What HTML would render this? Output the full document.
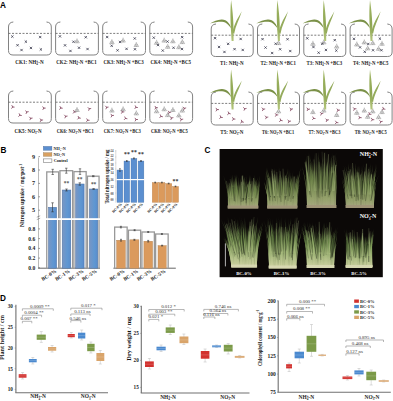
<!DOCTYPE html>
<html><head><meta charset="utf-8"><style>
html,body{margin:0;padding:0;background:#fff;width:393px;height:401px;overflow:hidden;}
svg{display:block;}
</style></head><body>
<svg width="393" height="401" viewBox="0 0 393 401">
<defs>
<linearGradient id="gb" x1="0" x2="1" y1="0" y2="0"><stop offset="0" stop-color="#7896c4"/><stop offset="0.6" stop-color="#5f97d2"/><stop offset="1" stop-color="#5a8ccb"/></linearGradient>
<linearGradient id="gc1" x1="0" x2="0" y1="0" y2="1"><stop offset="0" stop-color="#1c2416" stop-opacity="0.4"/><stop offset="0.35" stop-color="#4c6236" stop-opacity="0.85"/><stop offset="0.72" stop-color="#72864c"/><stop offset="1" stop-color="#a0a678"/></linearGradient>
<linearGradient id="gc2" x1="0" x2="0" y1="0" y2="1"><stop offset="0" stop-color="#1c2416" stop-opacity="0.5"/><stop offset="0.3" stop-color="#3e562e" stop-opacity="0.85"/><stop offset="0.6" stop-color="#5a7840"/><stop offset="0.76" stop-color="#8aa062"/><stop offset="1" stop-color="#b0b888"/></linearGradient>
<linearGradient id="gdark" x1="0" x2="0" y1="0" y2="1"><stop offset="0" stop-color="#0b0807" stop-opacity="0.45"/><stop offset="1" stop-color="#0b0807" stop-opacity="0"/></linearGradient>
<linearGradient id="gl" x1="0" x2="0" y1="0" y2="1"><stop offset="0" stop-color="#a3b868"/><stop offset="0.6" stop-color="#8ea652"/><stop offset="1" stop-color="#b4c67c"/></linearGradient>
<linearGradient id="cg1" gradientUnits="userSpaceOnUse" x1="0" y1="174.0" x2="0" y2="208.5"><stop offset="0" stop-color="#6a8248"/><stop offset="0.5" stop-color="#72894c"/><stop offset="0.85" stop-color="#98a46e"/><stop offset="1" stop-color="#aaa884"/></linearGradient>
<linearGradient id="cb1" gradientUnits="userSpaceOnUse" x1="0" y1="180.9" x2="0" y2="208.5"><stop offset="0" stop-color="#72894c" stop-opacity="0"/><stop offset="0.45" stop-color="#72894c" stop-opacity="0.6"/><stop offset="0.8" stop-color="#98a46e" stop-opacity="0.8"/><stop offset="1" stop-color="#aaa884" stop-opacity="0.9"/></linearGradient>
<linearGradient id="cg2" gradientUnits="userSpaceOnUse" x1="0" y1="166.8" x2="0" y2="208.5"><stop offset="0" stop-color="#6a8248"/><stop offset="0.5" stop-color="#72894c"/><stop offset="0.85" stop-color="#98a46e"/><stop offset="1" stop-color="#aaa884"/></linearGradient>
<linearGradient id="cb2" gradientUnits="userSpaceOnUse" x1="0" y1="175.1" x2="0" y2="208.5"><stop offset="0" stop-color="#72894c" stop-opacity="0"/><stop offset="0.45" stop-color="#72894c" stop-opacity="0.6"/><stop offset="0.8" stop-color="#98a46e" stop-opacity="0.8"/><stop offset="1" stop-color="#aaa884" stop-opacity="0.9"/></linearGradient>
<linearGradient id="cg3" gradientUnits="userSpaceOnUse" x1="0" y1="151.2" x2="0" y2="208.0"><stop offset="0" stop-color="#6a8248"/><stop offset="0.5" stop-color="#72894c"/><stop offset="0.85" stop-color="#98a46e"/><stop offset="1" stop-color="#aaa884"/></linearGradient>
<linearGradient id="cb3" gradientUnits="userSpaceOnUse" x1="0" y1="162.6" x2="0" y2="208.0"><stop offset="0" stop-color="#72894c" stop-opacity="0"/><stop offset="0.45" stop-color="#72894c" stop-opacity="0.6"/><stop offset="0.8" stop-color="#98a46e" stop-opacity="0.8"/><stop offset="1" stop-color="#aaa884" stop-opacity="0.9"/></linearGradient>
<linearGradient id="cg4" gradientUnits="userSpaceOnUse" x1="0" y1="163.0" x2="0" y2="208.0"><stop offset="0" stop-color="#6a8248"/><stop offset="0.5" stop-color="#72894c"/><stop offset="0.85" stop-color="#98a46e"/><stop offset="1" stop-color="#aaa884"/></linearGradient>
<linearGradient id="cb4" gradientUnits="userSpaceOnUse" x1="0" y1="172.0" x2="0" y2="208.0"><stop offset="0" stop-color="#72894c" stop-opacity="0"/><stop offset="0.45" stop-color="#72894c" stop-opacity="0.6"/><stop offset="0.8" stop-color="#98a46e" stop-opacity="0.8"/><stop offset="1" stop-color="#aaa884" stop-opacity="0.9"/></linearGradient>
<linearGradient id="cg5" gradientUnits="userSpaceOnUse" x1="0" y1="216.3" x2="0" y2="267.6"><stop offset="0" stop-color="#6a8a4c"/><stop offset="0.45" stop-color="#74924f"/><stop offset="0.7" stop-color="#a4b87a"/><stop offset="1" stop-color="#d0d4a4"/></linearGradient>
<linearGradient id="cb5" gradientUnits="userSpaceOnUse" x1="0" y1="226.6" x2="0" y2="267.6"><stop offset="0" stop-color="#74924f" stop-opacity="0"/><stop offset="0.45" stop-color="#74924f" stop-opacity="0.6"/><stop offset="0.8" stop-color="#a4b87a" stop-opacity="0.8"/><stop offset="1" stop-color="#d0d4a4" stop-opacity="0.9"/></linearGradient>
<linearGradient id="cg6" gradientUnits="userSpaceOnUse" x1="0" y1="216.5" x2="0" y2="268.5"><stop offset="0" stop-color="#6a8a4c"/><stop offset="0.45" stop-color="#74924f"/><stop offset="0.7" stop-color="#a4b87a"/><stop offset="1" stop-color="#d0d4a4"/></linearGradient>
<linearGradient id="cb6" gradientUnits="userSpaceOnUse" x1="0" y1="226.9" x2="0" y2="268.5"><stop offset="0" stop-color="#74924f" stop-opacity="0"/><stop offset="0.45" stop-color="#74924f" stop-opacity="0.6"/><stop offset="0.8" stop-color="#a4b87a" stop-opacity="0.8"/><stop offset="1" stop-color="#d0d4a4" stop-opacity="0.9"/></linearGradient>
<linearGradient id="cg7" gradientUnits="userSpaceOnUse" x1="0" y1="221.8" x2="0" y2="268.0"><stop offset="0" stop-color="#6a8a4c"/><stop offset="0.45" stop-color="#74924f"/><stop offset="0.7" stop-color="#a4b87a"/><stop offset="1" stop-color="#d0d4a4"/></linearGradient>
<linearGradient id="cb7" gradientUnits="userSpaceOnUse" x1="0" y1="231.0" x2="0" y2="268.0"><stop offset="0" stop-color="#74924f" stop-opacity="0"/><stop offset="0.45" stop-color="#74924f" stop-opacity="0.6"/><stop offset="0.8" stop-color="#a4b87a" stop-opacity="0.8"/><stop offset="1" stop-color="#d0d4a4" stop-opacity="0.9"/></linearGradient>
<linearGradient id="cg8" gradientUnits="userSpaceOnUse" x1="0" y1="228.0" x2="0" y2="268.0"><stop offset="0" stop-color="#6a8a4c"/><stop offset="0.45" stop-color="#74924f"/><stop offset="0.7" stop-color="#a4b87a"/><stop offset="1" stop-color="#d0d4a4"/></linearGradient>
<linearGradient id="cb8" gradientUnits="userSpaceOnUse" x1="0" y1="236.0" x2="0" y2="268.0"><stop offset="0" stop-color="#74924f" stop-opacity="0"/><stop offset="0.45" stop-color="#74924f" stop-opacity="0.6"/><stop offset="0.8" stop-color="#a4b87a" stop-opacity="0.8"/><stop offset="1" stop-color="#d0d4a4" stop-opacity="0.9"/></linearGradient></defs>
<rect width="393" height="401" fill="#fff"/>
<text x="0" y="7.6" font-family="Liberation Sans" font-weight="bold" font-size="8.2">A</text>
<path d="M13.3,22.0 Q8.5,22.4 8.5,27.0 L8.5,50.5 Q8.5,55.0 13.0,55.0 L46.8,55.0 Q51.3,55.0 51.3,50.5 L51.3,27.0 Q51.3,22.4 46.5,22.0" fill="none" stroke="#828282" stroke-width="1"/>
<line x1="8.5" y1="33.4" x2="51.3" y2="33.4" stroke="#666" stroke-width="0.85" stroke-dasharray="2,1.5"/>
<path d="M11.2,35.4L13.5,37.7M13.5,35.4L11.2,37.7" stroke="#3a3a4c" stroke-width="0.8"/>
<path d="M39.0,35.9L41.3,38.2M41.3,35.9L39.0,38.2" stroke="#3a3a4c" stroke-width="0.8"/>
<path d="M16.4,44.1L18.7,46.4M18.7,44.1L16.4,46.4" stroke="#3a3a4c" stroke-width="0.8"/>
<path d="M24.7,40.5L27.0,42.8M27.0,40.5L24.7,42.8" stroke="#3a3a4c" stroke-width="0.8"/>
<path d="M29.8,46.8L32.1,49.1M32.1,46.8L29.8,49.1" stroke="#3a3a4c" stroke-width="0.8"/>
<path d="M20.4,48.9L22.7,51.2M22.7,48.9L20.4,51.2" stroke="#3a3a4c" stroke-width="0.8"/>
<path d="M39.7,48.3L42.0,50.6M42.0,48.3L39.7,50.6" stroke="#3a3a4c" stroke-width="0.8"/>
<text x="15.2" y="63.6" font-family="Liberation Serif" font-weight="bold" font-size="5.8" textLength="28.4" lengthAdjust="spacingAndGlyphs" fill="#222"><tspan font-size="5.80" dy="0.00">CK1: NH</tspan><tspan font-size="3.60" dy="1.30">4</tspan><tspan font-size="3.60" dy="-3.20" dx="-1.6">+</tspan><tspan font-size="5.80" dy="1.90">-N</tspan></text>
<path d="M13.3,91.0 Q8.5,91.4 8.5,96.0 L8.5,118.5 Q8.5,123.0 13.0,123.0 L46.8,123.0 Q51.3,123.0 51.3,118.5 L51.3,96.0 Q51.3,91.4 46.5,91.0" fill="none" stroke="#828282" stroke-width="1"/>
<line x1="8.5" y1="102.2" x2="51.3" y2="102.2" stroke="#666" stroke-width="0.85" stroke-dasharray="2,1.5"/>
<path d="M12.7,107.0L14.2,107.1M12.7,107.0L11.7,108.3M12.7,107.0L11.9,105.5" stroke="#8a5068" stroke-width="0.85" stroke-linecap="round"/>
<path d="M43.8,108.1L45.3,108.1M43.8,108.1L42.9,109.6M43.8,108.1L42.8,106.8" stroke="#8a5068" stroke-width="0.85" stroke-linecap="round"/>
<path d="M19.9,115.2L21.4,115.5M19.9,115.2L18.7,116.4M19.9,115.2L19.2,113.7" stroke="#8a5068" stroke-width="0.85" stroke-linecap="round"/>
<path d="M26.8,112.0L28.3,111.7M26.8,112.0L26.1,113.6M26.8,112.0L25.6,110.9" stroke="#8a5068" stroke-width="0.85" stroke-linecap="round"/>
<path d="M30.7,118.3L32.2,118.1M30.7,118.3L30.0,119.8M30.7,118.3L29.5,117.1" stroke="#8a5068" stroke-width="0.85" stroke-linecap="round"/>
<path d="M41.2,120.1L42.7,120.0M41.2,120.1L40.3,121.6M41.2,120.1L40.2,118.8" stroke="#8a5068" stroke-width="0.85" stroke-linecap="round"/>
<text x="14.6" y="133.0" font-family="Liberation Serif" font-weight="bold" font-size="5.8" textLength="27.0" lengthAdjust="spacingAndGlyphs" fill="#222"><tspan font-size="5.80" dy="0.00">CK5: NO</tspan><tspan font-size="3.60" dy="1.30">3</tspan><tspan font-size="3.60" dy="-3.20" dx="-1.6">-</tspan><tspan font-size="5.80" dy="1.90">-N</tspan></text>
<path d="M60.4,22.0 Q55.6,22.4 55.6,27.0 L55.6,50.5 Q55.6,55.0 60.1,55.0 L93.9,55.0 Q98.4,55.0 98.4,50.5 L98.4,27.0 Q98.4,22.4 93.6,22.0" fill="none" stroke="#828282" stroke-width="1"/>
<line x1="55.6" y1="33.4" x2="98.4" y2="33.4" stroke="#666" stroke-width="0.85" stroke-dasharray="2,1.5"/>
<path d="M58.8,35.2L61.1,37.5M61.1,35.2L58.8,37.5" stroke="#3a3a4c" stroke-width="0.8"/>
<path d="M84.6,36.1L86.9,38.4M86.9,36.1L84.6,38.4" stroke="#3a3a4c" stroke-width="0.8"/>
<path d="M63.9,44.2L66.2,46.5M66.2,44.2L63.9,46.5" stroke="#3a3a4c" stroke-width="0.8"/>
<path d="M72.4,40.6L74.7,42.9M74.7,40.6L72.4,42.9" stroke="#3a3a4c" stroke-width="0.8"/>
<path d="M77.9,46.6L80.2,48.9M80.2,46.6L77.9,48.9" stroke="#3a3a4c" stroke-width="0.8"/>
<path d="M69.3,49.8L71.6,52.1M71.6,49.8L69.3,52.1" stroke="#3a3a4c" stroke-width="0.8"/>
<path d="M86.4,47.9L88.7,50.2M88.7,47.9L86.4,50.2" stroke="#3a3a4c" stroke-width="0.8"/>
<path d="M77.0,38.4L77.0,39.2M77.0,39.2L74.7,42.8L79.3,42.8ZM75.8,41.0L78.2,41.0L77.0,42.8Z" fill="none" stroke="#727272" stroke-width="0.42"/>
<text x="56.3" y="63.6" font-family="Liberation Serif" font-weight="bold" font-size="5.8" textLength="40.4" lengthAdjust="spacingAndGlyphs" fill="#222"><tspan font-size="5.80" dy="0.00">CK2: NH</tspan><tspan font-size="3.60" dy="1.30">4</tspan><tspan font-size="3.60" dy="-3.20" dx="-1.6">+</tspan><tspan font-size="5.80" dy="1.90">-N +BC1</tspan></text>
<path d="M60.4,91.0 Q55.6,91.4 55.6,96.0 L55.6,118.5 Q55.6,123.0 60.1,123.0 L93.9,123.0 Q98.4,123.0 98.4,118.5 L98.4,96.0 Q98.4,91.4 93.6,91.0" fill="none" stroke="#828282" stroke-width="1"/>
<line x1="55.6" y1="102.2" x2="98.4" y2="102.2" stroke="#666" stroke-width="0.85" stroke-dasharray="2,1.5"/>
<path d="M60.8,108.0L62.3,108.2M60.8,108.0L59.7,109.3M60.8,108.0L60.0,106.5" stroke="#8a5068" stroke-width="0.85" stroke-linecap="round"/>
<path d="M89.3,108.8L90.8,108.5M89.3,108.8L88.7,110.4M89.3,108.8L88.1,107.6" stroke="#8a5068" stroke-width="0.85" stroke-linecap="round"/>
<path d="M65.7,116.3L67.2,116.1M65.7,116.3L65.0,117.9M65.7,116.3L64.5,115.1" stroke="#8a5068" stroke-width="0.85" stroke-linecap="round"/>
<path d="M74.4,111.9L75.9,112.0M74.4,111.9L73.3,113.2M74.4,111.9L73.6,110.4" stroke="#8a5068" stroke-width="0.85" stroke-linecap="round"/>
<path d="M78.9,117.9L80.4,118.2M78.9,117.9L77.7,119.1M78.9,117.9L78.2,116.4" stroke="#8a5068" stroke-width="0.85" stroke-linecap="round"/>
<path d="M87.7,120.2L89.2,120.3M87.7,120.2L86.6,121.5M87.7,120.2L86.8,118.8" stroke="#8a5068" stroke-width="0.85" stroke-linecap="round"/>
<path d="M77.0,107.0L77.0,107.9M77.0,107.9L74.7,111.5L79.3,111.5ZM75.8,109.7L78.2,109.7L77.0,111.5Z" fill="none" stroke="#727272" stroke-width="0.42"/>
<text x="56.7" y="133.0" font-family="Liberation Serif" font-weight="bold" font-size="5.8" textLength="37.0" lengthAdjust="spacingAndGlyphs" fill="#222"><tspan font-size="5.80" dy="0.00">CK6: NO</tspan><tspan font-size="3.60" dy="1.30">3</tspan><tspan font-size="3.60" dy="-3.20" dx="-1.6">-</tspan><tspan font-size="5.80" dy="1.90">-N +BC1</tspan></text>
<path d="M107.5,22.0 Q102.7,22.4 102.7,27.0 L102.7,50.5 Q102.7,55.0 107.2,55.0 L141.0,55.0 Q145.5,55.0 145.5,50.5 L145.5,27.0 Q145.5,22.4 140.7,22.0" fill="none" stroke="#828282" stroke-width="1"/>
<line x1="102.7" y1="33.4" x2="145.5" y2="33.4" stroke="#666" stroke-width="0.85" stroke-dasharray="2,1.5"/>
<path d="M106.0,35.9L108.3,38.2M108.3,35.9L106.0,38.2" stroke="#3a3a4c" stroke-width="0.8"/>
<path d="M133.6,37.3L135.9,39.6M135.9,37.3L133.6,39.6" stroke="#3a3a4c" stroke-width="0.8"/>
<path d="M110.5,44.6L112.8,46.9M112.8,44.6L110.5,46.9" stroke="#3a3a4c" stroke-width="0.8"/>
<path d="M118.9,40.8L121.2,43.1M121.2,40.8L118.9,43.1" stroke="#3a3a4c" stroke-width="0.8"/>
<path d="M125.4,47.7L127.7,50.0M127.7,47.7L125.4,50.0" stroke="#3a3a4c" stroke-width="0.8"/>
<path d="M116.4,49.2L118.7,51.5M118.7,49.2L116.4,51.5" stroke="#3a3a4c" stroke-width="0.8"/>
<path d="M133.8,48.1L136.1,50.4M136.1,48.1L133.8,50.4" stroke="#3a3a4c" stroke-width="0.8"/>
<path d="M111.9,39.1L111.9,40.0M111.9,40.0L109.6,43.6L114.2,43.6ZM110.8,41.8L113.1,41.8L111.9,43.6Z" fill="none" stroke="#727272" stroke-width="0.42"/>
<path d="M123.1,37.6L123.1,38.5M123.1,38.5L120.8,42.1L125.4,42.1ZM121.9,40.3L124.2,40.3L123.1,42.1Z" fill="none" stroke="#727272" stroke-width="0.42"/>
<path d="M136.3,42.0L136.3,42.9M136.3,42.9L134.0,46.5L138.6,46.5ZM135.1,44.7L137.4,44.7L136.3,46.5Z" fill="none" stroke="#727272" stroke-width="0.42"/>
<text x="103.4" y="63.6" font-family="Liberation Serif" font-weight="bold" font-size="5.8" textLength="40.4" lengthAdjust="spacingAndGlyphs" fill="#222"><tspan font-size="5.80" dy="0.00">CK3: NH</tspan><tspan font-size="3.60" dy="1.30">4</tspan><tspan font-size="3.60" dy="-3.20" dx="-1.6">+</tspan><tspan font-size="5.80" dy="1.90">-N +BC3</tspan></text>
<path d="M107.5,91.0 Q102.7,91.4 102.7,96.0 L102.7,118.5 Q102.7,123.0 107.2,123.0 L141.0,123.0 Q145.5,123.0 145.5,118.5 L145.5,96.0 Q145.5,91.4 140.7,91.0" fill="none" stroke="#828282" stroke-width="1"/>
<line x1="102.7" y1="102.2" x2="145.5" y2="102.2" stroke="#666" stroke-width="0.85" stroke-dasharray="2,1.5"/>
<path d="M106.7,107.3L108.2,107.1M106.7,107.3L106.0,108.9M106.7,107.3L105.5,106.1" stroke="#8a5068" stroke-width="0.85" stroke-linecap="round"/>
<path d="M136.0,107.3L137.5,107.5M136.0,107.3L134.9,108.6M136.0,107.3L135.3,105.8" stroke="#8a5068" stroke-width="0.85" stroke-linecap="round"/>
<path d="M112.1,115.5L113.6,115.4M112.1,115.5L111.2,117.0M112.1,115.5L111.0,114.2" stroke="#8a5068" stroke-width="0.85" stroke-linecap="round"/>
<path d="M122.4,111.9L123.9,111.9M122.4,111.9L121.5,113.3M122.4,111.9L121.4,110.6" stroke="#8a5068" stroke-width="0.85" stroke-linecap="round"/>
<path d="M125.5,118.4L127.0,118.7M125.5,118.4L124.3,119.6M125.5,118.4L124.8,116.9" stroke="#8a5068" stroke-width="0.85" stroke-linecap="round"/>
<path d="M136.1,119.5L137.6,119.5M136.1,119.5L135.2,121.0M136.1,119.5L135.1,118.2" stroke="#8a5068" stroke-width="0.85" stroke-linecap="round"/>
<path d="M111.9,107.6L111.9,108.5M111.9,108.5L109.6,112.1L114.2,112.1ZM110.8,110.3L113.1,110.3L111.9,112.1Z" fill="none" stroke="#727272" stroke-width="0.42"/>
<path d="M123.1,106.3L123.1,107.2M123.1,107.2L120.8,110.8L125.4,110.8ZM121.9,109.0L124.2,109.0L123.1,110.8Z" fill="none" stroke="#727272" stroke-width="0.42"/>
<path d="M136.3,110.4L136.3,111.3M136.3,111.3L134.0,114.9L138.6,114.9ZM135.1,113.1L137.4,113.1L136.3,114.9Z" fill="none" stroke="#727272" stroke-width="0.42"/>
<text x="103.8" y="133.0" font-family="Liberation Serif" font-weight="bold" font-size="5.8" textLength="37.0" lengthAdjust="spacingAndGlyphs" fill="#222"><tspan font-size="5.80" dy="0.00">CK7: NO</tspan><tspan font-size="3.60" dy="1.30">3</tspan><tspan font-size="3.60" dy="-3.20" dx="-1.6">-</tspan><tspan font-size="5.80" dy="1.90">-N +BC3</tspan></text>
<path d="M154.6,22.0 Q149.8,22.4 149.8,27.0 L149.8,50.5 Q149.8,55.0 154.3,55.0 L188.1,55.0 Q192.6,55.0 192.6,50.5 L192.6,27.0 Q192.6,22.4 187.8,22.0" fill="none" stroke="#828282" stroke-width="1"/>
<line x1="149.8" y1="33.4" x2="192.6" y2="33.4" stroke="#666" stroke-width="0.85" stroke-dasharray="2,1.5"/>
<path d="M152.6,36.5L154.9,38.8M154.9,36.5L152.6,38.8" stroke="#3a3a4c" stroke-width="0.8"/>
<path d="M181.0,36.0L183.3,38.3M183.3,36.0L181.0,38.3" stroke="#3a3a4c" stroke-width="0.8"/>
<path d="M156.9,43.9L159.2,46.2M159.2,43.9L156.9,46.2" stroke="#3a3a4c" stroke-width="0.8"/>
<path d="M166.4,40.4L168.7,42.7M168.7,40.4L166.4,42.7" stroke="#3a3a4c" stroke-width="0.8"/>
<path d="M172.4,46.6L174.7,48.9M174.7,46.6L172.4,48.9" stroke="#3a3a4c" stroke-width="0.8"/>
<path d="M161.6,49.4L163.9,51.7M163.9,49.4L161.6,51.7" stroke="#3a3a4c" stroke-width="0.8"/>
<path d="M180.9,47.9L183.2,50.2M183.2,47.9L180.9,50.2" stroke="#3a3a4c" stroke-width="0.8"/>
<path d="M156.6,39.8L156.6,40.7M156.6,40.7L154.3,44.3L158.9,44.3ZM155.4,42.5L157.7,42.5L156.6,44.3Z" fill="none" stroke="#727272" stroke-width="0.42"/>
<path d="M164.2,37.6L164.2,38.5M164.2,38.5L161.9,42.1L166.5,42.1ZM163.1,40.3L165.4,40.3L164.2,42.1Z" fill="none" stroke="#727272" stroke-width="0.42"/>
<path d="M172.9,38.4L172.9,39.2M172.9,39.2L170.6,42.8L175.2,42.8ZM171.8,41.0L174.1,41.0L172.9,42.8Z" fill="none" stroke="#727272" stroke-width="0.42"/>
<path d="M182.3,39.1L182.3,40.0M182.3,40.0L180.0,43.6L184.6,43.6ZM181.2,41.8L183.5,41.8L182.3,43.6Z" fill="none" stroke="#727272" stroke-width="0.42"/>
<path d="M167.7,43.8L167.7,44.7M167.7,44.7L165.4,48.3L170.0,48.3ZM166.6,46.5L168.9,46.5L167.7,48.3Z" fill="none" stroke="#727272" stroke-width="0.42"/>
<path d="M178.9,44.2L178.9,45.1M178.9,45.1L176.6,48.7L181.2,48.7ZM177.7,46.9L180.0,46.9L178.9,48.7Z" fill="none" stroke="#727272" stroke-width="0.42"/>
<text x="150.5" y="63.6" font-family="Liberation Serif" font-weight="bold" font-size="5.8" textLength="40.4" lengthAdjust="spacingAndGlyphs" fill="#222"><tspan font-size="5.80" dy="0.00">CK4: NH</tspan><tspan font-size="3.60" dy="1.30">4</tspan><tspan font-size="3.60" dy="-3.20" dx="-1.6">+</tspan><tspan font-size="5.80" dy="1.90">-N +BC5</tspan></text>
<path d="M154.6,91.0 Q149.8,91.4 149.8,96.0 L149.8,118.5 Q149.8,123.0 154.3,123.0 L188.1,123.0 Q192.6,123.0 192.6,118.5 L192.6,96.0 Q192.6,91.4 187.8,91.0" fill="none" stroke="#828282" stroke-width="1"/>
<line x1="149.8" y1="102.2" x2="192.6" y2="102.2" stroke="#666" stroke-width="0.85" stroke-dasharray="2,1.5"/>
<path d="M156.0,107.7L157.5,107.7M156.0,107.7L155.0,109.1M156.0,107.7L155.1,106.3" stroke="#8a5068" stroke-width="0.85" stroke-linecap="round"/>
<path d="M184.3,108.3L185.8,108.0M184.3,108.3L183.7,109.9M184.3,108.3L183.1,107.2" stroke="#8a5068" stroke-width="0.85" stroke-linecap="round"/>
<path d="M161.0,116.4L162.5,116.7M161.0,116.4L159.8,117.6M161.0,116.4L160.3,114.8" stroke="#8a5068" stroke-width="0.85" stroke-linecap="round"/>
<path d="M169.3,112.4L170.8,112.3M169.3,112.4L168.4,113.9M169.3,112.4L168.3,111.1" stroke="#8a5068" stroke-width="0.85" stroke-linecap="round"/>
<path d="M171.5,118.0L173.0,117.7M171.5,118.0L170.9,119.6M171.5,118.0L170.3,116.9" stroke="#8a5068" stroke-width="0.85" stroke-linecap="round"/>
<path d="M181.3,119.4L182.8,119.2M181.3,119.4L180.6,121.0M181.3,119.4L180.1,118.2" stroke="#8a5068" stroke-width="0.85" stroke-linecap="round"/>
<path d="M156.6,108.3L156.6,109.2M156.6,109.2L154.3,112.8L158.9,112.8ZM155.4,111.0L157.7,111.0L156.6,112.8Z" fill="none" stroke="#727272" stroke-width="0.42"/>
<path d="M164.2,106.3L164.2,107.2M164.2,107.2L161.9,110.8L166.5,110.8ZM163.1,109.0L165.4,109.0L164.2,110.8Z" fill="none" stroke="#727272" stroke-width="0.42"/>
<path d="M172.9,107.0L172.9,107.9M172.9,107.9L170.6,111.5L175.2,111.5ZM171.8,109.7L174.1,109.7L172.9,111.5Z" fill="none" stroke="#727272" stroke-width="0.42"/>
<path d="M182.3,107.6L182.3,108.5M182.3,108.5L180.0,112.1L184.6,112.1ZM181.2,110.3L183.5,110.3L182.3,112.1Z" fill="none" stroke="#727272" stroke-width="0.42"/>
<path d="M167.7,112.1L167.7,113.0M167.7,113.0L165.4,116.6L170.0,116.6ZM166.6,114.8L168.9,114.8L167.7,116.6Z" fill="none" stroke="#727272" stroke-width="0.42"/>
<path d="M178.9,112.5L178.9,113.4M178.9,113.4L176.6,117.0L181.2,117.0ZM177.7,115.2L180.0,115.2L178.9,117.0Z" fill="none" stroke="#727272" stroke-width="0.42"/>
<text x="150.9" y="133.0" font-family="Liberation Serif" font-weight="bold" font-size="5.8" textLength="37.0" lengthAdjust="spacingAndGlyphs" fill="#222"><tspan font-size="5.80" dy="0.00">CK8: NO</tspan><tspan font-size="3.60" dy="1.30">3</tspan><tspan font-size="3.60" dy="-3.20" dx="-1.6">-</tspan><tspan font-size="5.80" dy="1.90">-N +BC5</tspan></text>
<path d="M216.0,24.0 Q211.2,24.4 211.2,29.0 L211.2,52.0 Q211.2,56.5 215.7,56.5 L248.7,56.5 Q253.2,56.5 253.2,52.0 L253.2,29.0 Q253.2,24.4 248.4,24.0" fill="none" stroke="#828282" stroke-width="1"/>
<line x1="211.2" y1="35.2" x2="253.2" y2="35.2" stroke="#666" stroke-width="0.85" stroke-dasharray="2,1.5"/>
<path d="M213.9,37.0L216.2,39.3M216.2,37.0L213.9,39.3" stroke="#3a3a4c" stroke-width="0.8"/>
<path d="M239.5,37.8L241.8,40.1M241.8,37.8L239.5,40.1" stroke="#3a3a4c" stroke-width="0.8"/>
<path d="M217.9,45.8L220.2,48.1M220.2,45.8L217.9,48.1" stroke="#3a3a4c" stroke-width="0.8"/>
<path d="M227.0,42.7L229.3,45.0M229.3,42.7L227.0,45.0" stroke="#3a3a4c" stroke-width="0.8"/>
<path d="M233.4,48.0L235.7,50.3M235.7,48.0L233.4,50.3" stroke="#3a3a4c" stroke-width="0.8"/>
<path d="M223.3,50.8L225.6,53.1M225.6,50.8L223.3,53.1" stroke="#3a3a4c" stroke-width="0.8"/>
<path d="M241.6,48.8L243.9,51.1M243.9,48.8L241.6,51.1" stroke="#3a3a4c" stroke-width="0.8"/>
<text x="220.0" y="65.0" font-family="Liberation Serif" font-weight="bold" font-size="5.8" textLength="23.6" lengthAdjust="spacingAndGlyphs" fill="#222"><tspan font-size="5.80" dy="0.00">T1: NH</tspan><tspan font-size="3.60" dy="1.30">4</tspan><tspan font-size="3.60" dy="-3.20" dx="-1.6">+</tspan><tspan font-size="5.80" dy="1.90">-N</tspan></text>
<path d="M231.7,31.0 C231.0,24.0 226.5,19.3 221.5,19.6 C217.5,19.8 213.5,21.3 210.0,23.6 C214.5,22.2 218.5,21.7 222.0,21.8 C226.5,22.0 230.0,26.0 233.3,32.0Z" fill="#7b9148"/>
<path d="M231.6,41.0 C230.9,26.0 229.7,15.0 231.1,0.0 C232.9,12.0 233.8,23.0 233.6,41.0Z" fill="url(#gl)"/>
<path d="M232.5,32.0 C234.5,23.0 238.5,17.0 241.8,11.3 C239.5,19.0 235.5,26.0 234.1,34.0Z" fill="#94ab5c"/>
<path d="M216.0,92.0 Q211.2,92.4 211.2,97.0 L211.2,120.5 Q211.2,125.0 215.7,125.0 L248.7,125.0 Q253.2,125.0 253.2,120.5 L253.2,97.0 Q253.2,92.4 248.4,92.0" fill="none" stroke="#828282" stroke-width="1"/>
<line x1="211.2" y1="103.4" x2="253.2" y2="103.4" stroke="#666" stroke-width="0.85" stroke-dasharray="2,1.5"/>
<path d="M217.1,109.6L218.6,109.6M217.1,109.6L216.1,111.0M217.1,109.6L216.1,108.2" stroke="#8a5068" stroke-width="0.85" stroke-linecap="round"/>
<path d="M244.8,108.8L246.2,108.5M244.8,108.8L244.1,110.3M244.8,108.8L243.5,107.6" stroke="#8a5068" stroke-width="0.85" stroke-linecap="round"/>
<path d="M220.9,117.3L222.4,117.5M220.9,117.3L219.7,118.5M220.9,117.3L220.2,115.7" stroke="#8a5068" stroke-width="0.85" stroke-linecap="round"/>
<path d="M228.9,113.4L230.3,113.8M228.9,113.4L227.6,114.6M228.9,113.4L228.2,111.9" stroke="#8a5068" stroke-width="0.85" stroke-linecap="round"/>
<path d="M233.5,119.0L235.0,119.1M233.5,119.0L232.5,120.4M233.5,119.0L232.6,117.6" stroke="#8a5068" stroke-width="0.85" stroke-linecap="round"/>
<path d="M242.0,121.8L243.4,122.2M242.0,121.8L240.7,122.9M242.0,121.8L241.4,120.2" stroke="#8a5068" stroke-width="0.85" stroke-linecap="round"/>
<text x="220.3" y="133.5" font-family="Liberation Serif" font-weight="bold" font-size="5.8" textLength="23.0" lengthAdjust="spacingAndGlyphs" fill="#222"><tspan font-size="5.80" dy="0.00">T5: NO</tspan><tspan font-size="3.60" dy="1.30">3</tspan><tspan font-size="3.60" dy="-3.20" dx="-1.6">-</tspan><tspan font-size="5.80" dy="1.90">-N</tspan></text>
<path d="M231.7,99.5 C231.0,92.5 226.5,88.8 221.5,89.1 C217.5,89.3 213.5,90.8 210.0,93.1 C214.5,91.7 218.5,91.2 222.0,91.3 C226.5,91.5 230.0,94.5 233.3,100.5Z" fill="#7b9148"/>
<path d="M231.6,109.5 C230.9,94.5 229.7,84.5 231.1,69.5 C232.9,81.5 233.8,91.5 233.6,109.5Z" fill="url(#gl)"/>
<path d="M232.5,100.5 C234.5,91.5 238.5,86.5 241.8,80.8 C239.5,88.5 235.5,94.5 234.1,102.5Z" fill="#94ab5c"/>
<path d="M262.3,24.0 Q257.5,24.4 257.5,29.0 L257.5,52.0 Q257.5,56.5 262.0,56.5 L295.0,56.5 Q299.5,56.5 299.5,52.0 L299.5,29.0 Q299.5,24.4 294.7,24.0" fill="none" stroke="#828282" stroke-width="1"/>
<line x1="257.5" y1="35.2" x2="299.5" y2="35.2" stroke="#666" stroke-width="0.85" stroke-dasharray="2,1.5"/>
<path d="M261.4,38.0L263.7,40.3M263.7,38.0L261.4,40.3" stroke="#3a3a4c" stroke-width="0.8"/>
<path d="M286.4,38.1L288.7,40.4M288.7,38.1L286.4,40.4" stroke="#3a3a4c" stroke-width="0.8"/>
<path d="M264.4,46.4L266.7,48.7M266.7,46.4L264.4,48.7" stroke="#3a3a4c" stroke-width="0.8"/>
<path d="M274.5,42.6L276.8,44.9M276.8,42.6L274.5,44.9" stroke="#3a3a4c" stroke-width="0.8"/>
<path d="M279.0,48.1L281.3,50.4M281.3,48.1L279.0,50.4" stroke="#3a3a4c" stroke-width="0.8"/>
<path d="M271.0,51.9L273.3,54.2M273.3,51.9L271.0,54.2" stroke="#3a3a4c" stroke-width="0.8"/>
<path d="M289.1,49.9L291.4,52.2M291.4,49.9L289.1,52.2" stroke="#3a3a4c" stroke-width="0.8"/>
<path d="M278.5,40.1L278.5,41.0M278.5,41.0L276.2,44.6L280.8,44.6ZM277.4,42.8L279.6,42.8L278.5,44.6Z" fill="none" stroke="#727272" stroke-width="0.42"/>
<text x="260.4" y="65.0" font-family="Liberation Serif" font-weight="bold" font-size="5.8" textLength="35.5" lengthAdjust="spacingAndGlyphs" fill="#222"><tspan font-size="5.80" dy="0.00">T2: NH</tspan><tspan font-size="3.60" dy="1.30">4</tspan><tspan font-size="3.60" dy="-3.20" dx="-1.6">+</tspan><tspan font-size="5.80" dy="1.90">-N +BC1</tspan></text>
<path d="M278.0,31.0 C277.3,24.0 272.8,19.3 267.8,19.6 C263.8,19.8 259.8,21.3 256.3,23.6 C260.8,22.2 264.8,21.7 268.3,21.8 C272.8,22.0 276.3,26.0 279.6,32.0Z" fill="#7b9148"/>
<path d="M277.9,41.0 C277.2,26.0 276.0,15.0 277.4,0.0 C279.2,12.0 280.1,23.0 279.9,41.0Z" fill="url(#gl)"/>
<path d="M278.8,32.0 C280.8,23.0 284.8,17.0 288.1,11.3 C285.8,19.0 281.8,26.0 280.4,34.0Z" fill="#94ab5c"/>
<path d="M262.3,92.0 Q257.5,92.4 257.5,97.0 L257.5,120.5 Q257.5,125.0 262.0,125.0 L295.0,125.0 Q299.5,125.0 299.5,120.5 L299.5,97.0 Q299.5,92.4 294.7,92.0" fill="none" stroke="#828282" stroke-width="1"/>
<line x1="257.5" y1="103.4" x2="299.5" y2="103.4" stroke="#666" stroke-width="0.85" stroke-dasharray="2,1.5"/>
<path d="M263.3,109.2L264.8,109.0M263.3,109.2L262.5,110.7M263.3,109.2L262.1,107.9" stroke="#8a5068" stroke-width="0.85" stroke-linecap="round"/>
<path d="M291.1,109.2L292.6,108.9M291.1,109.2L290.5,110.8M291.1,109.2L289.9,108.1" stroke="#8a5068" stroke-width="0.85" stroke-linecap="round"/>
<path d="M266.4,117.3L267.9,117.1M266.4,117.3L265.7,118.8M266.4,117.3L265.3,116.0" stroke="#8a5068" stroke-width="0.85" stroke-linecap="round"/>
<path d="M276.4,114.9L277.9,114.9M276.4,114.9L275.5,116.3M276.4,114.9L275.4,113.6" stroke="#8a5068" stroke-width="0.85" stroke-linecap="round"/>
<path d="M280.8,120.4L282.3,120.7M280.8,120.4L279.5,121.5M280.8,120.4L280.2,118.8" stroke="#8a5068" stroke-width="0.85" stroke-linecap="round"/>
<path d="M289.1,121.3L290.6,121.1M289.1,121.3L288.3,122.8M289.1,121.3L287.9,120.1" stroke="#8a5068" stroke-width="0.85" stroke-linecap="round"/>
<path d="M278.5,108.4L278.5,109.3M278.5,109.3L276.2,112.9L280.8,112.9ZM277.4,111.1L279.6,111.1L278.5,112.9Z" fill="none" stroke="#727272" stroke-width="0.42"/>
<text x="262.1" y="133.5" font-family="Liberation Serif" font-weight="bold" font-size="5.8" textLength="32.0" lengthAdjust="spacingAndGlyphs" fill="#222"><tspan font-size="5.80" dy="0.00">T6: NO</tspan><tspan font-size="3.60" dy="1.30">3</tspan><tspan font-size="3.60" dy="-3.20" dx="-1.6">-</tspan><tspan font-size="5.80" dy="1.90">-N +BC1</tspan></text>
<path d="M278.0,99.5 C277.3,92.5 272.8,88.8 267.8,89.1 C263.8,89.3 259.8,90.8 256.3,93.1 C260.8,91.7 264.8,91.2 268.3,91.3 C272.8,91.5 276.3,94.5 279.6,100.5Z" fill="#7b9148"/>
<path d="M277.9,109.5 C277.2,94.5 276.0,84.5 277.4,69.5 C279.2,81.5 280.1,91.5 279.9,109.5Z" fill="url(#gl)"/>
<path d="M278.8,100.5 C280.8,91.5 284.8,86.5 288.1,80.8 C285.8,88.5 281.8,94.5 280.4,102.5Z" fill="#94ab5c"/>
<path d="M308.6,24.0 Q303.8,24.4 303.8,29.0 L303.8,52.0 Q303.8,56.5 308.3,56.5 L341.3,56.5 Q345.8,56.5 345.8,52.0 L345.8,29.0 Q345.8,24.4 341.0,24.0" fill="none" stroke="#828282" stroke-width="1"/>
<line x1="303.8" y1="35.2" x2="345.8" y2="35.2" stroke="#666" stroke-width="0.85" stroke-dasharray="2,1.5"/>
<path d="M306.1,37.2L308.4,39.5M308.4,37.2L306.1,39.5" stroke="#3a3a4c" stroke-width="0.8"/>
<path d="M333.6,39.0L335.9,41.3M335.9,39.0L333.6,41.3" stroke="#3a3a4c" stroke-width="0.8"/>
<path d="M312.3,45.9L314.6,48.2M314.6,45.9L312.3,48.2" stroke="#3a3a4c" stroke-width="0.8"/>
<path d="M321.1,42.6L323.4,44.9M323.4,42.6L321.1,44.9" stroke="#3a3a4c" stroke-width="0.8"/>
<path d="M324.8,48.8L327.1,51.1M327.1,48.8L324.8,51.1" stroke="#3a3a4c" stroke-width="0.8"/>
<path d="M317.5,51.5L319.8,53.8M319.8,51.5L317.5,53.8" stroke="#3a3a4c" stroke-width="0.8"/>
<path d="M335.2,49.4L337.5,51.7M337.5,49.4L335.2,51.7" stroke="#3a3a4c" stroke-width="0.8"/>
<path d="M312.9,40.8L312.9,41.7M312.9,41.7L310.6,45.3L315.2,45.3ZM311.8,43.5L314.0,43.5L312.9,45.3Z" fill="none" stroke="#727272" stroke-width="0.42"/>
<path d="M323.8,39.4L323.8,40.3M323.8,40.3L321.5,43.9L326.1,43.9ZM322.6,42.1L324.9,42.1L323.8,43.9Z" fill="none" stroke="#727272" stroke-width="0.42"/>
<path d="M336.7,43.7L336.7,44.6M336.7,44.6L334.4,48.1L339.0,48.1ZM335.5,46.4L337.8,46.4L336.7,48.1Z" fill="none" stroke="#727272" stroke-width="0.42"/>
<text x="306.6" y="65.0" font-family="Liberation Serif" font-weight="bold" font-size="5.8" textLength="35.5" lengthAdjust="spacingAndGlyphs" fill="#222"><tspan font-size="5.80" dy="0.00">T3: NH</tspan><tspan font-size="3.60" dy="1.30">4</tspan><tspan font-size="3.60" dy="-3.20" dx="-1.6">+</tspan><tspan font-size="5.80" dy="1.90">-N +BC3</tspan></text>
<path d="M324.3,31.0 C323.6,24.0 319.1,19.3 314.1,19.6 C310.1,19.8 306.1,21.3 302.6,23.6 C307.1,22.2 311.1,21.7 314.6,21.8 C319.1,22.0 322.6,26.0 325.9,32.0Z" fill="#7b9148"/>
<path d="M324.2,41.0 C323.5,26.0 322.3,15.0 323.7,0.0 C325.5,12.0 326.4,23.0 326.2,41.0Z" fill="url(#gl)"/>
<path d="M325.1,32.0 C327.1,23.0 331.1,17.0 334.4,11.3 C332.1,19.0 328.1,26.0 326.7,34.0Z" fill="#94ab5c"/>
<path d="M308.6,92.0 Q303.8,92.4 303.8,97.0 L303.8,120.5 Q303.8,125.0 308.3,125.0 L341.3,125.0 Q345.8,125.0 345.8,120.5 L345.8,97.0 Q345.8,92.4 341.0,92.0" fill="none" stroke="#828282" stroke-width="1"/>
<line x1="303.8" y1="103.4" x2="345.8" y2="103.4" stroke="#666" stroke-width="0.85" stroke-dasharray="2,1.5"/>
<path d="M308.1,109.3L309.6,109.1M308.1,109.3L307.2,110.7M308.1,109.3L307.0,108.0" stroke="#8a5068" stroke-width="0.85" stroke-linecap="round"/>
<path d="M338.1,110.2L339.6,110.1M338.1,110.2L337.2,111.6M338.1,110.2L337.1,108.9" stroke="#8a5068" stroke-width="0.85" stroke-linecap="round"/>
<path d="M313.6,118.4L315.1,118.5M313.6,118.4L312.5,119.6M313.6,118.4L312.8,116.9" stroke="#8a5068" stroke-width="0.85" stroke-linecap="round"/>
<path d="M321.5,113.6L323.0,113.3M321.5,113.6L320.8,115.1M321.5,113.6L320.3,112.4" stroke="#8a5068" stroke-width="0.85" stroke-linecap="round"/>
<path d="M327.0,120.1L328.5,119.8M327.0,120.1L326.3,121.6M327.0,120.1L325.8,118.9" stroke="#8a5068" stroke-width="0.85" stroke-linecap="round"/>
<path d="M336.5,122.5L338.0,122.7M336.5,122.5L335.4,123.8M336.5,122.5L335.6,121.1" stroke="#8a5068" stroke-width="0.85" stroke-linecap="round"/>
<path d="M312.9,109.1L312.9,110.0M312.9,110.0L310.6,113.6L315.2,113.6ZM311.8,111.8L314.0,111.8L312.9,113.6Z" fill="none" stroke="#727272" stroke-width="0.42"/>
<path d="M323.8,107.6L323.8,108.5M323.8,108.5L321.5,112.1L326.1,112.1ZM322.6,110.3L324.9,110.3L323.8,112.1Z" fill="none" stroke="#727272" stroke-width="0.42"/>
<path d="M336.7,112.0L336.7,112.9M336.7,112.9L334.4,116.5L339.0,116.5ZM335.5,114.7L337.8,114.7L336.7,116.5Z" fill="none" stroke="#727272" stroke-width="0.42"/>
<text x="308.4" y="133.5" font-family="Liberation Serif" font-weight="bold" font-size="5.8" textLength="32.0" lengthAdjust="spacingAndGlyphs" fill="#222"><tspan font-size="5.80" dy="0.00">T7: NO</tspan><tspan font-size="3.60" dy="1.30">3</tspan><tspan font-size="3.60" dy="-3.20" dx="-1.6">-</tspan><tspan font-size="5.80" dy="1.90">-N +BC3</tspan></text>
<path d="M324.3,99.5 C323.6,92.5 319.1,88.8 314.1,89.1 C310.1,89.3 306.1,90.8 302.6,93.1 C307.1,91.7 311.1,91.2 314.6,91.3 C319.1,91.5 322.6,94.5 325.9,100.5Z" fill="#7b9148"/>
<path d="M324.2,109.5 C323.5,94.5 322.3,84.5 323.7,69.5 C325.5,81.5 326.4,91.5 326.2,109.5Z" fill="url(#gl)"/>
<path d="M325.1,100.5 C327.1,91.5 331.1,86.5 334.4,80.8 C332.1,88.5 328.1,94.5 326.7,102.5Z" fill="#94ab5c"/>
<path d="M354.9,24.0 Q350.1,24.4 350.1,29.0 L350.1,52.0 Q350.1,56.5 354.6,56.5 L387.6,56.5 Q392.1,56.5 392.1,52.0 L392.1,29.0 Q392.1,24.4 387.3,24.0" fill="none" stroke="#828282" stroke-width="1"/>
<line x1="350.1" y1="35.2" x2="392.1" y2="35.2" stroke="#666" stroke-width="0.85" stroke-dasharray="2,1.5"/>
<path d="M352.8,37.7L355.1,40.0M355.1,37.7L352.8,40.0" stroke="#3a3a4c" stroke-width="0.8"/>
<path d="M378.7,37.5L381.0,39.8M381.0,37.5L378.7,39.8" stroke="#3a3a4c" stroke-width="0.8"/>
<path d="M358.9,46.2L361.2,48.5M361.2,46.2L358.9,48.5" stroke="#3a3a4c" stroke-width="0.8"/>
<path d="M367.1,42.8L369.4,45.1M369.4,42.8L367.1,45.1" stroke="#3a3a4c" stroke-width="0.8"/>
<path d="M371.9,49.1L374.2,51.4M374.2,49.1L371.9,51.4" stroke="#3a3a4c" stroke-width="0.8"/>
<path d="M363.6,50.6L365.9,52.9M365.9,50.6L363.6,52.9" stroke="#3a3a4c" stroke-width="0.8"/>
<path d="M380.3,49.1L382.6,51.4M382.6,49.1L380.3,51.4" stroke="#3a3a4c" stroke-width="0.8"/>
<path d="M356.8,41.5L356.8,42.4M356.8,42.4L354.5,46.0L359.1,46.0ZM355.7,44.2L358.0,44.2L356.8,46.0Z" fill="none" stroke="#727272" stroke-width="0.42"/>
<path d="M364.3,39.4L364.3,40.3M364.3,40.3L362.0,43.9L366.6,43.9ZM363.1,42.1L365.4,42.1L364.3,43.9Z" fill="none" stroke="#727272" stroke-width="0.42"/>
<path d="M372.8,40.1L372.8,41.0M372.8,41.0L370.5,44.6L375.1,44.6ZM371.6,42.8L373.9,42.8L372.8,44.6Z" fill="none" stroke="#727272" stroke-width="0.42"/>
<path d="M382.0,40.8L382.0,41.7M382.0,41.7L379.7,45.3L384.3,45.3ZM380.8,43.5L383.1,43.5L382.0,45.3Z" fill="none" stroke="#727272" stroke-width="0.42"/>
<path d="M367.7,45.4L367.7,46.3M367.7,46.3L365.4,49.9L370.0,49.9ZM366.6,48.1L368.8,48.1L367.7,49.9Z" fill="none" stroke="#727272" stroke-width="0.42"/>
<path d="M378.6,45.8L378.6,46.7M378.6,46.7L376.3,50.3L380.9,50.3ZM377.4,48.5L379.7,48.5L378.6,50.3Z" fill="none" stroke="#727272" stroke-width="0.42"/>
<text x="352.9" y="65.0" font-family="Liberation Serif" font-weight="bold" font-size="5.8" textLength="35.5" lengthAdjust="spacingAndGlyphs" fill="#222"><tspan font-size="5.80" dy="0.00">T4: NH</tspan><tspan font-size="3.60" dy="1.30">4</tspan><tspan font-size="3.60" dy="-3.20" dx="-1.6">+</tspan><tspan font-size="5.80" dy="1.90">-N +BC5</tspan></text>
<path d="M370.6,31.0 C369.9,24.0 365.4,19.3 360.4,19.6 C356.4,19.8 352.4,21.3 348.9,23.6 C353.4,22.2 357.4,21.7 360.9,21.8 C365.4,22.0 368.9,26.0 372.2,32.0Z" fill="#7b9148"/>
<path d="M370.5,41.0 C369.8,26.0 368.6,15.0 370.0,0.0 C371.8,12.0 372.7,23.0 372.5,41.0Z" fill="url(#gl)"/>
<path d="M371.4,32.0 C373.4,23.0 377.4,17.0 380.7,11.3 C378.4,19.0 374.4,26.0 373.0,34.0Z" fill="#94ab5c"/>
<path d="M354.9,92.0 Q350.1,92.4 350.1,97.0 L350.1,120.5 Q350.1,125.0 354.6,125.0 L387.6,125.0 Q392.1,125.0 392.1,120.5 L392.1,97.0 Q392.1,92.4 387.3,92.0" fill="none" stroke="#828282" stroke-width="1"/>
<line x1="350.1" y1="103.4" x2="392.1" y2="103.4" stroke="#666" stroke-width="0.85" stroke-dasharray="2,1.5"/>
<path d="M354.5,108.9L356.0,108.7M354.5,108.9L353.7,110.4M354.5,108.9L353.4,107.7" stroke="#8a5068" stroke-width="0.85" stroke-linecap="round"/>
<path d="M383.5,108.9L385.0,109.2M383.5,108.9L382.3,110.0M383.5,108.9L382.8,107.3" stroke="#8a5068" stroke-width="0.85" stroke-linecap="round"/>
<path d="M359.8,117.6L361.3,117.7M359.8,117.6L358.8,118.9M359.8,117.6L358.9,116.2" stroke="#8a5068" stroke-width="0.85" stroke-linecap="round"/>
<path d="M369.6,114.1L371.0,114.4M369.6,114.1L368.3,115.2M369.6,114.1L368.9,112.5" stroke="#8a5068" stroke-width="0.85" stroke-linecap="round"/>
<path d="M372.4,119.7L373.9,119.7M372.4,119.7L371.4,121.0M372.4,119.7L371.4,118.2" stroke="#8a5068" stroke-width="0.85" stroke-linecap="round"/>
<path d="M380.9,121.7L382.3,121.4M380.9,121.7L380.1,123.2M380.9,121.7L379.7,120.5" stroke="#8a5068" stroke-width="0.85" stroke-linecap="round"/>
<path d="M356.8,109.8L356.8,110.7M356.8,110.7L354.5,114.3L359.1,114.3ZM355.7,112.5L358.0,112.5L356.8,114.3Z" fill="none" stroke="#727272" stroke-width="0.42"/>
<path d="M364.3,107.6L364.3,108.5M364.3,108.5L362.0,112.1L366.6,112.1ZM363.1,110.3L365.4,110.3L364.3,112.1Z" fill="none" stroke="#727272" stroke-width="0.42"/>
<path d="M372.8,108.4L372.8,109.3M372.8,109.3L370.5,112.9L375.1,112.9ZM371.6,111.1L373.9,111.1L372.8,112.9Z" fill="none" stroke="#727272" stroke-width="0.42"/>
<path d="M382.0,109.1L382.0,110.0M382.0,110.0L379.7,113.6L384.3,113.6ZM380.8,111.8L383.1,111.8L382.0,113.6Z" fill="none" stroke="#727272" stroke-width="0.42"/>
<path d="M367.7,113.8L367.7,114.7M367.7,114.7L365.4,118.3L370.0,118.3ZM366.6,116.5L368.8,116.5L367.7,118.3Z" fill="none" stroke="#727272" stroke-width="0.42"/>
<path d="M378.6,114.2L378.6,115.1M378.6,115.1L376.3,118.7L380.9,118.7ZM377.4,116.9L379.7,116.9L378.6,118.7Z" fill="none" stroke="#727272" stroke-width="0.42"/>
<text x="354.7" y="133.5" font-family="Liberation Serif" font-weight="bold" font-size="5.8" textLength="32.0" lengthAdjust="spacingAndGlyphs" fill="#222"><tspan font-size="5.80" dy="0.00">T8: NO</tspan><tspan font-size="3.60" dy="1.30">3</tspan><tspan font-size="3.60" dy="-3.20" dx="-1.6">-</tspan><tspan font-size="5.80" dy="1.90">-N +BC5</tspan></text>
<path d="M370.6,99.5 C369.9,92.5 365.4,88.8 360.4,89.1 C356.4,89.3 352.4,90.8 348.9,93.1 C353.4,91.7 357.4,91.2 360.9,91.3 C365.4,91.5 368.9,94.5 372.2,100.5Z" fill="#7b9148"/>
<path d="M370.5,109.5 C369.8,94.5 368.6,84.5 370.0,69.5 C371.8,81.5 372.7,91.5 372.5,109.5Z" fill="url(#gl)"/>
<path d="M371.4,100.5 C373.4,91.5 377.4,86.5 380.7,80.8 C378.4,88.5 374.4,94.5 373.0,102.5Z" fill="#94ab5c"/>
<text x="0.6" y="152.8" font-family="Liberation Sans" font-weight="bold" font-size="8.2">B</text>
<text transform="translate(24.4,195.5) rotate(-90)" font-family="Liberation Serif" font-weight="bold" font-size="6.2" text-anchor="middle" textLength="63" lengthAdjust="spacingAndGlyphs" fill="#111">Nitrogen uptake / mg·pot<tspan font-size="4" dy="-2.4">-1</tspan></text>
<line x1="38.5" y1="157.5" x2="38.5" y2="268.2" stroke="#a8a8a8" stroke-width="0.8"/>
<line x1="38.1" y1="268.2" x2="100" y2="268.2" stroke="#555" stroke-width="0.9"/>
<line x1="113.4" y1="268.2" x2="175.8" y2="268.2" stroke="#555" stroke-width="0.9"/>
<line x1="38.5" y1="156.6" x2="40.0" y2="156.6" stroke="#555" stroke-width="0.6"/>
<text x="35.2" y="158.6" font-family="Liberation Serif" font-weight="bold" font-size="6.2" text-anchor="end" fill="#222">9</text>
<line x1="38.5" y1="170.0" x2="40.0" y2="170.0" stroke="#555" stroke-width="0.6"/>
<text x="35.2" y="172.0" font-family="Liberation Serif" font-weight="bold" font-size="6.2" text-anchor="end" fill="#222">8</text>
<line x1="38.5" y1="183.4" x2="40.0" y2="183.4" stroke="#555" stroke-width="0.6"/>
<text x="35.2" y="185.4" font-family="Liberation Serif" font-weight="bold" font-size="6.2" text-anchor="end" fill="#222">7</text>
<line x1="38.5" y1="196.8" x2="40.0" y2="196.8" stroke="#555" stroke-width="0.6"/>
<text x="35.2" y="198.8" font-family="Liberation Serif" font-weight="bold" font-size="6.2" text-anchor="end" fill="#222">6</text>
<line x1="38.5" y1="210.2" x2="40.0" y2="210.2" stroke="#555" stroke-width="0.6"/>
<text x="35.2" y="212.2" font-family="Liberation Serif" font-weight="bold" font-size="6.2" text-anchor="end" fill="#222">5</text>
<line x1="38.5" y1="228.9" x2="40.0" y2="228.9" stroke="#555" stroke-width="0.6"/>
<text x="35.2" y="230.8" font-family="Liberation Serif" font-weight="bold" font-size="5.6" text-anchor="end" fill="#222">0.8</text>
<line x1="38.5" y1="238.6" x2="40.0" y2="238.6" stroke="#555" stroke-width="0.6"/>
<text x="35.2" y="240.5" font-family="Liberation Serif" font-weight="bold" font-size="5.6" text-anchor="end" fill="#222">0.6</text>
<line x1="38.5" y1="248.4" x2="40.0" y2="248.4" stroke="#555" stroke-width="0.6"/>
<text x="35.2" y="250.3" font-family="Liberation Serif" font-weight="bold" font-size="5.6" text-anchor="end" fill="#222">0.4</text>
<line x1="38.5" y1="258.1" x2="40.0" y2="258.1" stroke="#555" stroke-width="0.6"/>
<text x="35.2" y="260.0" font-family="Liberation Serif" font-weight="bold" font-size="5.6" text-anchor="end" fill="#222">0.2</text>
<line x1="38.5" y1="267.8" x2="40.0" y2="267.8" stroke="#555" stroke-width="0.6"/>
<text x="35.2" y="269.7" font-family="Liberation Serif" font-weight="bold" font-size="5.6" text-anchor="end" fill="#222">0.0</text>
<rect x="43.3" y="146.4" width="8.6" height="3.8" fill="#5b8fd0" stroke="#4a6a9a" stroke-width="0.4"/>
<rect x="43.3" y="152.7" width="8.6" height="3.6" fill="#d8a060" stroke="#9a8060" stroke-width="0.4"/>
<rect x="43.3" y="158.9" width="8.6" height="3.4" fill="#fff" stroke="#666" stroke-width="0.5"/>
<text x="53.4" y="150.3" font-family="Liberation Serif" font-weight="bold" font-size="4.2" fill="#222">NH<tspan font-size="2.8" dy="1">4</tspan><tspan font-size="2.8" dx="-1.4" dy="-2.4">+</tspan><tspan dy="1.4">-N</tspan></text>
<text x="53.4" y="156.4" font-family="Liberation Serif" font-weight="bold" font-size="4.2" fill="#222">NO<tspan font-size="2.8" dy="1">3</tspan><tspan font-size="2.8" dx="-1.4" dy="-2.4">-</tspan><tspan dy="1.4">-N</tspan></text>
<text x="53.7" y="162.4" font-family="Liberation Serif" font-weight="bold" font-size="4.2" fill="#222">Control</text>
<rect x="46.75" y="171.9" width="11.90" height="96.3" fill="#fff" stroke="#999" stroke-width="1.3"/>
<rect x="59.95" y="170.7" width="12.70" height="97.5" fill="#fff" stroke="#999" stroke-width="1.3"/>
<rect x="73.95" y="171.6" width="12.20" height="96.6" fill="#fff" stroke="#999" stroke-width="1.3"/>
<rect x="87.45" y="176.2" width="11.60" height="92.0" fill="#fff" stroke="#999" stroke-width="1.3"/>
<rect x="48.5" y="207.3" width="8.1" height="60.9" fill="url(#gb)" stroke="#4b6f9f" stroke-width="0.5"/>
<rect x="62.2" y="190.0" width="8.6" height="78.2" fill="url(#gb)" stroke="#4b6f9f" stroke-width="0.5"/>
<rect x="75.6" y="184.0" width="8.5" height="84.2" fill="url(#gb)" stroke="#4b6f9f" stroke-width="0.5"/>
<rect x="89.4" y="189.0" width="8.4" height="79.2" fill="url(#gb)" stroke="#4b6f9f" stroke-width="0.5"/>
<path d="M52.7,169.3L52.7,174.5M51.5,169.3L53.9,169.3M51.5,174.5L53.9,174.5" stroke="#333" stroke-width="0.6" fill="none"/>
<path d="M66.3,168.2L66.3,173.2M65.1,168.2L67.5,168.2M65.1,173.2L67.5,173.2" stroke="#333" stroke-width="0.6" fill="none"/>
<path d="M80.0,168.8L80.0,174.4M78.8,168.8L81.2,168.8M78.8,174.4L81.2,174.4" stroke="#333" stroke-width="0.6" fill="none"/>
<path d="M93.2,175.7L93.2,176.7M92.0,175.7L94.5,175.7M92.0,176.7L94.5,176.7" stroke="#333" stroke-width="0.6" fill="none"/>
<path d="M52.5,202.8L52.5,211.8M51.3,202.8L53.8,202.8M51.3,211.8L53.8,211.8" stroke="#333" stroke-width="0.6" fill="none"/>
<path d="M66.5,189.0L66.5,191.0M65.3,189.0L67.7,189.0M65.3,191.0L67.7,191.0" stroke="#333" stroke-width="0.6" fill="none"/>
<path d="M79.8,182.8L79.8,185.2M78.6,182.8L81.0,182.8M78.6,185.2L81.0,185.2" stroke="#333" stroke-width="0.6" fill="none"/>
<path d="M93.6,188.6L93.6,189.4M92.4,188.6L94.8,188.6M92.4,189.4L94.8,189.4" stroke="#333" stroke-width="0.6" fill="none"/>
<rect x="39" y="218.2" width="62" height="1.8" fill="#fff"/>
<path d="M36.8,217.2 L40.2,215.8 M36.8,219.6 L40.2,218.2" stroke="#555" stroke-width="0.5"/>
<text x="66.5" y="185.4" font-family="Liberation Serif" font-weight="bold" font-size="5.4" text-anchor="middle" fill="#555">**</text>
<text x="79.8" y="180.6" font-family="Liberation Serif" font-weight="bold" font-size="5.4" text-anchor="middle" fill="#555">**</text>
<text x="93.6" y="186" font-family="Liberation Serif" font-weight="bold" font-size="5.4" text-anchor="middle" fill="#555">**</text>
<rect x="114.65" y="227.1" width="12.50" height="41.1" fill="#fff" stroke="#999" stroke-width="1.3"/>
<rect x="128.45" y="230.2" width="12.20" height="38.0" fill="#fff" stroke="#999" stroke-width="1.3"/>
<rect x="141.95" y="232.0" width="12.40" height="36.2" fill="#fff" stroke="#999" stroke-width="1.3"/>
<rect x="155.65" y="234.0" width="12.50" height="34.2" fill="#fff" stroke="#999" stroke-width="1.3"/>
<rect x="116.6" y="240.2" width="8.8" height="28.0" fill="#db9a5c" stroke="#b08050" stroke-width="0.4"/>
<rect x="129.8" y="239.8" width="9.1" height="28.4" fill="#db9a5c" stroke="#b08050" stroke-width="0.4"/>
<rect x="143.9" y="241.2" width="8.7" height="27.0" fill="#db9a5c" stroke="#b08050" stroke-width="0.4"/>
<rect x="158.0" y="245.6" width="8.2" height="22.6" fill="#db9a5c" stroke="#b08050" stroke-width="0.4"/>
<path d="M120.9,226.3L120.9,227.9M119.9,226.3L121.9,226.3M119.9,227.9L121.9,227.9" stroke="#333" stroke-width="0.6" fill="none"/>
<path d="M134.6,229.7L134.6,230.7M133.6,229.7L135.6,229.7M133.6,230.7L135.6,230.7" stroke="#333" stroke-width="0.6" fill="none"/>
<path d="M148.2,231.5L148.2,232.5M147.2,231.5L149.2,231.5M147.2,232.5L149.2,232.5" stroke="#333" stroke-width="0.6" fill="none"/>
<path d="M161.9,233.5L161.9,234.5M160.9,233.5L162.9,233.5M160.9,234.5L162.9,234.5" stroke="#333" stroke-width="0.6" fill="none"/>
<path d="M121.0,239.3L121.0,241.1M120.0,239.3L122.0,239.3M120.0,241.1L122.0,241.1" stroke="#333" stroke-width="0.6" fill="none"/>
<path d="M134.4,239.3L134.4,240.3M133.4,239.3L135.4,239.3M133.4,240.3L135.4,240.3" stroke="#333" stroke-width="0.6" fill="none"/>
<path d="M148.2,240.4L148.2,242.0M147.2,240.4L149.2,240.4M147.2,242.0L149.2,242.0" stroke="#333" stroke-width="0.6" fill="none"/>
<path d="M162.1,245.2L162.1,246.0M161.1,245.2L163.1,245.2M161.1,246.0L163.1,246.0" stroke="#333" stroke-width="0.6" fill="none"/>
<text transform="translate(56.8,272.0) rotate(-33)" font-family="Liberation Serif" font-weight="bold" font-size="5.2" text-anchor="end" fill="#222">BC-0%</text>
<text transform="translate(70.4,272.0) rotate(-33)" font-family="Liberation Serif" font-weight="bold" font-size="5.2" text-anchor="end" fill="#222">BC-1%</text>
<text transform="translate(84.1,272.0) rotate(-33)" font-family="Liberation Serif" font-weight="bold" font-size="5.2" text-anchor="end" fill="#222">BC-3%</text>
<text transform="translate(97.3,272.0) rotate(-33)" font-family="Liberation Serif" font-weight="bold" font-size="5.2" text-anchor="end" fill="#222">BC-5%</text>
<text transform="translate(125.0,272.0) rotate(-33)" font-family="Liberation Serif" font-weight="bold" font-size="5.2" text-anchor="end" fill="#222">BC-0%</text>
<text transform="translate(138.7,272.0) rotate(-33)" font-family="Liberation Serif" font-weight="bold" font-size="5.2" text-anchor="end" fill="#222">BC-1%</text>
<text transform="translate(152.2,272.0) rotate(-33)" font-family="Liberation Serif" font-weight="bold" font-size="5.2" text-anchor="end" fill="#222">BC-3%</text>
<text transform="translate(166.0,272.0) rotate(-33)" font-family="Liberation Serif" font-weight="bold" font-size="5.2" text-anchor="end" fill="#222">BC-5%</text>
<text transform="translate(108.5,176.6) rotate(-90)" font-family="Liberation Serif" font-weight="bold" font-size="5.1" text-anchor="middle" textLength="54" lengthAdjust="spacingAndGlyphs" fill="#111">Total nitrogen uptake / mg</text>
<line x1="115.8" y1="150" x2="115.8" y2="202.6" stroke="#999" stroke-width="0.6" stroke-dasharray="0.8,0.4"/>
<text x="113.6" y="152.3" font-family="Liberation Serif" font-weight="bold" font-size="3.1" text-anchor="end" fill="#444">24</text>
<text x="113.6" y="156.7" font-family="Liberation Serif" font-weight="bold" font-size="3.1" text-anchor="end" fill="#444">22</text>
<text x="113.6" y="161.1" font-family="Liberation Serif" font-weight="bold" font-size="3.1" text-anchor="end" fill="#444">20</text>
<text x="113.6" y="165.5" font-family="Liberation Serif" font-weight="bold" font-size="3.1" text-anchor="end" fill="#444">18</text>
<text x="113.6" y="169.9" font-family="Liberation Serif" font-weight="bold" font-size="3.1" text-anchor="end" fill="#444">16</text>
<text x="113.6" y="174.3" font-family="Liberation Serif" font-weight="bold" font-size="3.1" text-anchor="end" fill="#444">14</text>
<text x="113.6" y="181.3" font-family="Liberation Serif" font-weight="bold" font-size="3.1" text-anchor="end" fill="#444">16</text>
<text x="113.6" y="188.0" font-family="Liberation Serif" font-weight="bold" font-size="3.1" text-anchor="end" fill="#444">12</text>
<text x="113.6" y="194.7" font-family="Liberation Serif" font-weight="bold" font-size="3.1" text-anchor="end" fill="#444">08</text>
<text x="113.6" y="201.4" font-family="Liberation Serif" font-weight="bold" font-size="3.1" text-anchor="end" fill="#444">00</text>
<rect x="117" y="170" width="5.8" height="32.4" fill="#5b8fd0" stroke="#4b6f9f" stroke-width="0.3"/>
<path d="M119.9,168.7L119.9,171.3M119.1,168.7L120.7,168.7M119.1,171.3L120.7,171.3" stroke="#333" stroke-width="0.6" fill="none"/>
<rect x="124" y="161" width="5.7" height="41.4" fill="#5b8fd0" stroke="#4b6f9f" stroke-width="0.3"/>
<path d="M126.8,160.5L126.8,161.5M126.0,160.5L127.6,160.5M126.0,161.5L127.6,161.5" stroke="#333" stroke-width="0.6" fill="none"/>
<rect x="131" y="158.4" width="5.9" height="44.0" fill="#5b8fd0" stroke="#4b6f9f" stroke-width="0.3"/>
<path d="M133.9,157.9L133.9,158.9M133.1,157.9L134.8,157.9M133.1,158.9L134.8,158.9" stroke="#333" stroke-width="0.6" fill="none"/>
<rect x="138.1" y="161" width="5.8" height="41.4" fill="#5b8fd0" stroke="#4b6f9f" stroke-width="0.3"/>
<path d="M141.0,160.5L141.0,161.5M140.2,160.5L141.8,160.5M140.2,161.5L141.8,161.5" stroke="#333" stroke-width="0.6" fill="none"/>
<rect x="152.2" y="182.5" width="6.0" height="19.9" fill="#db9a5c" stroke="#b08050" stroke-width="0.3"/>
<path d="M155.2,182.1L155.2,182.9M154.4,182.1L156.0,182.1M154.4,182.9L156.0,182.9" stroke="#333" stroke-width="0.6" fill="none"/>
<rect x="158.8" y="182.5" width="6.1" height="19.9" fill="#db9a5c" stroke="#b08050" stroke-width="0.3"/>
<path d="M161.9,182.1L161.9,182.9M161.1,182.1L162.7,182.1M161.1,182.9L162.7,182.9" stroke="#333" stroke-width="0.6" fill="none"/>
<rect x="165.5" y="183.5" width="6.3" height="18.9" fill="#db9a5c" stroke="#b08050" stroke-width="0.3"/>
<path d="M168.7,183.1L168.7,183.9M167.8,183.1L169.5,183.1M167.8,183.9L169.5,183.9" stroke="#333" stroke-width="0.6" fill="none"/>
<rect x="172.4" y="186.4" width="6.2" height="16.0" fill="#db9a5c" stroke="#b08050" stroke-width="0.3"/>
<path d="M175.5,186.0L175.5,186.8M174.7,186.0L176.3,186.0M174.7,186.8L176.3,186.8" stroke="#333" stroke-width="0.6" fill="none"/>
<line x1="116.3" y1="179.6" x2="144.5" y2="179.6" stroke="#fff" stroke-width="1.2"/>
<text x="126.9" y="156.2" font-family="Liberation Serif" font-weight="bold" font-size="5.8" text-anchor="middle" fill="#333">**</text>
<text x="134" y="154.2" font-family="Liberation Serif" font-weight="bold" font-size="5.8" text-anchor="middle" fill="#333">**</text>
<text x="141" y="156.2" font-family="Liberation Serif" font-weight="bold" font-size="5.8" text-anchor="middle" fill="#333">**</text>
<text x="175.5" y="183" font-family="Liberation Serif" font-weight="bold" font-size="5.8" text-anchor="middle" fill="#333">**</text>
<text transform="translate(122.1,204.6) rotate(-45)" font-family="Liberation Serif" font-weight="bold" font-size="3.8" text-anchor="end" fill="#222">BC-0%</text>
<text transform="translate(129.0,204.6) rotate(-45)" font-family="Liberation Serif" font-weight="bold" font-size="3.8" text-anchor="end" fill="#222">BC-0%</text>
<text transform="translate(136.1,204.6) rotate(-45)" font-family="Liberation Serif" font-weight="bold" font-size="3.8" text-anchor="end" fill="#222">BC-0%</text>
<text transform="translate(143.2,204.6) rotate(-45)" font-family="Liberation Serif" font-weight="bold" font-size="3.8" text-anchor="end" fill="#222">BC-0%</text>
<text transform="translate(157.4,204.6) rotate(-45)" font-family="Liberation Serif" font-weight="bold" font-size="3.8" text-anchor="end" fill="#222">BC-0%</text>
<text transform="translate(164.1,204.6) rotate(-45)" font-family="Liberation Serif" font-weight="bold" font-size="3.8" text-anchor="end" fill="#222">BC-0%</text>
<text transform="translate(170.8,204.6) rotate(-45)" font-family="Liberation Serif" font-weight="bold" font-size="3.8" text-anchor="end" fill="#222">BC-0%</text>
<text transform="translate(177.7,204.6) rotate(-45)" font-family="Liberation Serif" font-weight="bold" font-size="3.8" text-anchor="end" fill="#222">BC-0%</text>
<text x="204.6" y="153.2" font-family="Liberation Sans" font-weight="bold" font-size="8.2">C</text>
<rect x="219.6" y="149" width="163.2" height="128.2" fill="#0b0807"/>
<path d="M228.0,208.5 L227.5,180.9 L258.5,180.9 L258.0,208.5Z" fill="url(#cb1)"/>
<path d="M231.70,207.5 Q231.50,196.7 232.29,184.9 Q232.16,196.7 232.36,207.5Z" fill="url(#cg1)" fill-opacity="0.75"/>
<path d="M247.29,207.5 Q247.02,191.6 250.04,174.7 Q247.54,191.6 247.81,207.5Z" fill="url(#cg1)" fill-opacity="0.92"/>
<path d="M250.40,207.5 Q252.18,194.0 249.19,179.4 Q253.12,194.0 251.33,207.5Z" fill="url(#cg1)" fill-opacity="0.61"/>
<path d="M254.63,207.5 Q254.16,191.3 254.23,174.1 Q254.98,191.3 255.46,207.5Z" fill="url(#cg1)" fill-opacity="0.97"/>
<path d="M234.18,207.5 Q234.16,191.3 232.61,174.2 Q234.80,191.3 234.81,207.5Z" fill="url(#cg1)" fill-opacity="0.72"/>
<path d="M234.60,207.5 Q232.69,192.3 232.04,176.2 Q233.47,192.3 235.38,207.5Z" fill="url(#cg1)" fill-opacity="0.64"/>
<path d="M252.82,207.5 Q254.26,195.6 255.15,182.7 Q254.87,195.6 253.43,207.5Z" fill="url(#cg1)" fill-opacity="1.00"/>
<path d="M231.16,207.5 Q230.85,196.3 228.73,184.2 Q231.78,196.3 232.09,207.5Z" fill="url(#cg1)" fill-opacity="0.97"/>
<path d="M252.47,207.5 Q253.86,192.9 255.57,177.3 Q254.71,192.9 253.33,207.5Z" fill="url(#cg1)" fill-opacity="0.94"/>
<path d="M242.84,207.5 Q242.49,191.3 243.72,174.2 Q243.14,191.3 243.48,207.5Z" fill="url(#cg1)" fill-opacity="0.90"/>
<path d="M232.74,207.5 Q232.49,196.2 231.85,183.8 Q233.40,196.2 233.64,207.5Z" fill="url(#cg1)" fill-opacity="0.69"/>
<path d="M242.88,207.5 Q241.00,194.6 244.97,180.7 Q241.74,194.6 243.62,207.5Z" fill="url(#cg1)" fill-opacity="0.74"/>
<path d="M228.88,207.5 Q227.56,198.8 228.24,189.2 Q228.41,198.8 229.73,207.5Z" fill="url(#cg1)" fill-opacity="0.70"/>
<path d="M242.66,207.5 Q241.58,196.8 245.97,185.1 Q242.41,196.8 243.48,207.5Z" fill="url(#cg1)" fill-opacity="0.93"/>
<path d="M243.03,207.5 Q243.22,195.1 246.20,181.6 Q243.99,195.1 243.80,207.5Z" fill="url(#cg1)" fill-opacity="0.63"/>
<path d="M256.22,207.5 Q257.18,196.9 256.03,185.3 Q258.17,196.9 257.21,207.5Z" fill="url(#cg1)" fill-opacity="0.94"/>
<path d="M251.90,207.5 Q253.38,194.9 253.93,181.3 Q254.13,194.9 252.65,207.5Z" fill="url(#cg1)" fill-opacity="0.53"/>
<path d="M244.70,207.5 Q244.09,194.4 243.65,180.4 Q244.88,194.4 245.50,207.5Z" fill="url(#cg1)" fill-opacity="0.68"/>
<path d="M243.77,207.5 Q242.69,195.4 245.09,182.2 Q243.46,195.4 244.54,207.5Z" fill="url(#cg1)" fill-opacity="0.51"/>
<path d="M232.83,207.5 Q234.09,197.6 232.21,186.8 Q235.07,197.6 233.81,207.5Z" fill="url(#cg1)" fill-opacity="0.90"/>
<path d="M235.38,207.5 Q233.44,195.9 236.49,183.3 Q233.99,195.9 235.93,207.5Z" fill="url(#cg1)" fill-opacity="0.51"/>
<path d="M250.23,207.5 Q248.51,191.7 250.44,174.9 Q249.38,191.7 251.11,207.5Z" fill="url(#cg1)" fill-opacity="0.67"/>
<path d="M232.46,207.5 Q232.28,192.0 231.25,175.5 Q232.94,192.0 233.12,207.5Z" fill="url(#cg1)" fill-opacity="0.86"/>
<path d="M237.29,207.5 Q236.05,191.3 236.61,174.1 Q236.78,191.3 238.03,207.5Z" fill="url(#cg1)" fill-opacity="0.71"/>
<path d="M230.95,207.5 Q232.22,194.5 231.71,180.5 Q232.84,194.5 231.58,207.5Z" fill="url(#cg1)" fill-opacity="0.80"/>
<path d="M228.16,207.5 Q228.98,191.9 223.34,175.3 Q229.91,191.9 229.09,207.5Z" fill="url(#cg1)" fill-opacity="0.58"/>
<path d="M247.80,207.5 Q247.87,192.3 249.50,176.2 Q248.95,192.3 248.89,207.5Z" fill="url(#cg1)" fill-opacity="0.90"/>
<path d="M234.27,207.5 Q234.80,193.6 234.20,178.6 Q235.64,193.6 235.12,207.5Z" fill="url(#cg1)" fill-opacity="0.66"/>
<path d="M229.25,207.5 Q230.68,198.7 226.35,188.9 Q231.71,198.7 230.28,207.5Z" fill="url(#cg1)" fill-opacity="0.65"/>
<path d="M236.94,207.5 Q234.97,196.5 239.00,184.6 Q235.72,196.5 237.69,207.5Z" fill="url(#cg1)" fill-opacity="0.63"/>
<path d="M253.82,207.5 Q252.51,197.2 253.48,186.0 Q253.59,197.2 254.90,207.5Z" fill="url(#cg1)" fill-opacity="0.79"/>
<path d="M253.63,207.5 Q253.02,196.2 258.71,183.8 Q253.82,196.2 254.44,207.5Z" fill="url(#cg1)" fill-opacity="0.69"/>
<path d="M233.86,207.5 Q234.53,193.9 233.75,179.2 Q235.14,193.9 234.48,207.5Z" fill="url(#cg1)" fill-opacity="0.55"/>
<path d="M236.37,207.5 Q234.44,193.1 235.86,177.6 Q235.47,193.1 237.39,207.5Z" fill="url(#cg1)" fill-opacity="0.95"/>
<path d="M233.54,207.5 Q232.39,198.9 231.50,189.3 Q233.36,198.9 234.51,207.5Z" fill="url(#cg1)" fill-opacity="0.67"/>
<path d="M247.88,207.5 Q248.63,198.3 251.13,188.2 Q249.34,198.3 248.59,207.5Z" fill="url(#cg1)" fill-opacity="0.94"/>
<path d="M242.07,207.5 Q240.75,192.4 245.37,176.4 Q241.68,192.4 243.00,207.5Z" fill="url(#cg1)" fill-opacity="0.54"/>
<path d="M254.90,207.5 Q254.37,196.7 255.66,184.9 Q255.23,196.7 255.76,207.5Z" fill="url(#cg1)" fill-opacity="0.92"/>
<path d="M237.78,207.5 Q239.33,197.7 236.16,186.9 Q240.19,197.7 238.64,207.5Z" fill="url(#cg1)" fill-opacity="0.98"/>
<path d="M231.80,207.5 Q233.26,191.7 230.54,174.8 Q233.79,191.7 232.32,207.5Z" fill="url(#cg1)" fill-opacity="0.54"/>
<path d="M251.21,207.5 Q250.72,193.2 255.06,177.8 Q251.59,193.2 252.08,207.5Z" fill="url(#cg1)" fill-opacity="0.89"/>
<path d="M244.79,207.5 Q245.05,191.5 243.82,174.6 Q245.71,191.5 245.45,207.5Z" fill="url(#cg1)" fill-opacity="0.95"/>
<path d="M255.27,207.5 Q253.32,192.7 257.62,176.9 Q254.29,192.7 256.24,207.5Z" fill="url(#cg1)" fill-opacity="0.91"/>
<path d="M247.60,207.5 Q246.56,191.7 246.51,174.9 Q247.59,191.7 248.63,207.5Z" fill="url(#cg1)" fill-opacity="0.52"/>
<path d="M257.34,207.5 Q258.32,191.7 259.61,174.9 Q258.92,191.7 257.94,207.5Z" fill="url(#cg1)" fill-opacity="0.62"/>
<path d="M230.54,207.5 Q229.72,193.4 231.56,178.4 Q230.80,193.4 231.63,207.5Z" fill="url(#cg1)" fill-opacity="0.95"/>
<path d="M235.16,207.5 Q233.20,191.6 234.23,174.8 Q234.09,191.6 236.05,207.5Z" fill="url(#cg1)" fill-opacity="0.52"/>
<path d="M257.09,207.5 Q255.34,195.2 258.66,181.9 Q256.11,195.2 257.86,207.5Z" fill="url(#cg1)" fill-opacity="0.66"/>
<path d="M255.12,207.5 Q255.59,198.7 260.29,188.9 Q256.16,198.7 255.69,207.5Z" fill="url(#cg1)" fill-opacity="0.61"/>
<path d="M256.95,207.5 Q257.12,196.0 260.06,183.6 Q258.01,196.0 257.85,207.5Z" fill="url(#cg1)" fill-opacity="0.63"/>
<path d="M236.89,207.5 Q236.68,191.5 234.73,174.6 Q237.35,191.5 237.55,207.5Z" fill="url(#cg1)" fill-opacity="0.99"/>
<path d="M247.19,207.5 Q246.50,198.4 249.18,188.3 Q247.24,198.4 247.93,207.5Z" fill="url(#cg1)" fill-opacity="0.65"/>
<path d="M237.16,207.5 Q237.34,198.0 238.67,187.4 Q238.02,198.0 237.84,207.5Z" fill="url(#cg1)" fill-opacity="0.67"/>
<path d="M245.11,207.5 Q243.40,192.5 246.34,176.5 Q243.91,192.5 245.63,207.5Z" fill="url(#cg1)" fill-opacity="0.62"/>
<path d="M244.10,207.5 Q245.26,191.5 242.22,174.5 Q246.15,191.5 244.98,207.5Z" fill="url(#cg1)" fill-opacity="0.65"/>
<path d="M242.40,207.5 Q240.71,191.9 244.94,175.4 Q241.51,191.9 243.20,207.5Z" fill="url(#cg1)" fill-opacity="0.90"/>
<path d="M255.93,207.5 Q255.21,196.8 256.76,185.2 Q256.30,196.8 257.02,207.5Z" fill="url(#cg1)" fill-opacity="0.91"/>
<path d="M230.87,207.5 Q229.44,198.2 229.33,187.9 Q230.11,198.2 231.54,207.5Z" fill="url(#cg1)" fill-opacity="0.95"/>
<path d="M254.79,207.5 Q256.42,193.0 254.56,177.5 Q257.46,193.0 255.84,207.5Z" fill="url(#cg1)" fill-opacity="0.90"/>
<path d="M252.92,207.5 Q251.55,196.0 256.40,183.6 Q252.16,196.0 253.53,207.5Z" fill="url(#cg1)" fill-opacity="0.72"/>
<path d="M249.18,207.5 Q250.41,192.5 251.53,176.6 Q250.95,192.5 249.71,207.5Z" fill="url(#cg1)" fill-opacity="0.98"/>
<path d="M244.09,207.5 Q243.45,197.5 244.97,186.6 Q244.22,197.5 244.86,207.5Z" fill="url(#cg1)" fill-opacity="0.70"/>
<path d="M235.36,207.5 Q233.61,195.7 231.68,182.8 Q234.36,195.7 236.11,207.5Z" fill="url(#cg1)" fill-opacity="0.79"/>
<path d="M238.32,207.5 Q237.91,191.8 235.75,175.0 Q238.57,191.8 238.98,207.5Z" fill="url(#cg1)" fill-opacity="0.91"/>
<path d="M239.78,207.5 Q239.78,192.4 240.21,176.3 Q240.29,192.4 240.28,207.5Z" fill="url(#cg1)" fill-opacity="0.76"/>
<path d="M247.00,207.5 Q246.98,196.0 247.84,183.5 Q247.91,196.0 247.93,207.5Z" fill="url(#cg1)" fill-opacity="0.62"/>
<path d="M241.95,207.5 Q243.62,193.7 240.61,178.9 Q244.45,193.7 242.78,207.5Z" fill="url(#cg1)" fill-opacity="0.95"/>
<path d="M235.99,207.5 Q237.49,191.4 236.01,174.3 Q238.04,191.4 236.53,207.5Z" fill="url(#cg1)" fill-opacity="0.76"/>
<path d="M232.44,207.5 Q233.84,197.9 232.68,187.2 Q234.52,197.9 233.13,207.5Z" fill="url(#cg1)" fill-opacity="0.85"/>
<path d="M238.72,207.5 Q240.31,196.5 239.71,184.4 Q241.16,196.5 239.58,207.5Z" fill="url(#cg1)" fill-opacity="0.93"/>
<path d="M256.48,207.5 Q256.76,192.1 259.53,175.6 Q257.41,192.1 257.13,207.5Z" fill="url(#cg1)" fill-opacity="0.61"/>
<path d="M250.27,207.5 Q250.33,196.0 249.33,183.4 Q251.26,196.0 251.20,207.5Z" fill="url(#cg1)" fill-opacity="0.67"/>
<path d="M232.40,207.5 Q232.91,191.4 232.65,174.2 Q234.00,191.4 233.49,207.5Z" fill="url(#cg1)" fill-opacity="0.90"/>
<path d="M235.73,207.5 Q237.10,198.6 237.34,188.7 Q237.69,198.6 236.32,207.5Z" fill="url(#cg1)" fill-opacity="0.89"/>
<path d="M247.26,207.5 Q246.79,194.0 249.79,179.4 Q247.85,194.0 248.32,207.5Z" fill="url(#cg1)" fill-opacity="0.99"/>
<path d="M251.73,207.5 Q253.37,192.0 253.19,175.5 Q254.06,192.0 252.43,207.5Z" fill="url(#cg1)" fill-opacity="0.56"/>
<path d="M256.41,207.5 Q255.59,195.3 256.79,182.0 Q256.34,195.3 257.16,207.5Z" fill="url(#cg1)" fill-opacity="0.56"/>
<path d="M235.14,207.5 Q233.22,191.3 235.69,174.0 Q233.84,191.3 235.75,207.5Z" fill="url(#cg1)" fill-opacity="0.72"/>
<path d="M246.51,207.5 Q246.68,197.4 248.10,186.3 Q247.31,197.4 247.14,207.5Z" fill="url(#cg1)" fill-opacity="0.64"/>
<path d="M235.74,207.5 Q236.98,192.5 235.58,176.6 Q237.89,192.5 236.65,207.5Z" fill="url(#cg1)" fill-opacity="0.90"/>
<path d="M256.70,207.5 Q256.98,194.3 259.85,180.2 Q258.00,194.3 257.72,207.5Z" fill="url(#cg1)" fill-opacity="0.88"/>
<path d="M239.01,207.5 Q239.99,191.7 237.62,174.9 Q240.98,191.7 239.99,207.5Z" fill="url(#cg1)" fill-opacity="0.56"/>
<path d="M243.82,207.5 Q243.82,196.7 247.37,184.9 Q244.90,196.7 244.90,207.5Z" fill="url(#cg1)" fill-opacity="0.57"/>
<path d="M244.82,207.5 Q242.82,194.4 244.41,180.4 Q243.54,194.4 245.53,207.5Z" fill="url(#cg1)" fill-opacity="0.76"/>
<path d="M240.90,207.5 Q241.63,192.9 240.68,177.3 Q242.37,192.9 241.64,207.5Z" fill="url(#cg1)" fill-opacity="0.89"/>
<line x1="242.8" y1="201.9" x2="243.3" y2="183.5" stroke="#141a0e" stroke-opacity="0.30" stroke-width="0.61"/>
<line x1="245.7" y1="199.8" x2="247.6" y2="186.6" stroke="#141a0e" stroke-opacity="0.60" stroke-width="0.68"/>
<line x1="252.0" y1="196.5" x2="253.2" y2="186.0" stroke="#141a0e" stroke-opacity="0.39" stroke-width="0.57"/>
<line x1="246.2" y1="203.3" x2="246.9" y2="183.4" stroke="#141a0e" stroke-opacity="0.42" stroke-width="0.67"/>
<line x1="240.4" y1="198.3" x2="241.5" y2="184.9" stroke="#141a0e" stroke-opacity="0.57" stroke-width="0.80"/>
<line x1="242.8" y1="198.8" x2="243.8" y2="185.3" stroke="#141a0e" stroke-opacity="0.49" stroke-width="0.66"/>
<line x1="246.5" y1="197.9" x2="247.6" y2="187.4" stroke="#141a0e" stroke-opacity="0.55" stroke-width="0.81"/>
<line x1="251.5" y1="201.5" x2="253.4" y2="183.3" stroke="#141a0e" stroke-opacity="0.51" stroke-width="0.85"/>
<line x1="244.2" y1="200.0" x2="243.0" y2="186.6" stroke="#141a0e" stroke-opacity="0.44" stroke-width="0.52"/>
<line x1="243.3" y1="200.9" x2="244.3" y2="183.8" stroke="#141a0e" stroke-opacity="0.50" stroke-width="0.51"/>
<line x1="243.2" y1="200.6" x2="245.0" y2="185.7" stroke="#141a0e" stroke-opacity="0.51" stroke-width="0.74"/>
<line x1="235.1" y1="201.5" x2="232.7" y2="187.0" stroke="#141a0e" stroke-opacity="0.32" stroke-width="0.83"/>
<line x1="243.6" y1="198.2" x2="243.2" y2="184.4" stroke="#141a0e" stroke-opacity="0.35" stroke-width="0.76"/>
<line x1="248.8" y1="199.1" x2="251.0" y2="182.8" stroke="#141a0e" stroke-opacity="0.37" stroke-width="0.72"/>
<line x1="234.2" y1="201.1" x2="233.8" y2="186.9" stroke="#141a0e" stroke-opacity="0.37" stroke-width="0.89"/>
<line x1="248.6" y1="197.1" x2="250.9" y2="181.1" stroke="#141a0e" stroke-opacity="0.49" stroke-width="0.63"/>
<line x1="241.2" y1="202.0" x2="241.9" y2="186.3" stroke="#141a0e" stroke-opacity="0.49" stroke-width="0.57"/>
<line x1="255.8" y1="198.3" x2="257.7" y2="187.2" stroke="#141a0e" stroke-opacity="0.48" stroke-width="0.60"/>
<line x1="243.7" y1="198.2" x2="242.4" y2="175.4" stroke="#b4c688" stroke-opacity="0.69" stroke-width="0.51"/>
<line x1="249.8" y1="198.2" x2="249.9" y2="181.4" stroke="#b4c688" stroke-opacity="0.69" stroke-width="0.49"/>
<line x1="232.4" y1="198.2" x2="230.2" y2="179.1" stroke="#b4c688" stroke-opacity="0.44" stroke-width="0.46"/>
<line x1="231.0" y1="198.2" x2="229.4" y2="183.2" stroke="#b4c688" stroke-opacity="0.49" stroke-width="0.41"/>
<line x1="248.5" y1="198.2" x2="250.7" y2="184.0" stroke="#b4c688" stroke-opacity="0.65" stroke-width="0.50"/>
<line x1="252.1" y1="198.2" x2="252.1" y2="181.2" stroke="#b4c688" stroke-opacity="0.44" stroke-width="0.52"/>
<line x1="242.9" y1="198.2" x2="242.4" y2="175.7" stroke="#b4c688" stroke-opacity="0.49" stroke-width="0.65"/>
<line x1="242.0" y1="198.2" x2="242.1" y2="176.2" stroke="#b4c688" stroke-opacity="0.69" stroke-width="0.50"/>
<line x1="245.5" y1="198.2" x2="247.6" y2="184.3" stroke="#b4c688" stroke-opacity="0.42" stroke-width="0.64"/>
<line x1="252.7" y1="198.2" x2="253.5" y2="178.0" stroke="#b4c688" stroke-opacity="0.63" stroke-width="0.68"/>
<line x1="240.3" y1="198.2" x2="241.4" y2="181.9" stroke="#b4c688" stroke-opacity="0.46" stroke-width="0.67"/>
<line x1="229.9" y1="198.2" x2="226.3" y2="180.9" stroke="#b4c688" stroke-opacity="0.42" stroke-width="0.51"/>
<rect x="222.5" y="173.0" width="41.0" height="13.8" fill="url(#gdark)"/>
<rect x="227.5" y="205.5" width="31.0" height="3" fill="#a09478" opacity="0.9"/>
<path d="M267.5,208.5 L266.5,175.1 L297.5,175.1 L297.0,208.5Z" fill="url(#cb2)"/>
<path d="M295.43,207.5 Q296.37,187.9 300.65,167.2 Q296.92,187.9 295.98,207.5Z" fill="url(#cg2)" fill-opacity="0.92"/>
<path d="M286.83,207.5 Q285.46,192.5 286.79,176.6 Q286.32,192.5 287.69,207.5Z" fill="url(#cg2)" fill-opacity="0.79"/>
<path d="M279.66,207.5 Q279.83,193.8 278.93,179.1 Q280.93,193.8 280.75,207.5Z" fill="url(#cg2)" fill-opacity="0.97"/>
<path d="M280.36,207.5 Q279.64,187.8 278.68,167.0 Q280.16,187.8 280.88,207.5Z" fill="url(#cg2)" fill-opacity="0.73"/>
<path d="M278.29,207.5 Q276.39,191.7 280.15,174.9 Q277.22,191.7 279.13,207.5Z" fill="url(#cg2)" fill-opacity="0.62"/>
<path d="M276.54,207.5 Q275.27,191.6 273.70,174.6 Q276.37,191.6 277.64,207.5Z" fill="url(#cg2)" fill-opacity="0.84"/>
<path d="M293.34,207.5 Q294.50,193.9 297.56,179.4 Q295.54,193.9 294.38,207.5Z" fill="url(#cg2)" fill-opacity="0.88"/>
<path d="M277.64,207.5 Q278.50,196.6 279.77,184.6 Q279.10,196.6 278.24,207.5Z" fill="url(#cg2)" fill-opacity="0.88"/>
<path d="M280.58,207.5 Q281.91,191.4 280.83,174.2 Q282.97,191.4 281.64,207.5Z" fill="url(#cg2)" fill-opacity="0.75"/>
<path d="M277.55,207.5 Q279.23,195.8 279.18,183.2 Q280.01,195.8 278.33,207.5Z" fill="url(#cg2)" fill-opacity="0.78"/>
<path d="M288.50,207.5 Q287.17,189.0 289.75,169.4 Q287.86,189.0 289.20,207.5Z" fill="url(#cg2)" fill-opacity="0.85"/>
<path d="M293.94,207.5 Q294.77,196.0 294.89,183.4 Q295.45,196.0 294.63,207.5Z" fill="url(#cg2)" fill-opacity="0.98"/>
<path d="M281.95,207.5 Q280.78,193.0 282.26,177.5 Q281.63,193.0 282.80,207.5Z" fill="url(#cg2)" fill-opacity="0.66"/>
<path d="M282.33,207.5 Q283.23,192.7 285.02,176.9 Q283.78,192.7 282.87,207.5Z" fill="url(#cg2)" fill-opacity="0.91"/>
<path d="M294.01,207.5 Q293.10,194.0 294.42,179.6 Q293.64,194.0 294.54,207.5Z" fill="url(#cg2)" fill-opacity="0.83"/>
<path d="M273.78,207.5 Q272.76,188.2 274.68,167.8 Q273.57,188.2 274.59,207.5Z" fill="url(#cg2)" fill-opacity="0.93"/>
<path d="M273.24,207.5 Q272.69,190.7 274.15,172.9 Q273.62,190.7 274.17,207.5Z" fill="url(#cg2)" fill-opacity="0.52"/>
<path d="M272.03,207.5 Q272.95,188.0 271.55,167.5 Q274.02,188.0 273.11,207.5Z" fill="url(#cg2)" fill-opacity="0.51"/>
<path d="M267.83,207.5 Q268.59,194.8 263.77,181.1 Q269.19,194.8 268.42,207.5Z" fill="url(#cg2)" fill-opacity="0.59"/>
<path d="M278.58,207.5 Q277.96,196.9 275.25,185.3 Q278.55,196.9 279.17,207.5Z" fill="url(#cg2)" fill-opacity="0.52"/>
<path d="M285.30,207.5 Q285.09,188.2 287.49,167.9 Q285.80,188.2 286.00,207.5Z" fill="url(#cg2)" fill-opacity="0.52"/>
<path d="M289.62,207.5 Q290.44,195.9 292.75,183.2 Q291.39,195.9 290.57,207.5Z" fill="url(#cg2)" fill-opacity="0.93"/>
<path d="M281.10,207.5 Q280.89,193.1 279.40,177.8 Q281.58,193.1 281.79,207.5Z" fill="url(#cg2)" fill-opacity="0.55"/>
<path d="M292.94,207.5 Q291.51,192.3 292.88,176.1 Q292.25,192.3 293.67,207.5Z" fill="url(#cg2)" fill-opacity="0.76"/>
<path d="M295.44,207.5 Q295.67,192.5 296.65,176.6 Q296.42,192.5 296.19,207.5Z" fill="url(#cg2)" fill-opacity="0.51"/>
<path d="M271.35,207.5 Q271.89,187.8 266.76,167.0 Q272.49,187.8 271.95,207.5Z" fill="url(#cg2)" fill-opacity="0.55"/>
<path d="M281.95,207.5 Q281.72,196.2 285.19,184.0 Q282.82,196.2 283.04,207.5Z" fill="url(#cg2)" fill-opacity="0.62"/>
<path d="M274.41,207.5 Q273.43,192.7 273.82,177.0 Q274.41,192.7 275.39,207.5Z" fill="url(#cg2)" fill-opacity="0.85"/>
<path d="M279.72,207.5 Q278.16,187.7 279.46,166.8 Q278.68,187.7 280.24,207.5Z" fill="url(#cg2)" fill-opacity="0.70"/>
<path d="M288.55,207.5 Q287.42,188.1 288.28,167.7 Q288.03,188.1 289.16,207.5Z" fill="url(#cg2)" fill-opacity="0.62"/>
<path d="M282.42,207.5 Q284.05,189.7 282.51,170.9 Q284.93,189.7 283.30,207.5Z" fill="url(#cg2)" fill-opacity="0.61"/>
<path d="M295.51,207.5 Q293.71,190.8 299.58,173.1 Q294.52,190.8 296.32,207.5Z" fill="url(#cg2)" fill-opacity="0.79"/>
<path d="M279.55,207.5 Q279.02,188.7 279.28,168.8 Q279.57,188.7 280.11,207.5Z" fill="url(#cg2)" fill-opacity="0.90"/>
<path d="M282.48,207.5 Q281.97,192.6 285.20,176.7 Q282.64,192.6 283.15,207.5Z" fill="url(#cg2)" fill-opacity="0.99"/>
<path d="M267.72,207.5 Q268.41,188.1 266.28,167.8 Q269.09,188.1 268.40,207.5Z" fill="url(#cg2)" fill-opacity="0.92"/>
<path d="M267.57,207.5 Q267.92,190.6 264.76,172.7 Q268.71,190.6 268.36,207.5Z" fill="url(#cg2)" fill-opacity="0.60"/>
<path d="M269.15,207.5 Q270.17,190.3 265.79,172.0 Q271.23,190.3 270.21,207.5Z" fill="url(#cg2)" fill-opacity="0.54"/>
<path d="M272.79,207.5 Q272.37,190.4 271.66,172.4 Q273.14,190.4 273.56,207.5Z" fill="url(#cg2)" fill-opacity="0.88"/>
<path d="M270.59,207.5 Q272.42,188.0 266.49,167.5 Q273.43,188.0 271.60,207.5Z" fill="url(#cg2)" fill-opacity="0.82"/>
<path d="M287.45,207.5 Q287.44,193.1 285.89,177.7 Q288.41,193.1 288.42,207.5Z" fill="url(#cg2)" fill-opacity="0.86"/>
<path d="M277.72,207.5 Q277.63,194.7 276.76,180.8 Q278.29,194.7 278.38,207.5Z" fill="url(#cg2)" fill-opacity="0.76"/>
<path d="M295.16,207.5 Q294.09,196.2 299.74,183.9 Q295.09,196.2 296.16,207.5Z" fill="url(#cg2)" fill-opacity="0.65"/>
<path d="M281.47,207.5 Q281.81,190.8 280.16,173.0 Q282.72,190.8 282.37,207.5Z" fill="url(#cg2)" fill-opacity="0.96"/>
<path d="M291.08,207.5 Q290.74,190.1 290.70,171.7 Q291.84,190.1 292.18,207.5Z" fill="url(#cg2)" fill-opacity="0.57"/>
<path d="M268.93,207.5 Q267.44,195.8 264.36,183.1 Q268.53,195.8 270.02,207.5Z" fill="url(#cg2)" fill-opacity="0.82"/>
<path d="M275.79,207.5 Q275.88,193.2 273.26,178.0 Q276.79,193.2 276.70,207.5Z" fill="url(#cg2)" fill-opacity="0.72"/>
<path d="M270.33,207.5 Q270.40,196.4 268.67,184.4 Q271.35,196.4 271.28,207.5Z" fill="url(#cg2)" fill-opacity="0.55"/>
<path d="M288.21,207.5 Q287.83,195.8 288.08,183.0 Q288.61,195.8 288.99,207.5Z" fill="url(#cg2)" fill-opacity="0.85"/>
<path d="M296.56,207.5 Q294.68,192.2 301.03,175.9 Q295.27,192.2 297.15,207.5Z" fill="url(#cg2)" fill-opacity="0.72"/>
<path d="M284.65,207.5 Q284.27,188.7 287.62,168.8 Q285.08,188.7 285.46,207.5Z" fill="url(#cg2)" fill-opacity="0.74"/>
<path d="M288.07,207.5 Q287.39,193.6 291.99,178.7 Q288.17,193.6 288.85,207.5Z" fill="url(#cg2)" fill-opacity="0.98"/>
<path d="M288.99,207.5 Q289.47,194.2 291.55,180.0 Q290.49,194.2 290.00,207.5Z" fill="url(#cg2)" fill-opacity="0.61"/>
<path d="M278.94,207.5 Q278.80,196.8 279.60,185.0 Q279.68,196.8 279.82,207.5Z" fill="url(#cg2)" fill-opacity="0.51"/>
<path d="M288.00,207.5 Q289.77,193.0 291.70,177.5 Q290.76,193.0 288.99,207.5Z" fill="url(#cg2)" fill-opacity="0.51"/>
<path d="M288.50,207.5 Q289.77,195.9 290.67,183.3 Q290.80,195.9 289.53,207.5Z" fill="url(#cg2)" fill-opacity="0.55"/>
<path d="M289.70,207.5 Q290.92,194.0 289.54,179.6 Q291.77,194.0 290.55,207.5Z" fill="url(#cg2)" fill-opacity="0.60"/>
<path d="M271.24,207.5 Q271.11,190.8 270.00,173.1 Q271.76,190.8 271.89,207.5Z" fill="url(#cg2)" fill-opacity="0.78"/>
<path d="M273.30,207.5 Q274.65,188.0 274.48,167.4 Q275.15,188.0 273.80,207.5Z" fill="url(#cg2)" fill-opacity="0.74"/>
<path d="M286.47,207.5 Q285.54,191.3 289.07,174.1 Q286.44,191.3 287.38,207.5Z" fill="url(#cg2)" fill-opacity="0.67"/>
<path d="M281.86,207.5 Q282.86,188.0 279.27,167.5 Q283.81,188.0 282.81,207.5Z" fill="url(#cg2)" fill-opacity="0.59"/>
<path d="M290.15,207.5 Q288.69,193.3 291.38,178.1 Q289.66,193.3 291.13,207.5Z" fill="url(#cg2)" fill-opacity="0.93"/>
<path d="M271.96,207.5 Q272.19,191.1 269.48,173.7 Q272.86,191.1 272.63,207.5Z" fill="url(#cg2)" fill-opacity="0.51"/>
<path d="M295.66,207.5 Q297.14,191.8 297.54,175.2 Q297.87,191.8 296.39,207.5Z" fill="url(#cg2)" fill-opacity="0.72"/>
<path d="M276.19,207.5 Q274.49,191.3 276.19,174.1 Q275.32,191.3 277.01,207.5Z" fill="url(#cg2)" fill-opacity="0.96"/>
<path d="M291.33,207.5 Q290.90,193.0 292.18,177.4 Q291.88,193.0 292.31,207.5Z" fill="url(#cg2)" fill-opacity="0.83"/>
<path d="M291.93,207.5 Q293.34,192.8 291.48,177.2 Q294.07,192.8 292.67,207.5Z" fill="url(#cg2)" fill-opacity="0.77"/>
<path d="M290.72,207.5 Q289.65,189.7 293.20,170.9 Q290.29,189.7 291.36,207.5Z" fill="url(#cg2)" fill-opacity="0.73"/>
<path d="M275.19,207.5 Q274.65,188.2 276.96,167.9 Q275.64,188.2 276.18,207.5Z" fill="url(#cg2)" fill-opacity="0.69"/>
<path d="M276.59,207.5 Q275.76,191.0 273.11,173.6 Q276.36,191.0 277.19,207.5Z" fill="url(#cg2)" fill-opacity="0.72"/>
<path d="M293.45,207.5 Q292.75,190.9 298.34,173.3 Q293.64,190.9 294.33,207.5Z" fill="url(#cg2)" fill-opacity="0.96"/>
<path d="M269.98,207.5 Q269.41,188.7 266.41,169.0 Q270.31,188.7 270.89,207.5Z" fill="url(#cg2)" fill-opacity="0.69"/>
<path d="M290.52,207.5 Q291.81,194.8 290.73,181.0 Q292.69,194.8 291.40,207.5Z" fill="url(#cg2)" fill-opacity="0.70"/>
<path d="M277.20,207.5 Q278.99,196.1 278.75,183.8 Q279.79,196.1 278.00,207.5Z" fill="url(#cg2)" fill-opacity="0.84"/>
<path d="M288.87,207.5 Q290.79,195.5 292.00,182.4 Q291.85,195.5 289.94,207.5Z" fill="url(#cg2)" fill-opacity="0.88"/>
<path d="M275.74,207.5 Q274.44,193.2 275.44,178.0 Q275.16,193.2 276.46,207.5Z" fill="url(#cg2)" fill-opacity="0.70"/>
<path d="M295.23,207.5 Q297.08,191.2 297.14,174.0 Q298.11,191.2 296.27,207.5Z" fill="url(#cg2)" fill-opacity="0.59"/>
<path d="M270.89,207.5 Q272.42,190.1 266.12,171.6 Q273.14,190.1 271.61,207.5Z" fill="url(#cg2)" fill-opacity="0.96"/>
<path d="M289.65,207.5 Q289.20,191.9 290.77,175.3 Q289.85,191.9 290.29,207.5Z" fill="url(#cg2)" fill-opacity="0.92"/>
<path d="M275.55,207.5 Q273.93,188.5 275.29,168.4 Q274.62,188.5 276.24,207.5Z" fill="url(#cg2)" fill-opacity="0.96"/>
<path d="M271.32,207.5 Q270.69,189.2 267.70,169.9 Q271.44,189.2 272.07,207.5Z" fill="url(#cg2)" fill-opacity="0.63"/>
<path d="M274.42,207.5 Q275.49,192.6 271.57,176.7 Q276.19,192.6 275.12,207.5Z" fill="url(#cg2)" fill-opacity="0.69"/>
<path d="M268.94,207.5 Q267.47,195.3 264.52,182.0 Q268.23,195.3 269.70,207.5Z" fill="url(#cg2)" fill-opacity="0.89"/>
<path d="M282.45,207.5 Q282.03,189.9 284.88,171.4 Q282.99,189.9 283.41,207.5Z" fill="url(#cg2)" fill-opacity="0.81"/>
<path d="M296.49,207.5 Q297.84,191.2 298.76,173.9 Q298.71,191.2 297.36,207.5Z" fill="url(#cg2)" fill-opacity="0.66"/>
<path d="M284.58,207.5 Q285.94,191.8 285.94,175.2 Q287.04,191.8 285.67,207.5Z" fill="url(#cg2)" fill-opacity="0.99"/>
<line x1="281.0" y1="201.9" x2="280.2" y2="179.5" stroke="#141a0e" stroke-opacity="0.33" stroke-width="0.90"/>
<line x1="272.4" y1="194.6" x2="272.0" y2="180.8" stroke="#141a0e" stroke-opacity="0.32" stroke-width="0.62"/>
<line x1="290.2" y1="199.3" x2="289.4" y2="176.0" stroke="#141a0e" stroke-opacity="0.35" stroke-width="0.56"/>
<line x1="286.8" y1="196.8" x2="285.7" y2="183.2" stroke="#141a0e" stroke-opacity="0.31" stroke-width="0.86"/>
<line x1="275.4" y1="201.1" x2="273.8" y2="179.8" stroke="#141a0e" stroke-opacity="0.45" stroke-width="0.52"/>
<line x1="274.3" y1="197.9" x2="274.2" y2="182.0" stroke="#141a0e" stroke-opacity="0.50" stroke-width="0.85"/>
<line x1="272.7" y1="201.3" x2="270.6" y2="176.2" stroke="#141a0e" stroke-opacity="0.33" stroke-width="0.58"/>
<line x1="270.4" y1="197.1" x2="266.8" y2="178.3" stroke="#141a0e" stroke-opacity="0.56" stroke-width="0.86"/>
<line x1="288.0" y1="200.9" x2="288.9" y2="182.8" stroke="#141a0e" stroke-opacity="0.33" stroke-width="0.83"/>
<line x1="285.6" y1="199.8" x2="284.8" y2="178.3" stroke="#141a0e" stroke-opacity="0.43" stroke-width="0.67"/>
<line x1="279.5" y1="197.6" x2="280.0" y2="181.9" stroke="#141a0e" stroke-opacity="0.44" stroke-width="0.61"/>
<line x1="289.3" y1="196.4" x2="292.3" y2="177.1" stroke="#141a0e" stroke-opacity="0.51" stroke-width="0.76"/>
<line x1="269.8" y1="200.6" x2="267.4" y2="176.8" stroke="#141a0e" stroke-opacity="0.47" stroke-width="0.76"/>
<line x1="285.6" y1="198.3" x2="286.9" y2="181.0" stroke="#141a0e" stroke-opacity="0.31" stroke-width="0.81"/>
<line x1="290.8" y1="201.9" x2="293.5" y2="180.1" stroke="#141a0e" stroke-opacity="0.36" stroke-width="0.54"/>
<line x1="285.9" y1="194.3" x2="286.5" y2="176.7" stroke="#141a0e" stroke-opacity="0.59" stroke-width="0.86"/>
<line x1="281.3" y1="195.4" x2="280.0" y2="176.9" stroke="#141a0e" stroke-opacity="0.51" stroke-width="0.61"/>
<line x1="292.9" y1="198.8" x2="295.0" y2="178.6" stroke="#141a0e" stroke-opacity="0.52" stroke-width="0.68"/>
<line x1="286.5" y1="196.0" x2="285.5" y2="175.6" stroke="#b4c688" stroke-opacity="0.51" stroke-width="0.67"/>
<line x1="274.7" y1="196.0" x2="272.3" y2="173.5" stroke="#b4c688" stroke-opacity="0.56" stroke-width="0.56"/>
<line x1="293.5" y1="196.0" x2="294.2" y2="176.5" stroke="#b4c688" stroke-opacity="0.68" stroke-width="0.64"/>
<line x1="280.9" y1="196.0" x2="280.2" y2="171.1" stroke="#b4c688" stroke-opacity="0.59" stroke-width="0.48"/>
<line x1="274.0" y1="196.0" x2="272.2" y2="169.2" stroke="#b4c688" stroke-opacity="0.59" stroke-width="0.57"/>
<line x1="277.2" y1="196.0" x2="274.7" y2="174.4" stroke="#b4c688" stroke-opacity="0.74" stroke-width="0.47"/>
<line x1="285.3" y1="196.0" x2="286.3" y2="177.9" stroke="#b4c688" stroke-opacity="0.67" stroke-width="0.49"/>
<line x1="274.5" y1="196.0" x2="274.1" y2="170.5" stroke="#b4c688" stroke-opacity="0.41" stroke-width="0.66"/>
<line x1="274.2" y1="196.0" x2="271.7" y2="170.8" stroke="#b4c688" stroke-opacity="0.50" stroke-width="0.62"/>
<line x1="278.1" y1="196.0" x2="276.8" y2="172.0" stroke="#b4c688" stroke-opacity="0.73" stroke-width="0.41"/>
<line x1="284.4" y1="196.0" x2="283.0" y2="168.7" stroke="#b4c688" stroke-opacity="0.64" stroke-width="0.51"/>
<line x1="270.7" y1="196.0" x2="268.6" y2="178.2" stroke="#b4c688" stroke-opacity="0.66" stroke-width="0.55"/>
<rect x="261.5" y="165.8" width="41.0" height="16.7" fill="url(#gdark)"/>
<rect x="267.0" y="205.5" width="30.5" height="3" fill="#a09478" opacity="0.9"/>
<path d="M307.0,208.0 L306.0,162.6 L336.5,162.6 L336.0,208.0Z" fill="url(#cb3)"/>
<path d="M313.47,207.0 Q311.73,183.1 312.48,158.2 Q312.59,183.1 314.33,207.0Z" fill="url(#cg3)" fill-opacity="0.81"/>
<path d="M307.06,207.0 Q306.94,181.8 306.48,155.6 Q307.58,181.8 307.70,207.0Z" fill="url(#cg3)" fill-opacity="1.00"/>
<path d="M330.96,207.0 Q332.43,186.7 332.72,165.5 Q333.02,186.7 331.55,207.0Z" fill="url(#cg3)" fill-opacity="0.82"/>
<path d="M321.90,207.0 Q322.27,187.2 323.50,166.4 Q322.81,187.2 322.44,207.0Z" fill="url(#cg3)" fill-opacity="0.88"/>
<path d="M315.34,207.0 Q316.86,190.2 311.58,172.4 Q317.64,190.2 316.13,207.0Z" fill="url(#cg3)" fill-opacity="0.86"/>
<path d="M327.22,207.0 Q328.96,183.4 331.16,158.8 Q329.94,183.4 328.20,207.0Z" fill="url(#cg3)" fill-opacity="0.72"/>
<path d="M332.17,207.0 Q331.92,180.6 331.91,153.1 Q332.55,180.6 332.80,207.0Z" fill="url(#cg3)" fill-opacity="0.98"/>
<path d="M324.81,207.0 Q325.15,184.9 324.43,161.8 Q325.88,184.9 325.54,207.0Z" fill="url(#cg3)" fill-opacity="0.68"/>
<path d="M323.41,207.0 Q325.38,187.4 326.58,166.7 Q326.44,187.4 324.47,207.0Z" fill="url(#cg3)" fill-opacity="0.93"/>
<path d="M325.93,207.0 Q326.20,190.1 325.14,172.2 Q327.28,190.1 327.01,207.0Z" fill="url(#cg3)" fill-opacity="0.95"/>
<path d="M327.28,207.0 Q325.53,189.7 326.89,171.3 Q326.38,189.7 328.12,207.0Z" fill="url(#cg3)" fill-opacity="0.64"/>
<path d="M331.27,207.0 Q329.88,180.1 336.40,152.3 Q330.86,180.1 332.25,207.0Z" fill="url(#cg3)" fill-opacity="0.71"/>
<path d="M315.26,207.0 Q313.44,190.3 315.75,172.6 Q313.97,190.3 315.79,207.0Z" fill="url(#cg3)" fill-opacity="0.81"/>
<path d="M327.29,207.0 Q329.28,190.4 327.77,172.9 Q330.37,190.4 328.38,207.0Z" fill="url(#cg3)" fill-opacity="0.75"/>
<path d="M315.72,207.0 Q315.35,186.2 312.15,164.4 Q315.87,186.2 316.24,207.0Z" fill="url(#cg3)" fill-opacity="0.60"/>
<path d="M324.19,207.0 Q326.03,179.8 323.00,151.6 Q327.05,179.8 325.21,207.0Z" fill="url(#cg3)" fill-opacity="0.66"/>
<path d="M332.60,207.0 Q332.98,184.3 334.20,160.5 Q333.79,184.3 333.41,207.0Z" fill="url(#cg3)" fill-opacity="0.82"/>
<path d="M322.82,207.0 Q323.70,191.4 324.02,174.8 Q324.50,191.4 323.62,207.0Z" fill="url(#cg3)" fill-opacity="0.72"/>
<path d="M313.49,207.0 Q311.53,192.0 311.00,176.0 Q312.34,192.0 314.30,207.0Z" fill="url(#cg3)" fill-opacity="0.77"/>
<path d="M318.61,207.0 Q316.85,179.7 318.80,151.4 Q317.72,179.7 319.48,207.0Z" fill="url(#cg3)" fill-opacity="0.82"/>
<path d="M324.84,207.0 Q325.79,187.3 325.44,166.7 Q326.50,187.3 325.55,207.0Z" fill="url(#cg3)" fill-opacity="0.85"/>
<path d="M307.10,207.0 Q306.93,187.3 302.13,166.6 Q308.01,187.3 308.18,207.0Z" fill="url(#cg3)" fill-opacity="0.63"/>
<path d="M323.84,207.0 Q324.23,183.0 323.37,158.1 Q324.91,183.0 324.53,207.0Z" fill="url(#cg3)" fill-opacity="0.68"/>
<path d="M315.45,207.0 Q316.39,188.7 313.63,169.5 Q316.91,188.7 315.97,207.0Z" fill="url(#cg3)" fill-opacity="0.78"/>
<path d="M315.67,207.0 Q315.41,189.2 313.03,170.4 Q316.05,189.2 316.31,207.0Z" fill="url(#cg3)" fill-opacity="0.59"/>
<path d="M326.89,207.0 Q326.65,182.5 325.69,157.1 Q327.35,182.5 327.59,207.0Z" fill="url(#cg3)" fill-opacity="0.92"/>
<path d="M331.37,207.0 Q331.17,182.7 331.53,157.4 Q332.06,182.7 332.26,207.0Z" fill="url(#cg3)" fill-opacity="0.94"/>
<path d="M313.22,207.0 Q314.57,185.2 309.49,162.4 Q315.19,185.2 313.83,207.0Z" fill="url(#cg3)" fill-opacity="0.90"/>
<path d="M311.88,207.0 Q311.26,189.3 309.01,170.5 Q312.15,189.3 312.77,207.0Z" fill="url(#cg3)" fill-opacity="0.90"/>
<path d="M310.43,207.0 Q310.10,189.1 307.23,170.1 Q310.76,189.1 311.09,207.0Z" fill="url(#cg3)" fill-opacity="0.67"/>
<path d="M318.88,207.0 Q320.65,191.1 317.94,174.2 Q321.24,191.1 319.47,207.0Z" fill="url(#cg3)" fill-opacity="0.50"/>
<path d="M331.98,207.0 Q330.87,183.9 337.28,159.8 Q331.94,183.9 333.05,207.0Z" fill="url(#cg3)" fill-opacity="0.96"/>
<path d="M328.21,207.0 Q327.58,187.1 331.74,166.2 Q328.39,187.1 329.03,207.0Z" fill="url(#cg3)" fill-opacity="0.64"/>
<path d="M313.26,207.0 Q311.44,186.0 309.26,164.0 Q312.11,186.0 313.93,207.0Z" fill="url(#cg3)" fill-opacity="0.91"/>
<path d="M332.69,207.0 Q332.99,191.1 336.34,174.3 Q334.03,191.1 333.72,207.0Z" fill="url(#cg3)" fill-opacity="0.95"/>
<path d="M307.04,207.0 Q307.14,180.9 305.93,153.8 Q307.82,180.9 307.72,207.0Z" fill="url(#cg3)" fill-opacity="0.83"/>
<path d="M318.65,207.0 Q320.09,186.4 320.91,164.7 Q320.80,186.4 319.35,207.0Z" fill="url(#cg3)" fill-opacity="0.63"/>
<path d="M320.53,207.0 Q321.80,182.9 322.16,157.8 Q322.42,182.9 321.15,207.0Z" fill="url(#cg3)" fill-opacity="0.77"/>
<path d="M311.48,207.0 Q309.51,191.1 311.66,174.2 Q310.49,191.1 312.46,207.0Z" fill="url(#cg3)" fill-opacity="0.91"/>
<path d="M324.90,207.0 Q325.01,179.9 327.86,151.7 Q325.67,179.9 325.56,207.0Z" fill="url(#cg3)" fill-opacity="0.63"/>
<path d="M319.02,207.0 Q317.52,188.8 318.43,169.6 Q318.02,188.8 319.52,207.0Z" fill="url(#cg3)" fill-opacity="0.53"/>
<path d="M310.11,207.0 Q310.12,192.0 305.71,175.9 Q311.13,192.0 311.12,207.0Z" fill="url(#cg3)" fill-opacity="0.54"/>
<path d="M315.72,207.0 Q315.16,182.9 313.79,157.8 Q316.05,182.9 316.61,207.0Z" fill="url(#cg3)" fill-opacity="0.79"/>
<path d="M312.12,207.0 Q311.65,180.4 309.56,152.9 Q312.48,180.4 312.96,207.0Z" fill="url(#cg3)" fill-opacity="0.86"/>
<path d="M308.89,207.0 Q308.41,183.1 304.83,158.3 Q309.27,183.1 309.75,207.0Z" fill="url(#cg3)" fill-opacity="0.89"/>
<path d="M329.87,207.0 Q330.68,183.9 332.38,159.8 Q331.41,183.9 330.60,207.0Z" fill="url(#cg3)" fill-opacity="0.75"/>
<path d="M318.87,207.0 Q319.65,184.3 319.67,160.5 Q320.30,184.3 319.52,207.0Z" fill="url(#cg3)" fill-opacity="0.77"/>
<path d="M308.56,207.0 Q308.06,183.8 306.02,159.6 Q309.09,183.8 309.59,207.0Z" fill="url(#cg3)" fill-opacity="0.97"/>
<path d="M332.65,207.0 Q333.90,181.8 336.72,155.7 Q334.68,181.8 333.43,207.0Z" fill="url(#cg3)" fill-opacity="0.56"/>
<path d="M325.76,207.0 Q326.01,189.0 329.17,170.1 Q326.91,189.0 326.66,207.0Z" fill="url(#cg3)" fill-opacity="0.87"/>
<path d="M309.70,207.0 Q307.88,179.6 308.08,151.2 Q308.46,179.6 310.28,207.0Z" fill="url(#cg3)" fill-opacity="0.89"/>
<path d="M309.36,207.0 Q310.72,190.4 304.76,172.9 Q311.33,190.4 309.97,207.0Z" fill="url(#cg3)" fill-opacity="0.51"/>
<path d="M310.02,207.0 Q310.33,187.2 310.25,166.5 Q311.33,187.2 311.02,207.0Z" fill="url(#cg3)" fill-opacity="0.98"/>
<path d="M329.76,207.0 Q328.19,188.7 328.77,169.3 Q328.99,188.7 330.57,207.0Z" fill="url(#cg3)" fill-opacity="0.86"/>
<path d="M328.37,207.0 Q329.68,179.9 332.45,151.9 Q330.38,179.9 329.07,207.0Z" fill="url(#cg3)" fill-opacity="0.78"/>
<path d="M313.59,207.0 Q313.16,181.7 310.43,155.4 Q314.03,181.7 314.46,207.0Z" fill="url(#cg3)" fill-opacity="0.88"/>
<path d="M317.28,207.0 Q317.28,182.9 316.06,157.7 Q318.03,182.9 318.03,207.0Z" fill="url(#cg3)" fill-opacity="0.54"/>
<path d="M334.92,207.0 Q335.94,188.4 337.05,168.7 Q336.54,188.4 335.52,207.0Z" fill="url(#cg3)" fill-opacity="0.85"/>
<path d="M326.10,207.0 Q324.70,184.6 327.35,161.1 Q325.58,184.6 326.98,207.0Z" fill="url(#cg3)" fill-opacity="0.95"/>
<path d="M309.37,207.0 Q310.25,191.0 308.80,174.0 Q311.06,191.0 310.19,207.0Z" fill="url(#cg3)" fill-opacity="0.72"/>
<path d="M311.97,207.0 Q310.90,181.2 309.02,154.3 Q311.75,181.2 312.82,207.0Z" fill="url(#cg3)" fill-opacity="0.66"/>
<path d="M326.58,207.0 Q328.00,182.2 330.56,156.4 Q328.92,182.2 327.50,207.0Z" fill="url(#cg3)" fill-opacity="0.71"/>
<path d="M323.70,207.0 Q323.23,181.4 322.77,154.7 Q323.74,181.4 324.21,207.0Z" fill="url(#cg3)" fill-opacity="0.74"/>
<path d="M311.51,207.0 Q313.48,182.5 309.11,157.1 Q314.44,182.5 312.48,207.0Z" fill="url(#cg3)" fill-opacity="0.57"/>
<path d="M320.41,207.0 Q320.64,184.4 321.14,160.7 Q321.64,184.4 321.41,207.0Z" fill="url(#cg3)" fill-opacity="0.91"/>
<path d="M320.59,207.0 Q322.43,190.1 321.93,172.1 Q323.17,190.1 321.33,207.0Z" fill="url(#cg3)" fill-opacity="0.87"/>
<path d="M320.09,207.0 Q321.92,181.5 318.50,155.1 Q322.85,181.5 321.02,207.0Z" fill="url(#cg3)" fill-opacity="0.84"/>
<path d="M331.43,207.0 Q332.25,181.1 331.91,154.1 Q332.91,181.1 332.09,207.0Z" fill="url(#cg3)" fill-opacity="0.59"/>
<path d="M331.39,207.0 Q331.08,181.8 336.02,155.5 Q332.10,181.8 332.41,207.0Z" fill="url(#cg3)" fill-opacity="0.66"/>
<path d="M327.64,207.0 Q327.07,180.2 326.66,152.4 Q328.07,180.2 328.64,207.0Z" fill="url(#cg3)" fill-opacity="0.65"/>
<path d="M323.48,207.0 Q323.42,179.6 325.07,151.2 Q324.12,179.6 324.18,207.0Z" fill="url(#cg3)" fill-opacity="0.72"/>
<path d="M312.73,207.0 Q311.20,191.6 311.76,175.3 Q311.94,191.6 313.46,207.0Z" fill="url(#cg3)" fill-opacity="0.77"/>
<path d="M314.45,207.0 Q312.84,180.3 314.47,152.7 Q313.87,180.3 315.48,207.0Z" fill="url(#cg3)" fill-opacity="0.95"/>
<path d="M333.82,207.0 Q334.52,188.7 335.72,169.5 Q335.48,188.7 334.77,207.0Z" fill="url(#cg3)" fill-opacity="0.65"/>
<path d="M325.49,207.0 Q326.18,181.9 328.40,155.8 Q327.14,181.9 326.44,207.0Z" fill="url(#cg3)" fill-opacity="0.98"/>
<path d="M322.19,207.0 Q322.91,184.7 320.18,161.4 Q323.62,184.7 322.90,207.0Z" fill="url(#cg3)" fill-opacity="0.86"/>
<path d="M322.99,207.0 Q324.55,186.8 321.63,165.7 Q325.42,186.8 323.86,207.0Z" fill="url(#cg3)" fill-opacity="0.59"/>
<path d="M325.71,207.0 Q326.60,191.3 324.35,174.5 Q327.18,191.3 326.30,207.0Z" fill="url(#cg3)" fill-opacity="0.67"/>
<path d="M323.94,207.0 Q322.64,186.9 324.94,165.7 Q323.42,186.9 324.71,207.0Z" fill="url(#cg3)" fill-opacity="0.66"/>
<path d="M308.58,207.0 Q308.01,188.5 307.66,168.9 Q308.84,188.5 309.40,207.0Z" fill="url(#cg3)" fill-opacity="0.87"/>
<path d="M314.45,207.0 Q313.44,190.3 312.47,172.6 Q313.96,190.3 314.97,207.0Z" fill="url(#cg3)" fill-opacity="0.75"/>
<path d="M328.93,207.0 Q330.01,182.7 329.65,157.3 Q330.76,182.7 329.67,207.0Z" fill="url(#cg3)" fill-opacity="0.77"/>
<path d="M316.90,207.0 Q315.35,180.3 318.26,152.7 Q316.02,180.3 317.56,207.0Z" fill="url(#cg3)" fill-opacity="0.55"/>
<path d="M329.28,207.0 Q330.26,181.0 332.24,154.0 Q330.87,181.0 329.90,207.0Z" fill="url(#cg3)" fill-opacity="0.71"/>
<path d="M330.36,207.0 Q329.14,186.1 333.64,164.1 Q329.73,186.1 330.95,207.0Z" fill="url(#cg3)" fill-opacity="0.70"/>
<line x1="322.2" y1="196.6" x2="322.4" y2="164.9" stroke="#141a0e" stroke-opacity="0.53" stroke-width="0.51"/>
<line x1="329.4" y1="195.1" x2="332.2" y2="173.3" stroke="#141a0e" stroke-opacity="0.47" stroke-width="0.73"/>
<line x1="325.0" y1="196.1" x2="327.3" y2="170.4" stroke="#141a0e" stroke-opacity="0.56" stroke-width="0.69"/>
<line x1="324.1" y1="190.7" x2="325.3" y2="162.6" stroke="#141a0e" stroke-opacity="0.50" stroke-width="0.70"/>
<line x1="322.1" y1="193.5" x2="321.8" y2="164.8" stroke="#141a0e" stroke-opacity="0.31" stroke-width="0.70"/>
<line x1="325.3" y1="188.6" x2="325.6" y2="169.0" stroke="#141a0e" stroke-opacity="0.57" stroke-width="0.55"/>
<line x1="329.1" y1="195.4" x2="330.8" y2="163.1" stroke="#141a0e" stroke-opacity="0.37" stroke-width="0.53"/>
<line x1="322.5" y1="189.6" x2="324.2" y2="166.2" stroke="#141a0e" stroke-opacity="0.51" stroke-width="0.55"/>
<line x1="330.9" y1="191.3" x2="332.8" y2="173.1" stroke="#141a0e" stroke-opacity="0.52" stroke-width="0.64"/>
<line x1="329.5" y1="194.5" x2="332.5" y2="172.3" stroke="#141a0e" stroke-opacity="0.53" stroke-width="0.69"/>
<line x1="311.3" y1="197.2" x2="307.3" y2="163.4" stroke="#141a0e" stroke-opacity="0.35" stroke-width="0.70"/>
<line x1="326.7" y1="192.1" x2="327.6" y2="167.4" stroke="#141a0e" stroke-opacity="0.39" stroke-width="0.69"/>
<line x1="328.2" y1="189.3" x2="328.8" y2="164.6" stroke="#141a0e" stroke-opacity="0.52" stroke-width="0.65"/>
<line x1="318.1" y1="196.9" x2="317.4" y2="169.3" stroke="#141a0e" stroke-opacity="0.30" stroke-width="0.58"/>
<line x1="328.9" y1="197.3" x2="328.6" y2="167.8" stroke="#141a0e" stroke-opacity="0.36" stroke-width="0.57"/>
<line x1="319.0" y1="198.2" x2="316.9" y2="162.9" stroke="#141a0e" stroke-opacity="0.35" stroke-width="0.70"/>
<line x1="310.0" y1="194.8" x2="305.7" y2="167.6" stroke="#141a0e" stroke-opacity="0.51" stroke-width="0.52"/>
<line x1="319.0" y1="188.5" x2="317.8" y2="162.9" stroke="#141a0e" stroke-opacity="0.37" stroke-width="0.54"/>
<line x1="320.8" y1="191.0" x2="319.1" y2="161.8" stroke="#b4c688" stroke-opacity="0.54" stroke-width="0.44"/>
<line x1="309.8" y1="191.0" x2="308.2" y2="155.9" stroke="#b4c688" stroke-opacity="0.72" stroke-width="0.54"/>
<line x1="332.8" y1="191.0" x2="333.9" y2="155.5" stroke="#b4c688" stroke-opacity="0.51" stroke-width="0.64"/>
<line x1="324.9" y1="191.0" x2="324.6" y2="152.8" stroke="#b4c688" stroke-opacity="0.67" stroke-width="0.69"/>
<line x1="323.9" y1="191.0" x2="322.1" y2="151.7" stroke="#b4c688" stroke-opacity="0.44" stroke-width="0.45"/>
<line x1="309.4" y1="191.0" x2="305.1" y2="162.3" stroke="#b4c688" stroke-opacity="0.76" stroke-width="0.46"/>
<line x1="333.9" y1="191.0" x2="335.9" y2="164.9" stroke="#b4c688" stroke-opacity="0.77" stroke-width="0.68"/>
<line x1="309.3" y1="191.0" x2="306.0" y2="161.5" stroke="#b4c688" stroke-opacity="0.78" stroke-width="0.43"/>
<line x1="316.1" y1="191.0" x2="316.2" y2="153.2" stroke="#b4c688" stroke-opacity="0.56" stroke-width="0.50"/>
<line x1="326.2" y1="191.0" x2="328.6" y2="154.2" stroke="#b4c688" stroke-opacity="0.70" stroke-width="0.62"/>
<line x1="330.3" y1="191.0" x2="331.9" y2="166.9" stroke="#b4c688" stroke-opacity="0.55" stroke-width="0.52"/>
<line x1="314.4" y1="191.0" x2="314.0" y2="159.4" stroke="#b4c688" stroke-opacity="0.51" stroke-width="0.45"/>
<rect x="301.0" y="150.2" width="40.5" height="22.7" fill="url(#gdark)"/>
<rect x="306.5" y="205.0" width="30.0" height="3" fill="#a09478" opacity="0.9"/>
<path d="M346.0,208.0 L344.0,172.0 L375.0,172.0 L373.5,208.0Z" fill="url(#cb4)"/>
<path d="M352.19,207.0 Q351.80,188.5 347.88,169.1 Q352.39,188.5 352.79,207.0Z" fill="url(#cg4)" fill-opacity="0.53"/>
<path d="M370.93,207.0 Q370.03,192.6 375.93,177.3 Q370.67,192.6 371.56,207.0Z" fill="url(#cg4)" fill-opacity="0.77"/>
<path d="M350.22,207.0 Q351.45,186.9 345.68,165.7 Q352.50,186.9 351.28,207.0Z" fill="url(#cg4)" fill-opacity="0.91"/>
<path d="M367.57,207.0 Q368.99,187.7 368.18,167.4 Q369.87,187.7 368.45,207.0Z" fill="url(#cg4)" fill-opacity="0.87"/>
<path d="M369.75,207.0 Q368.46,190.8 370.32,173.6 Q369.36,190.8 370.65,207.0Z" fill="url(#cg4)" fill-opacity="0.75"/>
<path d="M358.51,207.0 Q357.72,194.8 356.11,181.5 Q358.73,194.8 359.53,207.0Z" fill="url(#cg4)" fill-opacity="0.77"/>
<path d="M370.49,207.0 Q370.15,194.1 374.24,180.2 Q371.15,194.1 371.50,207.0Z" fill="url(#cg4)" fill-opacity="0.75"/>
<path d="M362.13,207.0 Q360.30,186.4 362.55,164.9 Q360.98,186.4 362.81,207.0Z" fill="url(#cg4)" fill-opacity="0.91"/>
<path d="M346.86,207.0 Q346.23,187.4 344.38,166.9 Q347.06,187.4 347.68,207.0Z" fill="url(#cg4)" fill-opacity="0.74"/>
<path d="M373.11,207.0 Q372.22,188.7 375.08,169.4 Q372.84,188.7 373.74,207.0Z" fill="url(#cg4)" fill-opacity="0.82"/>
<path d="M355.37,207.0 Q353.77,187.8 355.94,167.6 Q354.61,187.8 356.20,207.0Z" fill="url(#cg4)" fill-opacity="0.95"/>
<path d="M347.26,207.0 Q346.58,192.6 342.53,177.3 Q347.45,192.6 348.13,207.0Z" fill="url(#cg4)" fill-opacity="0.62"/>
<path d="M350.42,207.0 Q352.24,185.7 347.97,163.3 Q353.16,185.7 351.34,207.0Z" fill="url(#cg4)" fill-opacity="0.95"/>
<path d="M365.87,207.0 Q366.97,185.6 370.48,163.1 Q367.65,185.6 366.55,207.0Z" fill="url(#cg4)" fill-opacity="0.98"/>
<path d="M356.79,207.0 Q355.56,190.9 359.02,173.9 Q356.55,190.9 357.78,207.0Z" fill="url(#cg4)" fill-opacity="0.65"/>
<path d="M357.68,207.0 Q355.71,188.4 355.36,168.8 Q356.79,188.4 358.75,207.0Z" fill="url(#cg4)" fill-opacity="0.67"/>
<path d="M346.87,207.0 Q345.26,192.9 341.59,177.8 Q345.98,192.9 347.59,207.0Z" fill="url(#cg4)" fill-opacity="0.65"/>
<path d="M372.73,207.0 Q371.40,186.8 375.90,165.6 Q371.94,186.8 373.27,207.0Z" fill="url(#cg4)" fill-opacity="0.53"/>
<path d="M364.22,207.0 Q366.21,185.7 363.59,163.3 Q367.00,185.7 365.01,207.0Z" fill="url(#cg4)" fill-opacity="0.62"/>
<path d="M348.99,207.0 Q348.90,192.8 346.46,177.5 Q349.65,192.8 349.74,207.0Z" fill="url(#cg4)" fill-opacity="0.99"/>
<path d="M352.27,207.0 Q353.83,185.6 349.93,163.3 Q354.58,185.6 353.03,207.0Z" fill="url(#cg4)" fill-opacity="0.62"/>
<path d="M368.53,207.0 Q367.36,185.6 371.08,163.2 Q368.01,185.6 369.18,207.0Z" fill="url(#cg4)" fill-opacity="0.62"/>
<path d="M352.10,207.0 Q352.36,186.3 352.32,164.6 Q352.89,186.3 352.63,207.0Z" fill="url(#cg4)" fill-opacity="0.96"/>
<path d="M372.79,207.0 Q373.77,194.3 376.09,180.7 Q374.67,194.3 373.69,207.0Z" fill="url(#cg4)" fill-opacity="0.90"/>
<path d="M359.08,207.0 Q360.78,186.8 356.86,165.7 Q361.80,186.8 360.11,207.0Z" fill="url(#cg4)" fill-opacity="0.95"/>
<path d="M354.81,207.0 Q354.93,193.1 354.72,178.1 Q355.81,193.1 355.70,207.0Z" fill="url(#cg4)" fill-opacity="0.91"/>
<path d="M363.48,207.0 Q361.78,187.3 366.03,166.7 Q362.83,187.3 364.53,207.0Z" fill="url(#cg4)" fill-opacity="0.98"/>
<path d="M372.44,207.0 Q370.95,191.5 378.76,175.0 Q371.48,191.5 372.97,207.0Z" fill="url(#cg4)" fill-opacity="0.95"/>
<path d="M372.33,207.0 Q372.61,185.8 376.90,163.5 Q373.21,185.8 372.93,207.0Z" fill="url(#cg4)" fill-opacity="0.82"/>
<path d="M366.28,207.0 Q364.33,186.9 370.69,165.8 Q364.83,186.9 366.78,207.0Z" fill="url(#cg4)" fill-opacity="0.96"/>
<path d="M369.62,207.0 Q369.82,193.2 370.37,178.4 Q370.79,193.2 370.59,207.0Z" fill="url(#cg4)" fill-opacity="0.94"/>
<path d="M369.82,207.0 Q370.91,191.5 370.96,175.1 Q371.61,191.5 370.51,207.0Z" fill="url(#cg4)" fill-opacity="0.95"/>
<path d="M358.71,207.0 Q358.66,185.6 358.66,163.2 Q359.18,185.6 359.23,207.0Z" fill="url(#cg4)" fill-opacity="0.80"/>
<path d="M369.42,207.0 Q369.51,186.3 372.91,164.6 Q370.23,186.3 370.14,207.0Z" fill="url(#cg4)" fill-opacity="0.88"/>
<path d="M346.01,207.0 Q345.54,193.4 344.40,178.8 Q346.09,193.4 346.57,207.0Z" fill="url(#cg4)" fill-opacity="0.77"/>
<path d="M367.26,207.0 Q365.64,187.0 368.43,166.1 Q366.43,187.0 368.05,207.0Z" fill="url(#cg4)" fill-opacity="0.98"/>
<path d="M348.74,207.0 Q350.18,194.1 346.73,180.3 Q350.98,194.1 349.55,207.0Z" fill="url(#cg4)" fill-opacity="0.72"/>
<path d="M367.05,207.0 Q368.39,194.1 366.58,180.2 Q369.01,194.1 367.66,207.0Z" fill="url(#cg4)" fill-opacity="0.65"/>
<path d="M357.11,207.0 Q355.70,186.5 358.58,165.0 Q356.73,186.5 358.13,207.0Z" fill="url(#cg4)" fill-opacity="0.59"/>
<path d="M359.07,207.0 Q357.09,190.1 358.33,172.1 Q358.14,190.1 360.11,207.0Z" fill="url(#cg4)" fill-opacity="0.86"/>
<path d="M354.11,207.0 Q352.41,189.5 353.18,170.9 Q353.34,189.5 355.04,207.0Z" fill="url(#cg4)" fill-opacity="0.74"/>
<path d="M352.27,207.0 Q352.78,188.2 352.68,168.3 Q353.74,188.2 353.23,207.0Z" fill="url(#cg4)" fill-opacity="0.99"/>
<path d="M364.09,207.0 Q365.73,187.7 366.34,167.5 Q366.78,187.7 365.13,207.0Z" fill="url(#cg4)" fill-opacity="0.73"/>
<path d="M353.97,207.0 Q352.53,192.9 354.90,177.8 Q353.40,192.9 354.84,207.0Z" fill="url(#cg4)" fill-opacity="0.72"/>
<path d="M366.91,207.0 Q365.49,191.4 368.16,174.8 Q366.07,191.4 367.49,207.0Z" fill="url(#cg4)" fill-opacity="0.54"/>
<path d="M367.89,207.0 Q367.29,194.4 368.38,180.7 Q368.01,194.4 368.61,207.0Z" fill="url(#cg4)" fill-opacity="0.79"/>
<path d="M362.54,207.0 Q363.16,188.6 361.29,169.2 Q364.22,188.6 363.60,207.0Z" fill="url(#cg4)" fill-opacity="0.59"/>
<path d="M354.73,207.0 Q356.05,185.6 352.24,163.2 Q356.56,185.6 355.24,207.0Z" fill="url(#cg4)" fill-opacity="0.97"/>
<path d="M367.73,207.0 Q367.71,195.0 371.88,182.0 Q368.31,195.0 368.33,207.0Z" fill="url(#cg4)" fill-opacity="0.79"/>
<path d="M361.24,207.0 Q361.85,192.6 364.71,177.2 Q362.93,192.6 362.32,207.0Z" fill="url(#cg4)" fill-opacity="0.56"/>
<path d="M364.07,207.0 Q365.79,190.9 367.11,173.8 Q366.78,190.9 365.07,207.0Z" fill="url(#cg4)" fill-opacity="0.65"/>
<path d="M356.71,207.0 Q355.63,194.3 356.81,180.6 Q356.55,194.3 357.63,207.0Z" fill="url(#cg4)" fill-opacity="0.65"/>
<path d="M354.46,207.0 Q354.06,195.6 354.19,183.2 Q355.10,195.6 355.50,207.0Z" fill="url(#cg4)" fill-opacity="0.70"/>
<path d="M368.23,207.0 Q368.39,188.7 369.31,169.4 Q368.90,188.7 368.73,207.0Z" fill="url(#cg4)" fill-opacity="0.59"/>
<path d="M364.53,207.0 Q363.15,188.2 366.95,168.4 Q364.22,188.2 365.60,207.0Z" fill="url(#cg4)" fill-opacity="0.81"/>
<path d="M347.34,207.0 Q346.59,195.5 347.21,182.9 Q347.64,195.5 348.39,207.0Z" fill="url(#cg4)" fill-opacity="0.80"/>
<path d="M347.98,207.0 Q349.10,186.9 343.74,165.9 Q350.15,186.9 349.04,207.0Z" fill="url(#cg4)" fill-opacity="0.95"/>
<path d="M349.56,207.0 Q350.72,187.6 345.64,167.2 Q351.79,187.6 350.62,207.0Z" fill="url(#cg4)" fill-opacity="0.58"/>
<path d="M364.39,207.0 Q363.02,195.1 366.11,182.2 Q363.68,195.1 365.05,207.0Z" fill="url(#cg4)" fill-opacity="0.76"/>
<path d="M348.37,207.0 Q350.34,187.8 342.58,167.5 Q350.92,187.8 348.95,207.0Z" fill="url(#cg4)" fill-opacity="0.53"/>
<path d="M353.48,207.0 Q355.29,191.9 354.46,175.8 Q356.23,191.9 354.42,207.0Z" fill="url(#cg4)" fill-opacity="0.83"/>
<path d="M369.70,207.0 Q369.91,190.3 374.06,172.5 Q370.83,190.3 370.62,207.0Z" fill="url(#cg4)" fill-opacity="0.86"/>
<path d="M359.42,207.0 Q358.10,193.6 357.51,179.3 Q358.89,193.6 360.22,207.0Z" fill="url(#cg4)" fill-opacity="0.53"/>
<path d="M369.60,207.0 Q368.92,188.5 371.15,169.0 Q369.82,188.5 370.51,207.0Z" fill="url(#cg4)" fill-opacity="0.93"/>
<path d="M356.12,207.0 Q357.96,185.6 355.08,163.2 Q358.99,185.6 357.15,207.0Z" fill="url(#cg4)" fill-opacity="0.51"/>
<path d="M349.70,207.0 Q349.91,193.7 345.28,179.4 Q350.91,193.7 350.69,207.0Z" fill="url(#cg4)" fill-opacity="0.62"/>
<path d="M358.61,207.0 Q359.44,186.6 360.00,165.3 Q360.43,186.6 359.61,207.0Z" fill="url(#cg4)" fill-opacity="1.00"/>
<path d="M370.83,207.0 Q371.18,188.4 376.87,168.7 Q372.19,188.4 371.84,207.0Z" fill="url(#cg4)" fill-opacity="0.92"/>
<path d="M348.61,207.0 Q350.19,194.5 346.47,181.0 Q350.88,194.5 349.29,207.0Z" fill="url(#cg4)" fill-opacity="0.82"/>
<path d="M362.18,207.0 Q362.82,191.1 360.23,174.2 Q363.48,191.1 362.83,207.0Z" fill="url(#cg4)" fill-opacity="0.93"/>
<path d="M354.10,207.0 Q355.67,191.0 355.13,174.0 Q356.37,191.0 354.81,207.0Z" fill="url(#cg4)" fill-opacity="0.92"/>
<path d="M370.10,207.0 Q370.21,191.4 375.56,174.8 Q371.13,191.4 371.02,207.0Z" fill="url(#cg4)" fill-opacity="0.80"/>
<path d="M372.69,207.0 Q372.87,185.9 375.68,163.8 Q373.80,185.9 373.62,207.0Z" fill="url(#cg4)" fill-opacity="0.75"/>
<path d="M362.17,207.0 Q363.80,186.8 361.42,165.5 Q364.35,186.8 362.71,207.0Z" fill="url(#cg4)" fill-opacity="0.89"/>
<path d="M364.66,207.0 Q362.67,195.3 364.09,182.7 Q363.66,195.3 365.66,207.0Z" fill="url(#cg4)" fill-opacity="0.75"/>
<path d="M368.95,207.0 Q367.09,191.0 372.28,173.9 Q367.60,191.0 369.46,207.0Z" fill="url(#cg4)" fill-opacity="0.87"/>
<path d="M358.63,207.0 Q359.89,188.2 356.60,168.4 Q360.93,188.2 359.66,207.0Z" fill="url(#cg4)" fill-opacity="0.87"/>
<path d="M353.94,207.0 Q355.84,190.8 351.77,173.5 Q356.36,190.8 354.46,207.0Z" fill="url(#cg4)" fill-opacity="0.71"/>
<path d="M366.28,207.0 Q367.10,187.6 370.57,167.2 Q368.01,187.6 367.19,207.0Z" fill="url(#cg4)" fill-opacity="0.89"/>
<path d="M357.51,207.0 Q356.62,185.6 355.36,163.1 Q357.65,185.6 358.54,207.0Z" fill="url(#cg4)" fill-opacity="0.97"/>
<path d="M366.28,207.0 Q366.76,191.0 367.90,174.0 Q367.77,191.0 367.29,207.0Z" fill="url(#cg4)" fill-opacity="0.66"/>
<path d="M352.71,207.0 Q354.37,185.6 351.03,163.2 Q355.03,185.6 353.37,207.0Z" fill="url(#cg4)" fill-opacity="0.64"/>
<path d="M349.10,207.0 Q347.46,185.9 348.18,163.8 Q348.56,185.9 350.19,207.0Z" fill="url(#cg4)" fill-opacity="0.58"/>
<path d="M351.30,207.0 Q349.76,191.5 352.00,175.0 Q350.79,191.5 352.34,207.0Z" fill="url(#cg4)" fill-opacity="0.75"/>
<path d="M355.06,207.0 Q356.44,195.5 353.65,183.0 Q357.04,195.5 355.66,207.0Z" fill="url(#cg4)" fill-opacity="0.62"/>
<line x1="350.2" y1="196.1" x2="349.2" y2="174.7" stroke="#141a0e" stroke-opacity="0.50" stroke-width="0.86"/>
<line x1="349.2" y1="194.8" x2="347.5" y2="173.6" stroke="#141a0e" stroke-opacity="0.31" stroke-width="0.81"/>
<line x1="351.9" y1="198.3" x2="348.3" y2="172.3" stroke="#141a0e" stroke-opacity="0.40" stroke-width="0.89"/>
<line x1="362.4" y1="199.7" x2="362.3" y2="180.9" stroke="#141a0e" stroke-opacity="0.36" stroke-width="0.88"/>
<line x1="370.9" y1="200.7" x2="374.5" y2="180.8" stroke="#141a0e" stroke-opacity="0.57" stroke-width="0.78"/>
<line x1="363.9" y1="199.5" x2="366.2" y2="172.9" stroke="#141a0e" stroke-opacity="0.34" stroke-width="0.69"/>
<line x1="360.9" y1="194.6" x2="361.1" y2="175.3" stroke="#141a0e" stroke-opacity="0.55" stroke-width="0.80"/>
<line x1="348.3" y1="199.1" x2="343.6" y2="174.0" stroke="#141a0e" stroke-opacity="0.47" stroke-width="0.58"/>
<line x1="362.8" y1="194.9" x2="362.8" y2="175.3" stroke="#141a0e" stroke-opacity="0.58" stroke-width="0.58"/>
<line x1="356.0" y1="201.0" x2="356.6" y2="173.9" stroke="#141a0e" stroke-opacity="0.36" stroke-width="0.83"/>
<line x1="365.5" y1="200.9" x2="368.5" y2="176.5" stroke="#141a0e" stroke-opacity="0.39" stroke-width="0.79"/>
<line x1="357.1" y1="197.1" x2="354.7" y2="175.4" stroke="#141a0e" stroke-opacity="0.41" stroke-width="0.68"/>
<line x1="350.7" y1="194.7" x2="346.2" y2="179.1" stroke="#141a0e" stroke-opacity="0.43" stroke-width="0.55"/>
<line x1="354.7" y1="196.9" x2="353.3" y2="180.1" stroke="#141a0e" stroke-opacity="0.59" stroke-width="0.71"/>
<line x1="351.9" y1="195.9" x2="349.9" y2="177.4" stroke="#141a0e" stroke-opacity="0.52" stroke-width="0.51"/>
<line x1="358.2" y1="200.9" x2="358.7" y2="173.2" stroke="#141a0e" stroke-opacity="0.35" stroke-width="0.61"/>
<line x1="358.1" y1="199.7" x2="356.7" y2="177.7" stroke="#141a0e" stroke-opacity="0.40" stroke-width="0.77"/>
<line x1="360.8" y1="198.9" x2="362.7" y2="180.4" stroke="#141a0e" stroke-opacity="0.40" stroke-width="0.72"/>
<line x1="360.8" y1="194.5" x2="360.4" y2="174.6" stroke="#b4c688" stroke-opacity="0.48" stroke-width="0.54"/>
<line x1="350.3" y1="194.5" x2="349.0" y2="171.0" stroke="#b4c688" stroke-opacity="0.80" stroke-width="0.44"/>
<line x1="365.0" y1="194.5" x2="366.5" y2="163.7" stroke="#b4c688" stroke-opacity="0.73" stroke-width="0.66"/>
<line x1="349.4" y1="194.5" x2="348.1" y2="173.6" stroke="#b4c688" stroke-opacity="0.64" stroke-width="0.56"/>
<line x1="353.9" y1="194.5" x2="350.3" y2="169.4" stroke="#b4c688" stroke-opacity="0.75" stroke-width="0.46"/>
<line x1="359.1" y1="194.5" x2="357.8" y2="172.3" stroke="#b4c688" stroke-opacity="0.78" stroke-width="0.67"/>
<line x1="354.5" y1="194.5" x2="352.5" y2="163.0" stroke="#b4c688" stroke-opacity="0.61" stroke-width="0.66"/>
<line x1="368.3" y1="194.5" x2="368.6" y2="168.9" stroke="#b4c688" stroke-opacity="0.43" stroke-width="0.53"/>
<line x1="370.0" y1="194.5" x2="371.6" y2="174.4" stroke="#b4c688" stroke-opacity="0.78" stroke-width="0.65"/>
<line x1="352.4" y1="194.5" x2="351.8" y2="175.5" stroke="#b4c688" stroke-opacity="0.80" stroke-width="0.40"/>
<line x1="347.5" y1="194.5" x2="343.0" y2="170.0" stroke="#b4c688" stroke-opacity="0.57" stroke-width="0.43"/>
<line x1="363.2" y1="194.5" x2="364.6" y2="171.5" stroke="#b4c688" stroke-opacity="0.60" stroke-width="0.56"/>
<rect x="339.0" y="162.0" width="41.0" height="18.0" fill="url(#gdark)"/>
<rect x="345.5" y="205.0" width="28.5" height="3" fill="#a09478" opacity="0.9"/>
<path d="M231.6,267.6 L225.2,226.6 L259.8,226.6 L256.6,267.6Z" fill="url(#cb5)"/>
<path d="M246.64,266.6 Q248.33,250.5 248.69,233.4 Q249.39,250.5 247.71,266.6Z" fill="url(#cg5)" fill-opacity="0.87"/>
<path d="M231.88,266.6 Q230.33,252.6 224.11,237.7 Q231.22,252.6 232.77,266.6Z" fill="url(#cg5)" fill-opacity="0.95"/>
<path d="M242.90,266.6 Q241.77,247.2 239.79,226.8 Q242.62,247.2 243.75,266.6Z" fill="url(#cg5)" fill-opacity="0.51"/>
<path d="M238.29,266.6 Q236.84,250.1 236.49,232.6 Q237.44,250.1 238.88,266.6Z" fill="url(#cg5)" fill-opacity="0.90"/>
<path d="M246.52,266.6 Q245.39,242.0 244.79,216.3 Q246.41,242.0 247.55,266.6Z" fill="url(#cg5)" fill-opacity="0.60"/>
<path d="M255.62,266.6 Q256.33,244.3 263.36,220.9 Q257.41,244.3 256.70,266.6Z" fill="url(#cg5)" fill-opacity="0.77"/>
<path d="M236.18,266.6 Q235.37,249.1 233.75,230.6 Q236.45,249.1 237.26,266.6Z" fill="url(#cg5)" fill-opacity="0.95"/>
<path d="M240.36,266.6 Q240.77,242.9 235.14,218.2 Q241.31,242.9 240.90,266.6Z" fill="url(#cg5)" fill-opacity="0.65"/>
<path d="M231.34,266.6 Q231.26,244.8 224.40,221.9 Q231.95,244.8 232.03,266.6Z" fill="url(#cg5)" fill-opacity="0.91"/>
<path d="M239.23,266.6 Q237.32,249.3 235.28,230.9 Q237.85,249.3 239.76,266.6Z" fill="url(#cg5)" fill-opacity="0.99"/>
<path d="M249.86,266.6 Q250.17,242.0 254.21,216.4 Q251.15,242.0 250.83,266.6Z" fill="url(#cg5)" fill-opacity="0.68"/>
<path d="M231.29,266.6 Q232.31,243.2 220.83,218.8 Q233.39,243.2 232.36,266.6Z" fill="url(#cg5)" fill-opacity="0.60"/>
<path d="M254.48,266.6 Q255.59,244.8 261.74,222.1 Q256.30,244.8 255.20,266.6Z" fill="url(#cg5)" fill-opacity="0.76"/>
<path d="M233.79,266.6 Q235.58,250.5 228.86,233.5 Q236.59,250.5 234.81,266.6Z" fill="url(#cg5)" fill-opacity="0.52"/>
<path d="M233.35,266.6 Q235.05,248.0 225.76,228.5 Q236.10,248.0 234.40,266.6Z" fill="url(#cg5)" fill-opacity="0.67"/>
<path d="M244.93,266.6 Q243.52,244.5 243.12,221.5 Q244.13,244.5 245.53,266.6Z" fill="url(#cg5)" fill-opacity="0.54"/>
<path d="M248.56,266.6 Q248.70,243.0 252.78,218.5 Q249.23,243.0 249.09,266.6Z" fill="url(#cg5)" fill-opacity="0.99"/>
<path d="M241.25,266.6 Q240.94,247.8 237.29,228.0 Q241.93,247.8 242.25,266.6Z" fill="url(#cg5)" fill-opacity="0.73"/>
<path d="M232.59,266.6 Q231.12,242.1 227.85,216.6 Q231.91,242.1 233.39,266.6Z" fill="url(#cg5)" fill-opacity="0.92"/>
<path d="M249.41,266.6 Q249.14,248.3 254.14,229.0 Q250.12,248.3 250.38,266.6Z" fill="url(#cg5)" fill-opacity="0.55"/>
<path d="M234.95,266.6 Q236.35,244.3 231.03,221.0 Q237.13,244.3 235.72,266.6Z" fill="url(#cg5)" fill-opacity="1.00"/>
<path d="M255.53,266.6 Q254.70,246.5 260.60,225.4 Q255.63,246.5 256.47,266.6Z" fill="url(#cg5)" fill-opacity="0.74"/>
<path d="M241.15,266.6 Q241.66,245.2 236.67,222.8 Q242.75,245.2 242.24,266.6Z" fill="url(#cg5)" fill-opacity="0.98"/>
<path d="M243.75,266.6 Q245.22,242.4 241.50,217.3 Q245.88,242.4 244.41,266.6Z" fill="url(#cg5)" fill-opacity="0.89"/>
<path d="M240.17,266.6 Q241.21,250.2 238.86,232.9 Q242.13,250.2 241.09,266.6Z" fill="url(#cg5)" fill-opacity="0.83"/>
<path d="M240.29,266.6 Q241.05,244.2 238.46,220.7 Q241.85,244.2 241.08,266.6Z" fill="url(#cg5)" fill-opacity="0.88"/>
<path d="M238.52,266.6 Q238.71,248.5 237.22,229.5 Q239.56,248.5 239.37,266.6Z" fill="url(#cg5)" fill-opacity="0.51"/>
<path d="M237.37,266.6 Q238.56,246.2 233.91,224.8 Q239.55,246.2 238.36,266.6Z" fill="url(#cg5)" fill-opacity="0.82"/>
<path d="M239.80,266.6 Q241.17,249.7 237.49,231.8 Q242.17,249.7 240.80,266.6Z" fill="url(#cg5)" fill-opacity="0.68"/>
<path d="M252.81,266.6 Q252.93,253.1 257.91,238.7 Q254.00,253.1 253.88,266.6Z" fill="url(#cg5)" fill-opacity="0.76"/>
<path d="M235.36,266.6 Q236.24,252.6 231.63,237.5 Q237.03,252.6 236.15,266.6Z" fill="url(#cg5)" fill-opacity="0.85"/>
<path d="M249.43,266.6 Q249.12,250.3 249.42,233.0 Q249.97,250.3 250.28,266.6Z" fill="url(#cg5)" fill-opacity="0.83"/>
<path d="M246.73,266.6 Q245.37,248.4 248.92,229.1 Q246.30,248.4 247.66,266.6Z" fill="url(#cg5)" fill-opacity="0.51"/>
<path d="M242.17,266.6 Q240.34,243.6 241.13,219.5 Q241.25,243.6 243.08,266.6Z" fill="url(#cg5)" fill-opacity="0.82"/>
<path d="M243.10,266.6 Q241.83,242.2 239.76,216.8 Q242.41,242.2 243.68,266.6Z" fill="url(#cg5)" fill-opacity="0.66"/>
<path d="M236.07,266.6 Q236.43,246.2 227.88,224.8 Q237.16,246.2 236.80,266.6Z" fill="url(#cg5)" fill-opacity="0.81"/>
<path d="M237.17,266.6 Q236.81,242.0 234.80,216.3 Q237.56,242.0 237.92,266.6Z" fill="url(#cg5)" fill-opacity="0.64"/>
<path d="M234.22,266.6 Q232.60,245.2 229.63,222.7 Q233.12,245.2 234.74,266.6Z" fill="url(#cg5)" fill-opacity="0.81"/>
<path d="M244.69,266.6 Q244.37,247.6 243.28,227.7 Q245.44,247.6 245.77,266.6Z" fill="url(#cg5)" fill-opacity="0.91"/>
<path d="M251.63,266.6 Q251.89,245.1 255.44,222.6 Q252.47,245.1 252.22,266.6Z" fill="url(#cg5)" fill-opacity="0.80"/>
<path d="M255.17,266.6 Q253.18,248.0 262.96,228.4 Q253.89,248.0 255.89,266.6Z" fill="url(#cg5)" fill-opacity="0.95"/>
<path d="M234.01,266.6 Q235.57,248.1 227.76,228.6 Q236.16,248.1 234.59,266.6Z" fill="url(#cg5)" fill-opacity="0.81"/>
<path d="M240.66,266.6 Q240.18,243.6 237.30,219.6 Q240.85,243.6 241.33,266.6Z" fill="url(#cg5)" fill-opacity="0.99"/>
<path d="M255.30,266.6 Q255.29,247.8 262.78,228.1 Q255.94,247.8 255.96,266.6Z" fill="url(#cg5)" fill-opacity="0.99"/>
<path d="M241.59,266.6 Q241.50,253.3 238.15,238.9 Q242.29,253.3 242.38,266.6Z" fill="url(#cg5)" fill-opacity="0.64"/>
<path d="M234.31,266.6 Q235.62,246.0 228.63,224.3 Q236.29,246.0 234.99,266.6Z" fill="url(#cg5)" fill-opacity="0.89"/>
<path d="M231.40,266.6 Q230.38,244.1 223.91,220.6 Q231.44,244.1 232.46,266.6Z" fill="url(#cg5)" fill-opacity="0.89"/>
<path d="M237.95,266.6 Q237.85,253.3 231.46,239.1 Q238.53,253.3 238.63,266.6Z" fill="url(#cg5)" fill-opacity="0.80"/>
<path d="M247.44,266.6 Q246.64,249.8 248.72,232.0 Q247.21,249.8 248.01,266.6Z" fill="url(#cg5)" fill-opacity="0.88"/>
<path d="M244.53,266.6 Q243.97,244.3 242.81,221.1 Q244.79,244.3 245.35,266.6Z" fill="url(#cg5)" fill-opacity="0.73"/>
<path d="M249.90,266.6 Q251.57,242.1 252.50,216.6 Q252.22,242.1 250.55,266.6Z" fill="url(#cg5)" fill-opacity="0.73"/>
<path d="M253.31,266.6 Q253.62,242.0 257.75,216.4 Q254.58,242.0 254.28,266.6Z" fill="url(#cg5)" fill-opacity="0.71"/>
<path d="M248.78,266.6 Q248.35,246.4 251.33,225.2 Q249.40,246.4 249.83,266.6Z" fill="url(#cg5)" fill-opacity="0.69"/>
<path d="M252.40,266.6 Q253.74,244.3 254.26,221.1 Q254.74,244.3 253.40,266.6Z" fill="url(#cg5)" fill-opacity="0.53"/>
<path d="M248.48,266.6 Q247.05,244.2 249.61,220.8 Q248.02,244.2 249.45,266.6Z" fill="url(#cg5)" fill-opacity="0.96"/>
<path d="M243.21,266.6 Q243.55,246.6 241.96,225.6 Q244.25,246.6 243.91,266.6Z" fill="url(#cg5)" fill-opacity="0.58"/>
<path d="M251.40,266.6 Q252.05,243.7 251.95,219.7 Q253.05,243.7 252.39,266.6Z" fill="url(#cg5)" fill-opacity="0.90"/>
<path d="M231.69,266.6 Q229.88,253.2 225.52,238.7 Q230.98,253.2 232.79,266.6Z" fill="url(#cg5)" fill-opacity="0.85"/>
<path d="M252.12,266.6 Q250.65,248.5 254.02,229.4 Q251.73,248.5 253.19,266.6Z" fill="url(#cg5)" fill-opacity="0.86"/>
<path d="M238.48,266.6 Q237.12,242.9 237.00,218.3 Q237.99,242.9 239.35,266.6Z" fill="url(#cg5)" fill-opacity="0.71"/>
<path d="M246.80,266.6 Q245.03,242.6 244.49,217.6 Q245.75,242.6 247.52,266.6Z" fill="url(#cg5)" fill-opacity="0.54"/>
<path d="M245.69,266.6 Q244.95,251.7 246.86,235.8 Q245.53,251.7 246.27,266.6Z" fill="url(#cg5)" fill-opacity="0.72"/>
<path d="M246.24,266.6 Q247.03,252.6 246.31,237.6 Q247.76,252.6 246.97,266.6Z" fill="url(#cg5)" fill-opacity="0.53"/>
<path d="M234.85,266.6 Q235.34,246.7 229.82,225.8 Q236.38,246.7 235.90,266.6Z" fill="url(#cg5)" fill-opacity="0.78"/>
<path d="M237.71,266.6 Q236.24,243.9 233.67,220.2 Q237.19,243.9 238.66,266.6Z" fill="url(#cg5)" fill-opacity="0.76"/>
<path d="M237.16,266.6 Q237.78,249.7 231.48,231.8 Q238.38,249.7 237.76,266.6Z" fill="url(#cg5)" fill-opacity="0.86"/>
<path d="M233.44,266.6 Q232.40,242.5 227.50,217.3 Q232.97,242.5 234.02,266.6Z" fill="url(#cg5)" fill-opacity="0.80"/>
<path d="M253.03,266.6 Q253.93,244.6 256.93,221.6 Q254.91,244.6 254.01,266.6Z" fill="url(#cg5)" fill-opacity="0.51"/>
<path d="M232.49,266.6 Q230.95,252.8 223.18,238.0 Q231.86,252.8 233.40,266.6Z" fill="url(#cg5)" fill-opacity="0.61"/>
<path d="M255.63,266.6 Q255.04,250.9 261.74,234.2 Q255.63,250.9 256.21,266.6Z" fill="url(#cg5)" fill-opacity="0.81"/>
<path d="M237.12,266.6 Q235.67,248.1 231.27,228.5 Q236.38,248.1 237.83,266.6Z" fill="url(#cg5)" fill-opacity="0.69"/>
<path d="M252.00,266.6 Q252.07,250.6 256.17,233.7 Q252.83,250.6 252.76,266.6Z" fill="url(#cg5)" fill-opacity="0.93"/>
<path d="M246.05,266.6 Q244.18,249.8 246.51,231.9 Q244.92,249.8 246.78,266.6Z" fill="url(#cg5)" fill-opacity="0.55"/>
<path d="M236.27,266.6 Q234.27,251.9 228.25,236.1 Q235.06,251.9 237.05,266.6Z" fill="url(#cg5)" fill-opacity="0.88"/>
<path d="M242.98,266.6 Q241.38,248.1 243.69,228.7 Q242.13,248.1 243.73,266.6Z" fill="url(#cg5)" fill-opacity="0.73"/>
<path d="M235.10,266.6 Q233.71,245.2 227.12,222.7 Q234.44,245.2 235.83,266.6Z" fill="url(#cg5)" fill-opacity="0.94"/>
<path d="M237.62,266.6 Q237.54,243.0 231.67,218.5 Q238.22,243.0 238.29,266.6Z" fill="url(#cg5)" fill-opacity="0.62"/>
<path d="M231.87,266.6 Q232.57,245.1 226.99,222.6 Q233.63,245.1 232.93,266.6Z" fill="url(#cg5)" fill-opacity="0.84"/>
<path d="M242.94,266.6 Q243.64,242.7 244.08,217.7 Q244.54,242.7 243.84,266.6Z" fill="url(#cg5)" fill-opacity="0.65"/>
<path d="M249.57,266.6 Q247.89,243.4 249.33,219.2 Q248.40,243.4 250.09,266.6Z" fill="url(#cg5)" fill-opacity="0.62"/>
<path d="M241.28,266.6 Q240.42,245.1 241.52,222.5 Q241.10,245.1 241.97,266.6Z" fill="url(#cg5)" fill-opacity="0.73"/>
<path d="M249.59,266.6 Q251.35,243.0 252.78,218.5 Q251.99,243.0 250.23,266.6Z" fill="url(#cg5)" fill-opacity="0.84"/>
<path d="M247.49,266.6 Q248.61,253.1 247.71,238.7 Q249.12,253.1 248.00,266.6Z" fill="url(#cg5)" fill-opacity="0.53"/>
<path d="M241.31,266.6 Q240.71,247.2 236.30,226.9 Q241.80,247.2 242.40,266.6Z" fill="url(#cg5)" fill-opacity="0.76"/>
<path d="M233.55,266.6 Q231.76,252.0 224.25,236.4 Q232.56,252.0 234.34,266.6Z" fill="url(#cg5)" fill-opacity="0.97"/>
<line x1="238.3" y1="259.3" x2="231.8" y2="230.6" stroke="#141a0e" stroke-opacity="0.38" stroke-width="0.66"/>
<line x1="239.7" y1="249.9" x2="234.0" y2="226.9" stroke="#141a0e" stroke-opacity="0.35" stroke-width="0.70"/>
<line x1="241.9" y1="256.7" x2="239.2" y2="227.4" stroke="#141a0e" stroke-opacity="0.33" stroke-width="0.72"/>
<line x1="253.6" y1="257.7" x2="257.5" y2="235.4" stroke="#141a0e" stroke-opacity="0.31" stroke-width="0.72"/>
<line x1="243.8" y1="253.5" x2="242.3" y2="230.4" stroke="#141a0e" stroke-opacity="0.52" stroke-width="0.87"/>
<line x1="239.8" y1="257.6" x2="235.6" y2="235.0" stroke="#141a0e" stroke-opacity="0.33" stroke-width="0.62"/>
<line x1="234.8" y1="256.7" x2="229.3" y2="235.0" stroke="#141a0e" stroke-opacity="0.34" stroke-width="0.53"/>
<line x1="238.4" y1="254.0" x2="232.0" y2="231.0" stroke="#141a0e" stroke-opacity="0.37" stroke-width="0.52"/>
<line x1="248.6" y1="257.0" x2="247.7" y2="228.6" stroke="#141a0e" stroke-opacity="0.41" stroke-width="0.54"/>
<line x1="242.3" y1="254.2" x2="239.0" y2="234.3" stroke="#141a0e" stroke-opacity="0.57" stroke-width="0.76"/>
<line x1="249.9" y1="251.5" x2="251.8" y2="231.1" stroke="#141a0e" stroke-opacity="0.50" stroke-width="0.88"/>
<line x1="249.2" y1="251.6" x2="251.2" y2="229.3" stroke="#141a0e" stroke-opacity="0.41" stroke-width="0.55"/>
<line x1="234.3" y1="253.0" x2="226.1" y2="229.3" stroke="#141a0e" stroke-opacity="0.39" stroke-width="0.53"/>
<line x1="250.0" y1="259.4" x2="251.9" y2="226.8" stroke="#141a0e" stroke-opacity="0.34" stroke-width="0.64"/>
<line x1="252.2" y1="257.5" x2="256.8" y2="232.8" stroke="#141a0e" stroke-opacity="0.43" stroke-width="0.64"/>
<line x1="240.3" y1="251.4" x2="234.7" y2="232.6" stroke="#141a0e" stroke-opacity="0.52" stroke-width="0.54"/>
<line x1="244.8" y1="255.3" x2="242.2" y2="233.8" stroke="#141a0e" stroke-opacity="0.58" stroke-width="0.82"/>
<line x1="235.5" y1="255.2" x2="228.5" y2="235.9" stroke="#141a0e" stroke-opacity="0.43" stroke-width="0.68"/>
<line x1="250.1" y1="252.2" x2="253.5" y2="224.5" stroke="#b4c688" stroke-opacity="0.79" stroke-width="0.58"/>
<line x1="235.2" y1="252.2" x2="230.0" y2="222.8" stroke="#b4c688" stroke-opacity="0.42" stroke-width="0.69"/>
<line x1="233.6" y1="252.2" x2="226.6" y2="223.7" stroke="#b4c688" stroke-opacity="0.75" stroke-width="0.52"/>
<line x1="237.7" y1="252.2" x2="231.7" y2="219.4" stroke="#b4c688" stroke-opacity="0.62" stroke-width="0.51"/>
<line x1="249.7" y1="252.2" x2="250.2" y2="221.7" stroke="#b4c688" stroke-opacity="0.50" stroke-width="0.69"/>
<line x1="251.8" y1="252.2" x2="255.7" y2="225.8" stroke="#b4c688" stroke-opacity="0.56" stroke-width="0.44"/>
<line x1="251.6" y1="252.2" x2="254.0" y2="216.9" stroke="#b4c688" stroke-opacity="0.47" stroke-width="0.43"/>
<line x1="249.0" y1="252.2" x2="251.7" y2="219.4" stroke="#b4c688" stroke-opacity="0.72" stroke-width="0.50"/>
<line x1="248.2" y1="252.2" x2="250.3" y2="225.9" stroke="#b4c688" stroke-opacity="0.72" stroke-width="0.51"/>
<line x1="233.1" y1="252.2" x2="225.5" y2="225.3" stroke="#b4c688" stroke-opacity="0.47" stroke-width="0.52"/>
<line x1="240.0" y1="252.2" x2="234.3" y2="221.1" stroke="#b4c688" stroke-opacity="0.55" stroke-width="0.54"/>
<line x1="248.7" y1="252.2" x2="249.2" y2="231.4" stroke="#b4c688" stroke-opacity="0.73" stroke-width="0.68"/>
<rect x="220.2" y="215.3" width="44.6" height="20.5" fill="url(#gdark)"/>
<rect x="231.1" y="264.6" width="26.0" height="3" fill="#d8d8b4" opacity="0.9"/>
<path d="M269.0,268.5 L268.0,226.9 L298.0,226.9 L296.3,268.5Z" fill="url(#cb6)"/>
<path d="M290.33,267.5 Q290.98,247.1 294.91,225.6 Q291.64,247.1 290.99,267.5Z" fill="url(#cg6)" fill-opacity="0.50"/>
<path d="M281.36,267.5 Q282.56,245.7 283.55,223.0 Q283.53,245.7 282.32,267.5Z" fill="url(#cg6)" fill-opacity="0.64"/>
<path d="M288.47,267.5 Q288.68,247.7 290.30,227.0 Q289.59,247.7 289.38,267.5Z" fill="url(#cg6)" fill-opacity="0.60"/>
<path d="M290.52,267.5 Q289.87,251.3 291.97,234.1 Q290.78,251.3 291.44,267.5Z" fill="url(#cg6)" fill-opacity="0.92"/>
<path d="M271.16,267.5 Q269.95,251.3 270.97,234.1 Q270.71,251.3 271.93,267.5Z" fill="url(#cg6)" fill-opacity="0.55"/>
<path d="M285.91,267.5 Q286.53,253.5 286.33,238.4 Q287.38,253.5 286.76,267.5Z" fill="url(#cg6)" fill-opacity="0.60"/>
<path d="M278.43,267.5 Q279.23,252.8 280.85,237.2 Q280.03,252.8 279.24,267.5Z" fill="url(#cg6)" fill-opacity="0.82"/>
<path d="M290.63,267.5 Q289.85,242.6 296.25,216.7 Q290.57,242.6 291.35,267.5Z" fill="url(#cg6)" fill-opacity="0.80"/>
<path d="M284.68,267.5 Q285.33,252.4 283.57,236.3 Q286.14,252.4 285.49,267.5Z" fill="url(#cg6)" fill-opacity="0.56"/>
<path d="M277.23,267.5 Q278.70,247.1 274.79,225.6 Q279.28,247.1 277.82,267.5Z" fill="url(#cg6)" fill-opacity="0.60"/>
<path d="M287.81,267.5 Q289.42,250.9 286.81,233.4 Q289.93,250.9 288.32,267.5Z" fill="url(#cg6)" fill-opacity="0.67"/>
<path d="M285.57,267.5 Q287.57,245.8 285.93,223.1 Q288.30,245.8 286.30,267.5Z" fill="url(#cg6)" fill-opacity="0.56"/>
<path d="M270.10,267.5 Q269.08,250.5 267.37,232.5 Q269.82,250.5 270.84,267.5Z" fill="url(#cg6)" fill-opacity="0.99"/>
<path d="M295.22,267.5 Q296.54,249.5 301.65,230.4 Q297.58,249.5 296.25,267.5Z" fill="url(#cg6)" fill-opacity="0.72"/>
<path d="M290.27,267.5 Q288.62,246.9 293.17,225.3 Q289.54,246.9 291.20,267.5Z" fill="url(#cg6)" fill-opacity="0.70"/>
<path d="M288.89,267.5 Q286.98,247.1 289.98,225.7 Q287.95,247.1 289.87,267.5Z" fill="url(#cg6)" fill-opacity="0.59"/>
<path d="M272.04,267.5 Q273.75,245.6 270.74,222.7 Q274.41,245.6 272.70,267.5Z" fill="url(#cg6)" fill-opacity="0.73"/>
<path d="M275.52,267.5 Q275.42,252.4 274.13,236.3 Q276.29,252.4 276.39,267.5Z" fill="url(#cg6)" fill-opacity="0.63"/>
<path d="M281.72,267.5 Q281.02,245.8 280.12,223.1 Q281.70,245.8 282.41,267.5Z" fill="url(#cg6)" fill-opacity="0.90"/>
<path d="M286.63,267.5 Q285.91,253.0 291.24,237.6 Q286.64,253.0 287.36,267.5Z" fill="url(#cg6)" fill-opacity="0.80"/>
<path d="M279.34,267.5 Q277.37,251.2 279.47,233.8 Q278.43,251.2 280.40,267.5Z" fill="url(#cg6)" fill-opacity="0.65"/>
<path d="M280.79,267.5 Q281.66,242.6 278.62,216.7 Q282.62,242.6 281.75,267.5Z" fill="url(#cg6)" fill-opacity="0.56"/>
<path d="M278.61,267.5 Q280.40,252.0 280.94,235.5 Q280.94,252.0 279.15,267.5Z" fill="url(#cg6)" fill-opacity="0.60"/>
<path d="M285.25,267.5 Q285.13,251.0 286.39,233.5 Q286.12,251.0 286.24,267.5Z" fill="url(#cg6)" fill-opacity="0.75"/>
<path d="M271.30,267.5 Q269.87,243.5 268.58,218.4 Q270.75,243.5 272.17,267.5Z" fill="url(#cg6)" fill-opacity="0.80"/>
<path d="M285.70,267.5 Q287.30,243.1 284.94,217.8 Q288.19,243.1 286.59,267.5Z" fill="url(#cg6)" fill-opacity="0.73"/>
<path d="M285.68,267.5 Q286.15,243.3 288.60,218.1 Q287.15,243.3 286.68,267.5Z" fill="url(#cg6)" fill-opacity="0.54"/>
<path d="M293.50,267.5 Q294.66,252.6 299.43,236.7 Q295.43,252.6 294.27,267.5Z" fill="url(#cg6)" fill-opacity="0.85"/>
<path d="M272.36,267.5 Q272.15,252.8 273.32,237.2 Q272.91,252.8 273.12,267.5Z" fill="url(#cg6)" fill-opacity="0.89"/>
<path d="M276.06,267.5 Q275.20,242.8 276.67,217.2 Q276.18,242.8 277.04,267.5Z" fill="url(#cg6)" fill-opacity="0.99"/>
<path d="M294.32,267.5 Q294.04,252.1 295.45,235.7 Q294.71,252.1 294.99,267.5Z" fill="url(#cg6)" fill-opacity="0.98"/>
<path d="M293.68,267.5 Q293.82,243.0 294.55,217.5 Q294.81,243.0 294.67,267.5Z" fill="url(#cg6)" fill-opacity="0.82"/>
<path d="M269.63,267.5 Q270.69,245.7 265.15,222.9 Q271.22,245.7 270.16,267.5Z" fill="url(#cg6)" fill-opacity="1.00"/>
<path d="M294.66,267.5 Q293.11,245.4 299.50,222.3 Q293.66,245.4 295.20,267.5Z" fill="url(#cg6)" fill-opacity="0.87"/>
<path d="M283.66,267.5 Q283.75,247.2 284.39,225.9 Q284.29,247.2 284.21,267.5Z" fill="url(#cg6)" fill-opacity="0.54"/>
<path d="M269.50,267.5 Q269.77,243.5 267.19,218.5 Q270.44,243.5 270.17,267.5Z" fill="url(#cg6)" fill-opacity="0.58"/>
<path d="M279.18,267.5 Q278.86,244.1 277.54,219.8 Q279.70,244.1 280.02,267.5Z" fill="url(#cg6)" fill-opacity="0.96"/>
<path d="M273.03,267.5 Q273.31,244.3 270.45,220.2 Q274.15,244.3 273.88,267.5Z" fill="url(#cg6)" fill-opacity="0.89"/>
<path d="M273.75,267.5 Q275.74,245.8 271.35,223.2 Q276.51,245.8 274.52,267.5Z" fill="url(#cg6)" fill-opacity="0.70"/>
<path d="M283.60,267.5 Q283.09,250.1 285.71,231.7 Q283.98,250.1 284.49,267.5Z" fill="url(#cg6)" fill-opacity="0.90"/>
<path d="M286.76,267.5 Q285.00,243.6 291.50,218.7 Q285.88,243.6 287.63,267.5Z" fill="url(#cg6)" fill-opacity="0.69"/>
<path d="M269.63,267.5 Q269.10,243.2 268.91,217.9 Q270.02,243.2 270.55,267.5Z" fill="url(#cg6)" fill-opacity="0.55"/>
<path d="M269.56,267.5 Q271.25,251.1 267.35,233.6 Q271.89,251.1 270.20,267.5Z" fill="url(#cg6)" fill-opacity="0.78"/>
<path d="M276.50,267.5 Q277.15,250.2 275.81,231.9 Q278.17,250.2 277.52,267.5Z" fill="url(#cg6)" fill-opacity="0.58"/>
<path d="M272.01,267.5 Q273.01,253.9 267.76,239.4 Q273.54,253.9 272.54,267.5Z" fill="url(#cg6)" fill-opacity="0.96"/>
<path d="M287.12,267.5 Q285.93,249.2 290.36,229.9 Q286.60,249.2 287.79,267.5Z" fill="url(#cg6)" fill-opacity="0.72"/>
<path d="M292.14,267.5 Q291.16,251.1 296.89,233.7 Q291.79,251.1 292.77,267.5Z" fill="url(#cg6)" fill-opacity="0.80"/>
<path d="M290.12,267.5 Q291.23,254.1 294.35,239.8 Q292.15,254.1 291.04,267.5Z" fill="url(#cg6)" fill-opacity="0.84"/>
<path d="M271.20,267.5 Q272.99,242.6 269.76,216.8 Q273.71,242.6 271.92,267.5Z" fill="url(#cg6)" fill-opacity="0.56"/>
<path d="M269.38,267.5 Q267.59,253.4 269.48,238.3 Q268.35,253.4 270.15,267.5Z" fill="url(#cg6)" fill-opacity="0.92"/>
<path d="M272.55,267.5 Q270.90,242.9 267.80,217.2 Q271.41,242.9 273.06,267.5Z" fill="url(#cg6)" fill-opacity="0.91"/>
<path d="M284.75,267.5 Q286.66,243.3 284.72,218.2 Q287.41,243.3 285.50,267.5Z" fill="url(#cg6)" fill-opacity="0.59"/>
<path d="M279.04,267.5 Q278.12,248.1 279.62,227.6 Q279.00,248.1 279.92,267.5Z" fill="url(#cg6)" fill-opacity="0.74"/>
<path d="M272.35,267.5 Q272.65,243.9 272.98,219.2 Q273.42,243.9 273.12,267.5Z" fill="url(#cg6)" fill-opacity="0.90"/>
<path d="M294.60,267.5 Q294.49,247.4 300.09,226.3 Q295.06,247.4 295.17,267.5Z" fill="url(#cg6)" fill-opacity="0.80"/>
<path d="M292.03,267.5 Q293.40,249.8 295.48,231.1 Q294.39,249.8 293.02,267.5Z" fill="url(#cg6)" fill-opacity="0.74"/>
<path d="M293.04,267.5 Q292.39,253.0 294.50,237.5 Q293.41,253.0 294.06,267.5Z" fill="url(#cg6)" fill-opacity="0.93"/>
<path d="M275.37,267.5 Q273.39,245.7 272.36,222.9 Q274.40,245.7 276.38,267.5Z" fill="url(#cg6)" fill-opacity="0.68"/>
<path d="M276.84,267.5 Q275.20,248.8 273.86,229.1 Q276.16,248.8 277.80,267.5Z" fill="url(#cg6)" fill-opacity="0.96"/>
<path d="M278.88,267.5 Q280.70,252.9 276.69,237.2 Q281.70,252.9 279.89,267.5Z" fill="url(#cg6)" fill-opacity="0.76"/>
<path d="M282.84,267.5 Q284.21,247.1 285.35,225.7 Q284.93,247.1 283.56,267.5Z" fill="url(#cg6)" fill-opacity="1.00"/>
<path d="M284.66,267.5 Q283.19,249.2 288.32,229.9 Q284.17,249.2 285.64,267.5Z" fill="url(#cg6)" fill-opacity="0.53"/>
<path d="M271.69,267.5 Q270.14,250.1 270.34,231.8 Q270.74,250.1 272.28,267.5Z" fill="url(#cg6)" fill-opacity="0.75"/>
<path d="M287.23,267.5 Q285.73,243.0 291.05,217.5 Q286.81,243.0 288.31,267.5Z" fill="url(#cg6)" fill-opacity="0.83"/>
<path d="M278.06,267.5 Q276.79,250.2 275.88,232.0 Q277.84,250.2 279.11,267.5Z" fill="url(#cg6)" fill-opacity="0.59"/>
<path d="M285.78,267.5 Q286.24,250.4 289.54,232.3 Q287.01,250.4 286.56,267.5Z" fill="url(#cg6)" fill-opacity="0.56"/>
<path d="M280.97,267.5 Q281.47,248.2 283.31,227.8 Q282.41,248.2 281.91,267.5Z" fill="url(#cg6)" fill-opacity="0.99"/>
<path d="M293.37,267.5 Q295.35,242.5 295.64,216.5 Q296.38,242.5 294.40,267.5Z" fill="url(#cg6)" fill-opacity="0.51"/>
<path d="M280.98,267.5 Q281.47,244.7 278.86,220.9 Q282.40,244.7 281.91,267.5Z" fill="url(#cg6)" fill-opacity="0.69"/>
<path d="M271.28,267.5 Q271.95,245.7 271.48,223.0 Q272.95,245.7 272.28,267.5Z" fill="url(#cg6)" fill-opacity="0.57"/>
<path d="M281.39,267.5 Q279.81,242.6 281.37,216.6 Q280.63,242.6 282.21,267.5Z" fill="url(#cg6)" fill-opacity="0.92"/>
<path d="M280.63,267.5 Q280.55,254.1 278.23,239.7 Q281.63,254.1 281.71,267.5Z" fill="url(#cg6)" fill-opacity="0.84"/>
<path d="M270.43,267.5 Q271.88,249.9 266.12,231.4 Q272.86,249.9 271.41,267.5Z" fill="url(#cg6)" fill-opacity="0.99"/>
<path d="M280.60,267.5 Q282.14,247.8 279.42,227.0 Q282.85,247.8 281.31,267.5Z" fill="url(#cg6)" fill-opacity="0.77"/>
<path d="M281.10,267.5 Q281.75,250.1 284.29,231.7 Q282.28,250.1 281.63,267.5Z" fill="url(#cg6)" fill-opacity="0.87"/>
<path d="M285.58,267.5 Q284.26,252.4 284.17,236.3 Q285.06,252.4 286.38,267.5Z" fill="url(#cg6)" fill-opacity="0.77"/>
<path d="M269.63,267.5 Q267.86,244.0 264.29,219.6 Q268.54,244.0 270.31,267.5Z" fill="url(#cg6)" fill-opacity="0.58"/>
<path d="M288.54,267.5 Q288.92,252.4 291.95,236.4 Q289.55,252.4 289.17,267.5Z" fill="url(#cg6)" fill-opacity="0.86"/>
<path d="M271.15,267.5 Q272.85,245.6 271.31,222.6 Q273.46,245.6 271.77,267.5Z" fill="url(#cg6)" fill-opacity="0.59"/>
<path d="M274.67,267.5 Q273.02,247.8 272.81,227.2 Q273.74,247.8 275.38,267.5Z" fill="url(#cg6)" fill-opacity="0.83"/>
<path d="M280.30,267.5 Q280.86,248.8 281.12,229.0 Q281.72,248.8 281.17,267.5Z" fill="url(#cg6)" fill-opacity="0.63"/>
<path d="M295.04,267.5 Q294.10,249.1 298.95,229.7 Q295.10,249.1 296.04,267.5Z" fill="url(#cg6)" fill-opacity="0.63"/>
<path d="M295.13,267.5 Q295.31,246.4 297.79,224.2 Q296.03,246.4 295.85,267.5Z" fill="url(#cg6)" fill-opacity="1.00"/>
<path d="M293.02,267.5 Q293.67,244.7 294.44,220.9 Q294.56,244.7 293.91,267.5Z" fill="url(#cg6)" fill-opacity="0.66"/>
<path d="M282.48,267.5 Q281.19,243.2 280.73,217.9 Q281.95,243.2 283.24,267.5Z" fill="url(#cg6)" fill-opacity="0.77"/>
<line x1="276.8" y1="257.5" x2="273.8" y2="229.7" stroke="#141a0e" stroke-opacity="0.42" stroke-width="0.74"/>
<line x1="291.3" y1="257.8" x2="294.7" y2="234.6" stroke="#141a0e" stroke-opacity="0.45" stroke-width="0.79"/>
<line x1="292.3" y1="260.2" x2="294.0" y2="227.1" stroke="#141a0e" stroke-opacity="0.45" stroke-width="0.85"/>
<line x1="274.1" y1="251.7" x2="273.5" y2="233.6" stroke="#141a0e" stroke-opacity="0.57" stroke-width="0.54"/>
<line x1="289.9" y1="256.6" x2="290.5" y2="228.1" stroke="#141a0e" stroke-opacity="0.45" stroke-width="0.53"/>
<line x1="277.1" y1="259.7" x2="274.8" y2="228.3" stroke="#141a0e" stroke-opacity="0.31" stroke-width="0.59"/>
<line x1="278.4" y1="254.3" x2="277.4" y2="234.1" stroke="#141a0e" stroke-opacity="0.45" stroke-width="0.63"/>
<line x1="285.5" y1="259.5" x2="285.3" y2="228.7" stroke="#141a0e" stroke-opacity="0.50" stroke-width="0.56"/>
<line x1="275.8" y1="254.0" x2="273.9" y2="232.8" stroke="#141a0e" stroke-opacity="0.48" stroke-width="0.74"/>
<line x1="275.1" y1="256.5" x2="275.2" y2="234.6" stroke="#141a0e" stroke-opacity="0.42" stroke-width="0.73"/>
<line x1="273.3" y1="256.9" x2="271.9" y2="236.3" stroke="#141a0e" stroke-opacity="0.45" stroke-width="0.60"/>
<line x1="292.7" y1="253.3" x2="295.0" y2="230.7" stroke="#141a0e" stroke-opacity="0.41" stroke-width="0.86"/>
<line x1="280.5" y1="254.6" x2="280.6" y2="230.1" stroke="#141a0e" stroke-opacity="0.44" stroke-width="0.54"/>
<line x1="292.2" y1="253.7" x2="293.5" y2="232.9" stroke="#141a0e" stroke-opacity="0.44" stroke-width="0.63"/>
<line x1="281.5" y1="251.5" x2="283.6" y2="227.0" stroke="#141a0e" stroke-opacity="0.48" stroke-width="0.69"/>
<line x1="286.0" y1="250.5" x2="287.8" y2="235.5" stroke="#141a0e" stroke-opacity="0.45" stroke-width="0.64"/>
<line x1="279.3" y1="260.0" x2="280.4" y2="231.9" stroke="#141a0e" stroke-opacity="0.48" stroke-width="0.55"/>
<line x1="278.9" y1="255.1" x2="278.9" y2="233.3" stroke="#141a0e" stroke-opacity="0.55" stroke-width="0.74"/>
<line x1="294.2" y1="252.9" x2="298.6" y2="220.6" stroke="#b4c688" stroke-opacity="0.71" stroke-width="0.51"/>
<line x1="293.6" y1="252.9" x2="297.1" y2="223.0" stroke="#b4c688" stroke-opacity="0.47" stroke-width="0.65"/>
<line x1="279.0" y1="252.9" x2="276.6" y2="229.0" stroke="#b4c688" stroke-opacity="0.40" stroke-width="0.41"/>
<line x1="271.1" y1="252.9" x2="269.2" y2="225.3" stroke="#b4c688" stroke-opacity="0.59" stroke-width="0.68"/>
<line x1="281.9" y1="252.9" x2="280.9" y2="232.0" stroke="#b4c688" stroke-opacity="0.44" stroke-width="0.41"/>
<line x1="275.8" y1="252.9" x2="276.4" y2="223.0" stroke="#b4c688" stroke-opacity="0.54" stroke-width="0.51"/>
<line x1="279.5" y1="252.9" x2="280.1" y2="226.5" stroke="#b4c688" stroke-opacity="0.51" stroke-width="0.46"/>
<line x1="290.4" y1="252.9" x2="292.9" y2="224.3" stroke="#b4c688" stroke-opacity="0.48" stroke-width="0.69"/>
<line x1="283.4" y1="252.9" x2="285.5" y2="227.0" stroke="#b4c688" stroke-opacity="0.66" stroke-width="0.41"/>
<line x1="292.8" y1="252.9" x2="297.1" y2="217.7" stroke="#b4c688" stroke-opacity="0.43" stroke-width="0.60"/>
<line x1="286.8" y1="252.9" x2="286.9" y2="232.0" stroke="#b4c688" stroke-opacity="0.44" stroke-width="0.57"/>
<line x1="282.2" y1="252.9" x2="281.8" y2="226.9" stroke="#b4c688" stroke-opacity="0.58" stroke-width="0.63"/>
<rect x="263.0" y="215.5" width="40.0" height="20.8" fill="url(#gdark)"/>
<rect x="268.5" y="265.5" width="28.3" height="3" fill="#d8d8b4" opacity="0.9"/>
<path d="M307.0,268.0 L304.0,231.0 L335.4,231.0 L334.0,268.0Z" fill="url(#cb7)"/>
<path d="M315.47,267.0 Q314.93,250.8 311.37,233.7 Q315.48,250.8 316.02,267.0Z" fill="url(#cg7)" fill-opacity="0.77"/>
<path d="M308.19,267.0 Q306.55,245.0 304.10,222.1 Q307.31,245.0 308.95,267.0Z" fill="url(#cg7)" fill-opacity="0.53"/>
<path d="M318.15,267.0 Q319.94,245.6 318.99,223.2 Q320.57,245.6 318.78,267.0Z" fill="url(#cg7)" fill-opacity="0.81"/>
<path d="M322.32,267.0 Q321.48,255.0 321.81,242.0 Q322.00,255.0 322.85,267.0Z" fill="url(#cg7)" fill-opacity="0.93"/>
<path d="M310.40,267.0 Q310.73,247.2 304.81,226.3 Q311.72,247.2 311.39,267.0Z" fill="url(#cg7)" fill-opacity="0.59"/>
<path d="M323.98,267.0 Q322.81,249.7 323.85,231.3 Q323.34,249.7 324.52,267.0Z" fill="url(#cg7)" fill-opacity="0.53"/>
<path d="M324.95,267.0 Q324.14,247.2 325.65,226.4 Q325.00,247.2 325.80,267.0Z" fill="url(#cg7)" fill-opacity="0.73"/>
<path d="M328.03,267.0 Q329.53,246.6 331.32,225.1 Q330.37,246.6 328.87,267.0Z" fill="url(#cg7)" fill-opacity="0.76"/>
<path d="M326.41,267.0 Q327.44,255.0 326.55,242.1 Q328.01,255.0 326.98,267.0Z" fill="url(#cg7)" fill-opacity="0.71"/>
<path d="M310.65,267.0 Q310.95,245.1 307.31,222.1 Q311.85,245.1 311.55,267.0Z" fill="url(#cg7)" fill-opacity="0.88"/>
<path d="M330.21,267.0 Q330.03,251.4 331.87,234.8 Q330.89,251.4 331.07,267.0Z" fill="url(#cg7)" fill-opacity="0.79"/>
<path d="M329.23,267.0 Q330.04,248.8 334.40,229.7 Q330.93,248.8 330.13,267.0Z" fill="url(#cg7)" fill-opacity="0.53"/>
<path d="M324.14,267.0 Q324.81,253.0 327.87,237.9 Q325.48,253.0 324.81,267.0Z" fill="url(#cg7)" fill-opacity="0.69"/>
<path d="M307.32,267.0 Q308.40,245.9 302.57,223.8 Q308.97,245.9 307.89,267.0Z" fill="url(#cg7)" fill-opacity="0.53"/>
<path d="M309.98,267.0 Q309.78,248.0 305.06,227.9 Q310.80,248.0 311.00,267.0Z" fill="url(#cg7)" fill-opacity="0.54"/>
<path d="M321.33,267.0 Q320.99,252.9 323.75,237.8 Q322.01,252.9 322.34,267.0Z" fill="url(#cg7)" fill-opacity="0.64"/>
<path d="M316.39,267.0 Q315.32,254.7 317.01,241.5 Q315.91,254.7 316.98,267.0Z" fill="url(#cg7)" fill-opacity="0.59"/>
<path d="M312.97,267.0 Q312.65,250.1 310.17,232.3 Q313.30,250.1 313.63,267.0Z" fill="url(#cg7)" fill-opacity="0.50"/>
<path d="M316.51,267.0 Q316.98,254.7 315.47,241.3 Q317.90,254.7 317.43,267.0Z" fill="url(#cg7)" fill-opacity="0.76"/>
<path d="M324.77,267.0 Q325.96,254.0 323.26,239.9 Q326.93,254.0 325.74,267.0Z" fill="url(#cg7)" fill-opacity="0.94"/>
<path d="M317.15,267.0 Q315.42,245.4 315.28,222.9 Q316.30,245.4 318.03,267.0Z" fill="url(#cg7)" fill-opacity="0.53"/>
<path d="M312.37,267.0 Q310.98,247.5 307.36,226.9 Q311.51,247.5 312.90,267.0Z" fill="url(#cg7)" fill-opacity="0.50"/>
<path d="M309.23,267.0 Q307.82,245.0 304.77,222.0 Q308.85,245.0 310.25,267.0Z" fill="url(#cg7)" fill-opacity="0.81"/>
<path d="M313.52,267.0 Q315.50,247.7 310.01,227.4 Q316.07,247.7 314.10,267.0Z" fill="url(#cg7)" fill-opacity="0.92"/>
<path d="M319.30,267.0 Q318.36,245.3 318.40,222.7 Q318.92,245.3 319.86,267.0Z" fill="url(#cg7)" fill-opacity="0.67"/>
<path d="M328.84,267.0 Q327.43,245.0 329.31,222.0 Q328.50,245.0 329.91,267.0Z" fill="url(#cg7)" fill-opacity="0.76"/>
<path d="M321.12,267.0 Q321.91,249.4 318.39,230.9 Q322.99,249.4 322.21,267.0Z" fill="url(#cg7)" fill-opacity="0.93"/>
<path d="M313.57,267.0 Q314.68,245.9 310.44,223.8 Q315.65,245.9 314.53,267.0Z" fill="url(#cg7)" fill-opacity="0.77"/>
<path d="M315.36,267.0 Q316.58,252.8 312.01,237.6 Q317.67,252.8 316.45,267.0Z" fill="url(#cg7)" fill-opacity="0.93"/>
<path d="M328.69,267.0 Q326.81,246.4 332.41,224.8 Q327.62,246.4 329.50,267.0Z" fill="url(#cg7)" fill-opacity="0.68"/>
<path d="M307.30,267.0 Q307.09,246.7 301.67,225.4 Q308.00,246.7 308.21,267.0Z" fill="url(#cg7)" fill-opacity="0.98"/>
<path d="M331.94,267.0 Q330.85,254.7 338.10,241.4 Q331.57,254.7 332.66,267.0Z" fill="url(#cg7)" fill-opacity="0.61"/>
<path d="M311.79,267.0 Q311.71,250.5 307.19,233.1 Q312.75,250.5 312.83,267.0Z" fill="url(#cg7)" fill-opacity="0.92"/>
<path d="M324.18,267.0 Q325.31,245.3 326.91,222.6 Q326.21,245.3 325.08,267.0Z" fill="url(#cg7)" fill-opacity="0.95"/>
<path d="M326.77,267.0 Q327.97,246.0 328.42,224.0 Q328.94,246.0 327.74,267.0Z" fill="url(#cg7)" fill-opacity="0.67"/>
<path d="M332.70,267.0 Q331.38,248.1 335.77,228.1 Q332.45,248.1 333.77,267.0Z" fill="url(#cg7)" fill-opacity="0.86"/>
<path d="M309.94,267.0 Q311.24,254.0 304.40,240.1 Q312.23,254.0 310.92,267.0Z" fill="url(#cg7)" fill-opacity="0.57"/>
<path d="M333.05,267.0 Q331.11,247.6 337.65,227.1 Q331.94,247.6 333.88,267.0Z" fill="url(#cg7)" fill-opacity="0.57"/>
<path d="M332.68,267.0 Q334.17,249.4 337.27,230.8 Q335.23,249.4 333.74,267.0Z" fill="url(#cg7)" fill-opacity="0.72"/>
<path d="M328.97,267.0 Q329.31,246.6 329.51,225.3 Q329.99,246.6 329.64,267.0Z" fill="url(#cg7)" fill-opacity="0.62"/>
<path d="M313.48,267.0 Q313.31,245.6 310.70,223.3 Q314.36,245.6 314.53,267.0Z" fill="url(#cg7)" fill-opacity="0.68"/>
<path d="M322.23,267.0 Q322.35,248.3 325.08,228.5 Q323.40,248.3 323.28,267.0Z" fill="url(#cg7)" fill-opacity="0.75"/>
<path d="M320.83,267.0 Q322.03,248.5 317.64,229.0 Q322.64,248.5 321.44,267.0Z" fill="url(#cg7)" fill-opacity="0.50"/>
<path d="M311.24,267.0 Q311.31,251.7 307.94,235.5 Q312.14,251.7 312.07,267.0Z" fill="url(#cg7)" fill-opacity="0.66"/>
<path d="M321.58,267.0 Q320.69,245.5 323.37,222.9 Q321.52,245.5 322.42,267.0Z" fill="url(#cg7)" fill-opacity="0.62"/>
<path d="M327.37,267.0 Q327.15,249.8 329.38,231.6 Q328.10,249.8 328.33,267.0Z" fill="url(#cg7)" fill-opacity="0.96"/>
<path d="M323.08,267.0 Q323.21,249.3 323.72,230.5 Q324.13,249.3 324.00,267.0Z" fill="url(#cg7)" fill-opacity="0.73"/>
<path d="M319.39,267.0 Q318.43,251.4 321.57,234.9 Q319.46,251.4 320.42,267.0Z" fill="url(#cg7)" fill-opacity="0.97"/>
<path d="M321.82,267.0 Q321.58,253.2 324.47,238.4 Q322.17,253.2 322.40,267.0Z" fill="url(#cg7)" fill-opacity="0.56"/>
<path d="M308.51,267.0 Q310.10,245.2 303.01,222.5 Q311.00,245.2 309.41,267.0Z" fill="url(#cg7)" fill-opacity="0.89"/>
<path d="M310.88,267.0 Q312.75,251.0 308.76,233.9 Q313.33,251.0 311.46,267.0Z" fill="url(#cg7)" fill-opacity="0.94"/>
<path d="M312.53,267.0 Q313.86,248.0 312.49,228.1 Q314.65,248.0 313.33,267.0Z" fill="url(#cg7)" fill-opacity="0.99"/>
<path d="M311.01,267.0 Q310.28,249.3 307.31,230.6 Q310.99,249.3 311.71,267.0Z" fill="url(#cg7)" fill-opacity="0.60"/>
<path d="M326.12,267.0 Q325.44,249.7 324.68,231.4 Q326.21,249.7 326.88,267.0Z" fill="url(#cg7)" fill-opacity="0.51"/>
<path d="M323.30,267.0 Q325.19,245.2 324.16,222.4 Q326.28,245.2 324.39,267.0Z" fill="url(#cg7)" fill-opacity="0.89"/>
<path d="M309.35,267.0 Q307.86,245.1 304.30,222.1 Q308.83,245.1 310.31,267.0Z" fill="url(#cg7)" fill-opacity="0.64"/>
<path d="M318.07,267.0 Q319.75,252.9 319.42,237.8 Q320.41,252.9 318.73,267.0Z" fill="url(#cg7)" fill-opacity="0.57"/>
<path d="M322.14,267.0 Q321.84,245.4 323.40,222.7 Q322.37,245.4 322.67,267.0Z" fill="url(#cg7)" fill-opacity="0.84"/>
<path d="M308.46,267.0 Q309.89,250.7 307.19,233.3 Q310.87,250.7 309.45,267.0Z" fill="url(#cg7)" fill-opacity="0.54"/>
<path d="M308.45,267.0 Q310.15,248.6 306.54,229.2 Q310.86,248.6 309.15,267.0Z" fill="url(#cg7)" fill-opacity="0.78"/>
<path d="M313.91,267.0 Q312.56,249.4 309.26,230.8 Q313.20,249.4 314.55,267.0Z" fill="url(#cg7)" fill-opacity="0.55"/>
<path d="M308.02,267.0 Q307.18,247.2 301.99,226.4 Q307.86,247.2 308.70,267.0Z" fill="url(#cg7)" fill-opacity="0.88"/>
<path d="M320.25,267.0 Q318.31,247.5 317.77,227.1 Q318.82,247.5 320.76,267.0Z" fill="url(#cg7)" fill-opacity="0.63"/>
<path d="M326.40,267.0 Q324.83,246.1 328.26,224.2 Q325.61,246.1 327.19,267.0Z" fill="url(#cg7)" fill-opacity="0.97"/>
<path d="M328.61,267.0 Q328.64,249.1 330.58,230.1 Q329.64,249.1 329.61,267.0Z" fill="url(#cg7)" fill-opacity="0.70"/>
<path d="M325.07,267.0 Q325.61,247.5 329.24,227.0 Q326.61,247.5 326.07,267.0Z" fill="url(#cg7)" fill-opacity="0.85"/>
<path d="M317.64,267.0 Q318.60,245.1 315.41,222.3 Q319.18,245.1 318.22,267.0Z" fill="url(#cg7)" fill-opacity="0.54"/>
<path d="M313.40,267.0 Q314.08,245.3 309.03,222.6 Q315.09,245.3 314.40,267.0Z" fill="url(#cg7)" fill-opacity="0.94"/>
<path d="M314.22,267.0 Q314.01,247.0 310.43,226.0 Q314.78,247.0 315.00,267.0Z" fill="url(#cg7)" fill-opacity="0.58"/>
<path d="M313.69,267.0 Q315.56,254.9 314.09,241.9 Q316.38,254.9 314.52,267.0Z" fill="url(#cg7)" fill-opacity="0.62"/>
<path d="M314.99,267.0 Q315.00,244.9 312.10,221.8 Q315.73,244.9 315.72,267.0Z" fill="url(#cg7)" fill-opacity="0.74"/>
<path d="M312.10,267.0 Q311.70,244.9 309.14,221.8 Q312.35,244.9 312.76,267.0Z" fill="url(#cg7)" fill-opacity="0.54"/>
<path d="M307.81,267.0 Q307.92,247.1 300.61,226.2 Q308.56,247.1 308.44,267.0Z" fill="url(#cg7)" fill-opacity="0.79"/>
<path d="M326.75,267.0 Q326.06,251.6 329.51,235.3 Q327.08,251.6 327.78,267.0Z" fill="url(#cg7)" fill-opacity="0.69"/>
<path d="M333.14,267.0 Q334.49,251.7 334.76,235.5 Q335.37,251.7 334.03,267.0Z" fill="url(#cg7)" fill-opacity="0.52"/>
<path d="M330.59,267.0 Q330.68,251.9 334.34,235.7 Q331.67,251.9 331.58,267.0Z" fill="url(#cg7)" fill-opacity="0.57"/>
<path d="M320.12,267.0 Q321.69,252.7 321.86,237.5 Q322.69,252.7 321.12,267.0Z" fill="url(#cg7)" fill-opacity="0.79"/>
<path d="M325.18,267.0 Q324.62,246.4 327.33,224.9 Q325.14,246.4 325.70,267.0Z" fill="url(#cg7)" fill-opacity="0.57"/>
<path d="M309.39,267.0 Q310.12,249.8 307.73,231.6 Q310.99,249.8 310.27,267.0Z" fill="url(#cg7)" fill-opacity="0.81"/>
<path d="M319.74,267.0 Q319.88,252.6 316.34,237.3 Q320.83,252.6 320.69,267.0Z" fill="url(#cg7)" fill-opacity="0.75"/>
<path d="M324.48,267.0 Q323.54,251.9 322.74,235.8 Q324.19,251.9 325.13,267.0Z" fill="url(#cg7)" fill-opacity="0.54"/>
<path d="M326.15,267.0 Q325.68,251.9 326.05,235.9 Q326.77,251.9 327.23,267.0Z" fill="url(#cg7)" fill-opacity="0.75"/>
<path d="M319.50,267.0 Q317.81,252.3 320.06,236.5 Q318.68,252.3 320.37,267.0Z" fill="url(#cg7)" fill-opacity="0.82"/>
<path d="M310.64,267.0 Q308.69,252.0 305.74,235.9 Q309.37,252.0 311.32,267.0Z" fill="url(#cg7)" fill-opacity="0.78"/>
<path d="M308.18,267.0 Q307.34,251.1 302.76,234.2 Q308.26,251.1 309.10,267.0Z" fill="url(#cg7)" fill-opacity="0.84"/>
<line x1="320.9" y1="260.0" x2="320.1" y2="235.3" stroke="#141a0e" stroke-opacity="0.57" stroke-width="0.58"/>
<line x1="332.1" y1="256.8" x2="336.7" y2="231.2" stroke="#141a0e" stroke-opacity="0.55" stroke-width="0.89"/>
<line x1="319.3" y1="252.3" x2="317.2" y2="233.0" stroke="#141a0e" stroke-opacity="0.36" stroke-width="0.73"/>
<line x1="311.8" y1="259.8" x2="308.4" y2="239.8" stroke="#141a0e" stroke-opacity="0.55" stroke-width="0.70"/>
<line x1="329.9" y1="252.8" x2="332.8" y2="233.2" stroke="#141a0e" stroke-opacity="0.45" stroke-width="0.51"/>
<line x1="308.4" y1="258.3" x2="303.9" y2="235.2" stroke="#141a0e" stroke-opacity="0.34" stroke-width="0.64"/>
<line x1="316.0" y1="254.1" x2="315.2" y2="231.1" stroke="#141a0e" stroke-opacity="0.55" stroke-width="0.55"/>
<line x1="330.9" y1="258.4" x2="334.1" y2="239.4" stroke="#141a0e" stroke-opacity="0.41" stroke-width="0.66"/>
<line x1="332.6" y1="257.1" x2="335.9" y2="234.4" stroke="#141a0e" stroke-opacity="0.38" stroke-width="0.52"/>
<line x1="310.8" y1="252.4" x2="308.3" y2="233.7" stroke="#141a0e" stroke-opacity="0.37" stroke-width="0.61"/>
<line x1="320.8" y1="252.2" x2="318.8" y2="234.5" stroke="#141a0e" stroke-opacity="0.57" stroke-width="0.82"/>
<line x1="323.7" y1="256.0" x2="325.5" y2="239.7" stroke="#141a0e" stroke-opacity="0.52" stroke-width="0.52"/>
<line x1="326.1" y1="255.1" x2="326.9" y2="238.0" stroke="#141a0e" stroke-opacity="0.39" stroke-width="0.52"/>
<line x1="330.9" y1="257.9" x2="331.8" y2="235.4" stroke="#141a0e" stroke-opacity="0.39" stroke-width="0.80"/>
<line x1="332.1" y1="258.3" x2="333.9" y2="237.1" stroke="#141a0e" stroke-opacity="0.47" stroke-width="0.66"/>
<line x1="312.4" y1="252.7" x2="307.7" y2="233.0" stroke="#141a0e" stroke-opacity="0.45" stroke-width="0.59"/>
<line x1="330.4" y1="259.8" x2="334.6" y2="235.2" stroke="#141a0e" stroke-opacity="0.36" stroke-width="0.54"/>
<line x1="316.7" y1="258.7" x2="313.0" y2="233.2" stroke="#141a0e" stroke-opacity="0.47" stroke-width="0.85"/>
<line x1="326.6" y1="254.1" x2="327.3" y2="227.5" stroke="#b4c688" stroke-opacity="0.61" stroke-width="0.51"/>
<line x1="316.6" y1="254.1" x2="312.8" y2="225.6" stroke="#b4c688" stroke-opacity="0.79" stroke-width="0.44"/>
<line x1="320.6" y1="254.1" x2="320.3" y2="233.8" stroke="#b4c688" stroke-opacity="0.49" stroke-width="0.48"/>
<line x1="314.4" y1="254.1" x2="311.3" y2="228.0" stroke="#b4c688" stroke-opacity="0.78" stroke-width="0.65"/>
<line x1="329.6" y1="254.1" x2="329.7" y2="222.2" stroke="#b4c688" stroke-opacity="0.68" stroke-width="0.67"/>
<line x1="319.9" y1="254.1" x2="319.2" y2="221.8" stroke="#b4c688" stroke-opacity="0.56" stroke-width="0.68"/>
<line x1="328.4" y1="254.1" x2="331.5" y2="235.3" stroke="#b4c688" stroke-opacity="0.50" stroke-width="0.43"/>
<line x1="312.1" y1="254.1" x2="308.8" y2="231.3" stroke="#b4c688" stroke-opacity="0.78" stroke-width="0.62"/>
<line x1="324.1" y1="254.1" x2="325.5" y2="228.1" stroke="#b4c688" stroke-opacity="0.62" stroke-width="0.41"/>
<line x1="327.4" y1="254.1" x2="327.6" y2="234.6" stroke="#b4c688" stroke-opacity="0.66" stroke-width="0.49"/>
<line x1="311.5" y1="254.1" x2="306.9" y2="230.6" stroke="#b4c688" stroke-opacity="0.68" stroke-width="0.43"/>
<line x1="310.1" y1="254.1" x2="306.1" y2="229.9" stroke="#b4c688" stroke-opacity="0.56" stroke-width="0.47"/>
<rect x="299.0" y="220.8" width="41.4" height="18.5" fill="url(#gdark)"/>
<rect x="306.5" y="265.0" width="28.0" height="3" fill="#d8d8b4" opacity="0.9"/>
<path d="M346.0,268.0 L345.8,236.0 L371.7,236.0 L372.0,268.0Z" fill="url(#cb8)"/>
<path d="M351.43,267.0 Q350.42,248.6 353.35,229.2 Q351.35,248.6 352.36,267.0Z" fill="url(#cg8)" fill-opacity="0.54"/>
<path d="M371.59,267.0 Q371.57,253.1 371.93,238.1 Q372.35,253.1 372.37,267.0Z" fill="url(#cg8)" fill-opacity="0.73"/>
<path d="M350.68,267.0 Q349.74,248.4 351.53,228.8 Q350.39,248.4 351.32,267.0Z" fill="url(#cg8)" fill-opacity="0.51"/>
<path d="M356.32,267.0 Q358.28,250.6 358.40,233.1 Q358.85,250.6 356.88,267.0Z" fill="url(#cg8)" fill-opacity="0.63"/>
<path d="M347.19,267.0 Q347.96,250.5 346.41,233.1 Q348.85,250.5 348.09,267.0Z" fill="url(#cg8)" fill-opacity="0.67"/>
<path d="M358.51,267.0 Q356.77,255.9 359.58,243.7 Q357.62,255.9 359.36,267.0Z" fill="url(#cg8)" fill-opacity="0.57"/>
<path d="M370.06,267.0 Q370.98,249.1 372.02,230.1 Q372.05,249.1 371.13,267.0Z" fill="url(#cg8)" fill-opacity="0.79"/>
<path d="M368.39,267.0 Q369.45,250.4 368.85,232.7 Q370.48,250.4 369.42,267.0Z" fill="url(#cg8)" fill-opacity="0.57"/>
<path d="M348.00,267.0 Q348.02,253.7 347.86,239.4 Q349.09,253.7 349.07,267.0Z" fill="url(#cg8)" fill-opacity="0.92"/>
<path d="M350.74,267.0 Q352.35,251.9 347.61,235.9 Q353.15,251.9 351.54,267.0Z" fill="url(#cg8)" fill-opacity="0.54"/>
<path d="M358.87,267.0 Q358.24,249.3 360.18,230.5 Q358.89,249.3 359.52,267.0Z" fill="url(#cg8)" fill-opacity="0.51"/>
<path d="M352.44,267.0 Q351.14,250.5 351.32,233.1 Q352.14,250.5 353.44,267.0Z" fill="url(#cg8)" fill-opacity="0.95"/>
<path d="M355.76,267.0 Q356.83,253.3 353.65,238.6 Q357.91,253.3 356.85,267.0Z" fill="url(#cg8)" fill-opacity="0.60"/>
<path d="M353.45,267.0 Q353.19,254.3 349.85,240.7 Q353.90,254.3 354.15,267.0Z" fill="url(#cg8)" fill-opacity="0.59"/>
<path d="M351.65,267.0 Q350.80,251.2 350.19,234.3 Q351.56,251.2 352.40,267.0Z" fill="url(#cg8)" fill-opacity="0.79"/>
<path d="M348.07,267.0 Q349.30,248.5 344.16,229.0 Q350.11,248.5 348.88,267.0Z" fill="url(#cg8)" fill-opacity="0.68"/>
<path d="M358.86,267.0 Q357.42,256.8 360.15,245.5 Q357.96,256.8 359.40,267.0Z" fill="url(#cg8)" fill-opacity="0.51"/>
<path d="M355.69,267.0 Q353.70,254.1 355.79,240.2 Q354.41,254.1 356.40,267.0Z" fill="url(#cg8)" fill-opacity="0.98"/>
<path d="M367.47,267.0 Q368.51,255.6 367.05,243.1 Q369.03,255.6 367.99,267.0Z" fill="url(#cg8)" fill-opacity="0.98"/>
<path d="M371.21,267.0 Q369.54,249.0 373.89,229.9 Q370.63,249.0 372.29,267.0Z" fill="url(#cg8)" fill-opacity="0.72"/>
<path d="M361.44,267.0 Q361.77,251.4 361.88,234.8 Q362.36,251.4 362.04,267.0Z" fill="url(#cg8)" fill-opacity="0.56"/>
<path d="M357.30,267.0 Q357.19,251.1 355.09,234.2 Q358.12,251.1 358.24,267.0Z" fill="url(#cg8)" fill-opacity="0.86"/>
<path d="M355.93,267.0 Q354.36,249.3 354.74,230.6 Q354.98,249.3 356.55,267.0Z" fill="url(#cg8)" fill-opacity="0.72"/>
<path d="M364.60,267.0 Q364.33,252.7 366.73,237.5 Q364.84,252.7 365.11,267.0Z" fill="url(#cg8)" fill-opacity="0.68"/>
<path d="M348.03,267.0 Q346.83,254.3 349.40,240.5 Q347.63,254.3 348.83,267.0Z" fill="url(#cg8)" fill-opacity="0.85"/>
<path d="M351.52,267.0 Q351.97,254.1 350.81,240.3 Q352.86,254.1 352.41,267.0Z" fill="url(#cg8)" fill-opacity="0.50"/>
<path d="M369.09,267.0 Q368.27,256.2 372.43,244.3 Q369.36,256.2 370.17,267.0Z" fill="url(#cg8)" fill-opacity="0.61"/>
<path d="M359.70,267.0 Q359.76,250.5 363.03,232.9 Q360.83,250.5 360.76,267.0Z" fill="url(#cg8)" fill-opacity="0.93"/>
<path d="M361.91,267.0 Q360.70,254.6 365.23,241.1 Q361.37,254.6 362.59,267.0Z" fill="url(#cg8)" fill-opacity="0.92"/>
<path d="M355.28,267.0 Q355.73,255.3 357.61,242.5 Q356.42,255.3 355.96,267.0Z" fill="url(#cg8)" fill-opacity="0.65"/>
<path d="M367.44,267.0 Q367.86,256.3 370.10,244.5 Q368.80,256.3 368.38,267.0Z" fill="url(#cg8)" fill-opacity="0.91"/>
<path d="M355.01,267.0 Q354.08,251.6 354.19,235.1 Q354.90,251.6 355.83,267.0Z" fill="url(#cg8)" fill-opacity="0.92"/>
<path d="M347.41,267.0 Q348.73,249.6 347.25,231.3 Q349.48,249.6 348.16,267.0Z" fill="url(#cg8)" fill-opacity="0.56"/>
<path d="M352.72,267.0 Q354.27,254.8 350.74,241.6 Q355.08,254.8 353.52,267.0Z" fill="url(#cg8)" fill-opacity="0.64"/>
<path d="M356.22,267.0 Q355.22,256.6 355.28,245.2 Q356.19,256.6 357.19,267.0Z" fill="url(#cg8)" fill-opacity="0.87"/>
<path d="M366.78,267.0 Q367.96,255.1 368.70,242.1 Q368.68,255.1 367.51,267.0Z" fill="url(#cg8)" fill-opacity="0.89"/>
<path d="M355.54,267.0 Q356.68,254.5 356.33,241.0 Q357.78,254.5 356.63,267.0Z" fill="url(#cg8)" fill-opacity="0.96"/>
<path d="M349.28,267.0 Q350.76,253.5 348.55,239.0 Q351.31,253.5 349.83,267.0Z" fill="url(#cg8)" fill-opacity="0.73"/>
<path d="M369.11,267.0 Q369.72,248.4 373.42,228.8 Q370.58,248.4 369.97,267.0Z" fill="url(#cg8)" fill-opacity="0.93"/>
<path d="M353.81,267.0 Q353.28,256.1 350.60,244.1 Q354.29,256.1 354.83,267.0Z" fill="url(#cg8)" fill-opacity="0.83"/>
<path d="M367.11,267.0 Q366.30,253.9 370.46,239.8 Q367.16,253.9 367.97,267.0Z" fill="url(#cg8)" fill-opacity="0.66"/>
<path d="M355.01,267.0 Q354.40,251.8 353.45,235.7 Q354.97,251.8 355.58,267.0Z" fill="url(#cg8)" fill-opacity="0.86"/>
<path d="M349.77,267.0 Q348.17,250.6 347.11,233.3 Q348.93,250.6 350.53,267.0Z" fill="url(#cg8)" fill-opacity="0.89"/>
<path d="M351.31,267.0 Q349.52,248.9 349.21,229.9 Q350.47,248.9 352.26,267.0Z" fill="url(#cg8)" fill-opacity="0.55"/>
<path d="M360.03,267.0 Q361.56,255.0 361.84,242.0 Q362.40,255.0 360.87,267.0Z" fill="url(#cg8)" fill-opacity="0.66"/>
<path d="M364.61,267.0 Q366.33,252.3 365.68,236.5 Q367.40,252.3 365.67,267.0Z" fill="url(#cg8)" fill-opacity="1.00"/>
<path d="M349.15,267.0 Q347.39,250.8 346.73,233.6 Q347.99,250.8 349.75,267.0Z" fill="url(#cg8)" fill-opacity="0.88"/>
<path d="M368.70,267.0 Q369.01,252.8 370.85,237.5 Q369.76,252.8 369.45,267.0Z" fill="url(#cg8)" fill-opacity="0.97"/>
<path d="M368.77,267.0 Q368.23,253.6 373.14,239.2 Q369.32,253.6 369.86,267.0Z" fill="url(#cg8)" fill-opacity="0.74"/>
<path d="M367.49,267.0 Q366.00,250.0 369.20,231.9 Q366.91,250.0 368.40,267.0Z" fill="url(#cg8)" fill-opacity="0.74"/>
<path d="M367.37,267.0 Q366.53,256.7 368.85,245.3 Q367.35,256.7 368.19,267.0Z" fill="url(#cg8)" fill-opacity="0.97"/>
<path d="M351.16,267.0 Q349.65,254.4 350.46,240.7 Q350.65,254.4 352.15,267.0Z" fill="url(#cg8)" fill-opacity="0.82"/>
<path d="M355.71,267.0 Q356.51,250.5 352.79,233.0 Q357.58,250.5 356.78,267.0Z" fill="url(#cg8)" fill-opacity="0.67"/>
<path d="M361.88,267.0 Q362.20,253.5 360.24,239.1 Q362.75,253.5 362.43,267.0Z" fill="url(#cg8)" fill-opacity="0.59"/>
<path d="M348.87,267.0 Q347.31,251.0 350.40,233.9 Q348.18,251.0 349.75,267.0Z" fill="url(#cg8)" fill-opacity="0.98"/>
<path d="M371.53,267.0 Q370.96,252.6 370.91,237.3 Q371.86,252.6 372.42,267.0Z" fill="url(#cg8)" fill-opacity="0.99"/>
<path d="M370.31,267.0 Q369.78,251.4 373.01,234.9 Q370.38,251.4 370.92,267.0Z" fill="url(#cg8)" fill-opacity="0.62"/>
<path d="M354.64,267.0 Q352.80,254.8 353.38,241.6 Q353.52,254.8 355.37,267.0Z" fill="url(#cg8)" fill-opacity="0.81"/>
<path d="M349.31,267.0 Q348.24,255.7 349.27,243.5 Q348.93,255.7 350.00,267.0Z" fill="url(#cg8)" fill-opacity="0.52"/>
<path d="M355.03,267.0 Q356.18,252.3 353.78,236.5 Q356.86,252.3 355.71,267.0Z" fill="url(#cg8)" fill-opacity="0.82"/>
<path d="M366.04,267.0 Q365.19,252.5 368.67,236.9 Q365.85,252.5 366.69,267.0Z" fill="url(#cg8)" fill-opacity="0.92"/>
<path d="M367.96,267.0 Q367.33,252.9 369.20,237.9 Q368.13,252.9 368.76,267.0Z" fill="url(#cg8)" fill-opacity="0.83"/>
<path d="M360.61,267.0 Q360.49,250.4 362.51,232.8 Q361.35,250.4 361.47,267.0Z" fill="url(#cg8)" fill-opacity="0.73"/>
<path d="M355.67,267.0 Q356.97,253.8 355.55,239.5 Q357.57,253.8 356.28,267.0Z" fill="url(#cg8)" fill-opacity="0.57"/>
<path d="M347.99,267.0 Q347.00,254.3 348.20,240.6 Q347.63,254.3 348.62,267.0Z" fill="url(#cg8)" fill-opacity="0.82"/>
<path d="M368.66,267.0 Q367.51,248.5 368.35,229.1 Q368.03,248.5 369.18,267.0Z" fill="url(#cg8)" fill-opacity="0.86"/>
<path d="M353.70,267.0 Q354.26,254.0 356.06,240.1 Q355.21,254.0 354.64,267.0Z" fill="url(#cg8)" fill-opacity="0.79"/>
<path d="M345.78,267.0 Q347.43,250.1 346.01,232.2 Q348.44,250.1 346.79,267.0Z" fill="url(#cg8)" fill-opacity="0.71"/>
<path d="M345.61,267.0 Q347.55,248.4 346.70,228.9 Q348.36,248.4 346.42,267.0Z" fill="url(#cg8)" fill-opacity="0.74"/>
<path d="M364.26,267.0 Q362.84,255.9 368.13,243.8 Q363.60,255.9 365.02,267.0Z" fill="url(#cg8)" fill-opacity="0.57"/>
<path d="M364.09,267.0 Q364.72,253.3 367.72,238.6 Q365.43,253.3 364.80,267.0Z" fill="url(#cg8)" fill-opacity="0.80"/>
<path d="M352.32,267.0 Q352.27,249.1 352.53,230.2 Q352.79,249.1 352.84,267.0Z" fill="url(#cg8)" fill-opacity="0.53"/>
<path d="M363.64,267.0 Q363.73,250.7 362.96,233.4 Q364.64,250.7 364.55,267.0Z" fill="url(#cg8)" fill-opacity="0.63"/>
<path d="M361.22,267.0 Q359.97,249.2 361.26,230.3 Q360.89,249.2 362.13,267.0Z" fill="url(#cg8)" fill-opacity="0.85"/>
<path d="M366.51,267.0 Q367.37,255.5 368.87,242.9 Q368.34,255.5 367.47,267.0Z" fill="url(#cg8)" fill-opacity="0.75"/>
<path d="M353.82,267.0 Q355.37,248.4 354.12,228.7 Q356.07,248.4 354.53,267.0Z" fill="url(#cg8)" fill-opacity="0.75"/>
<path d="M363.24,267.0 Q363.71,255.5 366.70,243.0 Q364.79,255.5 364.32,267.0Z" fill="url(#cg8)" fill-opacity="0.81"/>
<path d="M357.76,267.0 Q356.72,254.7 356.15,241.4 Q357.58,254.7 358.62,267.0Z" fill="url(#cg8)" fill-opacity="0.58"/>
<path d="M351.43,267.0 Q351.69,252.6 351.74,237.2 Q352.31,252.6 352.05,267.0Z" fill="url(#cg8)" fill-opacity="0.84"/>
<path d="M352.64,267.0 Q353.01,256.9 351.44,245.8 Q353.60,256.9 353.22,267.0Z" fill="url(#cg8)" fill-opacity="0.62"/>
<path d="M367.36,267.0 Q366.90,250.7 371.44,233.5 Q367.86,250.7 368.32,267.0Z" fill="url(#cg8)" fill-opacity="0.56"/>
<path d="M367.85,267.0 Q368.04,251.2 370.41,234.3 Q368.90,251.2 368.71,267.0Z" fill="url(#cg8)" fill-opacity="0.74"/>
<path d="M368.51,267.0 Q368.94,249.1 373.09,230.2 Q369.89,249.1 369.46,267.0Z" fill="url(#cg8)" fill-opacity="0.97"/>
<path d="M358.59,267.0 Q357.04,251.5 358.00,235.0 Q357.89,251.5 359.44,267.0Z" fill="url(#cg8)" fill-opacity="0.81"/>
<path d="M371.66,267.0 Q369.96,252.1 372.32,236.2 Q370.58,252.1 372.28,267.0Z" fill="url(#cg8)" fill-opacity="0.82"/>
<line x1="355.1" y1="258.1" x2="353.9" y2="238.5" stroke="#141a0e" stroke-opacity="0.35" stroke-width="0.70"/>
<line x1="365.9" y1="254.4" x2="367.2" y2="243.8" stroke="#141a0e" stroke-opacity="0.44" stroke-width="0.69"/>
<line x1="365.1" y1="256.7" x2="367.3" y2="240.3" stroke="#141a0e" stroke-opacity="0.51" stroke-width="0.71"/>
<line x1="359.2" y1="258.2" x2="358.6" y2="239.6" stroke="#141a0e" stroke-opacity="0.54" stroke-width="0.56"/>
<line x1="350.1" y1="256.4" x2="350.2" y2="240.1" stroke="#141a0e" stroke-opacity="0.57" stroke-width="0.79"/>
<line x1="360.6" y1="258.4" x2="362.3" y2="241.0" stroke="#141a0e" stroke-opacity="0.35" stroke-width="0.56"/>
<line x1="365.8" y1="257.8" x2="368.2" y2="238.9" stroke="#141a0e" stroke-opacity="0.50" stroke-width="0.74"/>
<line x1="353.7" y1="256.3" x2="354.3" y2="240.4" stroke="#141a0e" stroke-opacity="0.51" stroke-width="0.68"/>
<line x1="363.7" y1="256.8" x2="362.9" y2="240.4" stroke="#141a0e" stroke-opacity="0.49" stroke-width="0.62"/>
<line x1="351.5" y1="260.5" x2="348.6" y2="237.0" stroke="#141a0e" stroke-opacity="0.45" stroke-width="0.73"/>
<line x1="363.8" y1="261.8" x2="364.0" y2="242.1" stroke="#141a0e" stroke-opacity="0.40" stroke-width="0.55"/>
<line x1="359.4" y1="258.5" x2="359.5" y2="240.7" stroke="#141a0e" stroke-opacity="0.41" stroke-width="0.63"/>
<line x1="349.8" y1="257.5" x2="346.9" y2="239.9" stroke="#141a0e" stroke-opacity="0.33" stroke-width="0.84"/>
<line x1="347.9" y1="259.3" x2="344.5" y2="239.6" stroke="#141a0e" stroke-opacity="0.46" stroke-width="0.78"/>
<line x1="361.2" y1="256.6" x2="362.4" y2="239.8" stroke="#141a0e" stroke-opacity="0.43" stroke-width="0.55"/>
<line x1="349.0" y1="259.8" x2="346.0" y2="239.6" stroke="#141a0e" stroke-opacity="0.47" stroke-width="0.77"/>
<line x1="368.8" y1="262.0" x2="368.6" y2="243.7" stroke="#141a0e" stroke-opacity="0.57" stroke-width="0.89"/>
<line x1="355.8" y1="257.5" x2="356.3" y2="240.0" stroke="#141a0e" stroke-opacity="0.56" stroke-width="0.88"/>
<line x1="354.3" y1="256.0" x2="352.3" y2="239.0" stroke="#b4c688" stroke-opacity="0.64" stroke-width="0.67"/>
<line x1="352.5" y1="256.0" x2="352.6" y2="229.9" stroke="#b4c688" stroke-opacity="0.46" stroke-width="0.49"/>
<line x1="369.0" y1="256.0" x2="369.8" y2="233.3" stroke="#b4c688" stroke-opacity="0.52" stroke-width="0.42"/>
<line x1="357.6" y1="256.0" x2="357.2" y2="232.0" stroke="#b4c688" stroke-opacity="0.69" stroke-width="0.49"/>
<line x1="370.2" y1="256.0" x2="373.3" y2="234.9" stroke="#b4c688" stroke-opacity="0.44" stroke-width="0.57"/>
<line x1="361.8" y1="256.0" x2="362.6" y2="233.1" stroke="#b4c688" stroke-opacity="0.69" stroke-width="0.70"/>
<line x1="363.7" y1="256.0" x2="362.4" y2="235.5" stroke="#b4c688" stroke-opacity="0.65" stroke-width="0.56"/>
<line x1="369.3" y1="256.0" x2="368.8" y2="228.2" stroke="#b4c688" stroke-opacity="0.69" stroke-width="0.43"/>
<line x1="350.5" y1="256.0" x2="350.3" y2="232.3" stroke="#b4c688" stroke-opacity="0.75" stroke-width="0.64"/>
<line x1="362.8" y1="256.0" x2="362.6" y2="229.0" stroke="#b4c688" stroke-opacity="0.79" stroke-width="0.66"/>
<line x1="368.8" y1="256.0" x2="370.0" y2="231.4" stroke="#b4c688" stroke-opacity="0.65" stroke-width="0.53"/>
<line x1="351.8" y1="256.0" x2="348.9" y2="232.9" stroke="#b4c688" stroke-opacity="0.46" stroke-width="0.48"/>
<rect x="340.8" y="227.0" width="35.9" height="16.0" fill="url(#gdark)"/>
<rect x="345.5" y="265.0" width="27.0" height="3" fill="#d8d8b4" opacity="0.9"/>
<line x1="225.4" y1="243.4" x2="225.4" y2="266.4" stroke="#ddd" stroke-width="0.8"/>
<text x="368.5" y="156.4" font-family="Liberation Serif" font-weight="bold" font-size="6" text-anchor="middle" fill="#fff">NH<tspan font-size="3.7" dy="1.3">4</tspan><tspan font-size="3.7" dx="-1.9" dy="-3.3">+</tspan><tspan dy="2">-N</tspan></text>
<text x="368" y="218.2" font-family="Liberation Serif" font-weight="bold" font-size="6" text-anchor="middle" fill="#fff">NO<tspan font-size="3.7" dy="1.3">3</tspan><tspan font-size="3.7" dx="-1.9" dy="-3.3">-</tspan><tspan dy="2">-N</tspan></text>
<text x="243.9" y="274.5" font-family="Liberation Serif" font-weight="bold" font-size="4.8" text-anchor="middle" fill="#fff">BC-0%</text>
<text x="281.5" y="274.5" font-family="Liberation Serif" font-weight="bold" font-size="4.8" text-anchor="middle" fill="#fff">BC-1%</text>
<text x="318" y="274.5" font-family="Liberation Serif" font-weight="bold" font-size="4.8" text-anchor="middle" fill="#fff">BC-3%</text>
<text x="359" y="274.5" font-family="Liberation Serif" font-weight="bold" font-size="4.8" text-anchor="middle" fill="#fff">BC-5%</text>
<text x="0" y="300.6" font-family="Liberation Sans" font-weight="bold" font-size="8.2">D</text>
<line x1="15.9" y1="304.8" x2="15.9" y2="392.8" stroke="#707070" stroke-width="1.1"/>
<line x1="15.35" y1="392.8" x2="108" y2="392.8" stroke="#707070" stroke-width="1.1"/>
<line x1="15.9" y1="306.6" x2="14.700000000000001" y2="306.6" stroke="#777" stroke-width="0.5"/>
<text x="12.9" y="308.4" font-family="Liberation Serif" font-weight="bold" font-size="5.2" text-anchor="end" fill="#222">30</text>
<line x1="15.9" y1="327.3" x2="14.700000000000001" y2="327.3" stroke="#777" stroke-width="0.5"/>
<text x="12.9" y="329.1" font-family="Liberation Serif" font-weight="bold" font-size="5.2" text-anchor="end" fill="#222">25</text>
<line x1="15.9" y1="348.0" x2="14.700000000000001" y2="348.0" stroke="#777" stroke-width="0.5"/>
<text x="12.9" y="349.8" font-family="Liberation Serif" font-weight="bold" font-size="5.2" text-anchor="end" fill="#222">20</text>
<line x1="15.9" y1="368.7" x2="14.700000000000001" y2="368.7" stroke="#777" stroke-width="0.5"/>
<text x="12.9" y="370.5" font-family="Liberation Serif" font-weight="bold" font-size="5.2" text-anchor="end" fill="#222">15</text>
<line x1="15.9" y1="389.4" x2="14.700000000000001" y2="389.4" stroke="#777" stroke-width="0.5"/>
<text x="12.9" y="391.2" font-family="Liberation Serif" font-weight="bold" font-size="5.2" text-anchor="end" fill="#222">10</text>
<text transform="translate(4.0,337.5) rotate(-90)" font-family="Liberation Serif" font-weight="bold" font-size="6.2" text-anchor="middle" textLength="45" lengthAdjust="spacingAndGlyphs" fill="#111">Plant height / cm</text>
<line x1="22.6" y1="372.5" x2="22.6" y2="379.0" stroke="#bbb" stroke-width="0.5"/>
<line x1="21.1" y1="372.5" x2="24.1" y2="372.5" stroke="#bbb" stroke-width="0.5"/>
<line x1="21.1" y1="379.0" x2="24.1" y2="379.0" stroke="#bbb" stroke-width="0.5"/>
<rect x="18.7" y="374.2" width="7.8" height="3.5" fill="#d2312e"/>
<line x1="18.7" y1="375.9" x2="26.5" y2="375.9" stroke="#fff" stroke-opacity="0.35" stroke-width="0.5"/>
<line x1="32.8" y1="357.5" x2="32.8" y2="364.0" stroke="#bbb" stroke-width="0.5"/>
<line x1="31.3" y1="357.5" x2="34.3" y2="357.5" stroke="#bbb" stroke-width="0.5"/>
<line x1="31.3" y1="364.0" x2="34.3" y2="364.0" stroke="#bbb" stroke-width="0.5"/>
<rect x="28.9" y="359.0" width="7.8" height="3.3" fill="#4a89cf"/>
<line x1="28.9" y1="360.6" x2="36.7" y2="360.6" stroke="#fff" stroke-opacity="0.35" stroke-width="0.5"/>
<line x1="41.2" y1="331.6" x2="41.2" y2="342.4" stroke="#bbb" stroke-width="0.5"/>
<line x1="39.8" y1="331.6" x2="42.8" y2="331.6" stroke="#bbb" stroke-width="0.5"/>
<line x1="39.8" y1="342.4" x2="42.8" y2="342.4" stroke="#bbb" stroke-width="0.5"/>
<rect x="36.7" y="334.6" width="9.1" height="5.2" fill="#7b9a48"/>
<line x1="36.7" y1="337.2" x2="45.8" y2="337.2" stroke="#fff" stroke-opacity="0.35" stroke-width="0.5"/>
<line x1="52.1" y1="345.5" x2="52.1" y2="352.0" stroke="#bbb" stroke-width="0.5"/>
<line x1="50.6" y1="345.5" x2="53.6" y2="345.5" stroke="#bbb" stroke-width="0.5"/>
<line x1="50.6" y1="352.0" x2="53.6" y2="352.0" stroke="#bbb" stroke-width="0.5"/>
<rect x="48.0" y="347.0" width="8.2" height="3.7" fill="#d9a46a"/>
<line x1="48.0" y1="348.9" x2="56.2" y2="348.9" stroke="#fff" stroke-opacity="0.35" stroke-width="0.5"/>
<line x1="71.2" y1="332.5" x2="71.2" y2="338.0" stroke="#bbb" stroke-width="0.5"/>
<line x1="69.8" y1="332.5" x2="72.8" y2="332.5" stroke="#bbb" stroke-width="0.5"/>
<line x1="69.8" y1="338.0" x2="72.8" y2="338.0" stroke="#bbb" stroke-width="0.5"/>
<rect x="67.7" y="334.0" width="7.1" height="3.2" fill="#d2312e"/>
<line x1="67.7" y1="335.6" x2="74.8" y2="335.6" stroke="#fff" stroke-opacity="0.35" stroke-width="0.5"/>
<line x1="81.7" y1="330.0" x2="81.7" y2="340.0" stroke="#bbb" stroke-width="0.5"/>
<line x1="80.2" y1="330.0" x2="83.2" y2="330.0" stroke="#bbb" stroke-width="0.5"/>
<line x1="80.2" y1="340.0" x2="83.2" y2="340.0" stroke="#bbb" stroke-width="0.5"/>
<rect x="78.0" y="332.7" width="7.3" height="5.8" fill="#4a89cf"/>
<line x1="78.0" y1="335.6" x2="85.3" y2="335.6" stroke="#fff" stroke-opacity="0.35" stroke-width="0.5"/>
<line x1="90.9" y1="342.0" x2="90.9" y2="353.0" stroke="#bbb" stroke-width="0.5"/>
<line x1="89.4" y1="342.0" x2="92.4" y2="342.0" stroke="#bbb" stroke-width="0.5"/>
<line x1="89.4" y1="353.0" x2="92.4" y2="353.0" stroke="#bbb" stroke-width="0.5"/>
<rect x="87.2" y="343.8" width="7.4" height="7.4" fill="#7b9a48"/>
<line x1="87.2" y1="347.5" x2="94.6" y2="347.5" stroke="#fff" stroke-opacity="0.35" stroke-width="0.5"/>
<line x1="100.3" y1="350.5" x2="100.3" y2="364.0" stroke="#bbb" stroke-width="0.5"/>
<line x1="98.8" y1="350.5" x2="101.8" y2="350.5" stroke="#bbb" stroke-width="0.5"/>
<line x1="98.8" y1="364.0" x2="101.8" y2="364.0" stroke="#bbb" stroke-width="0.5"/>
<rect x="96.4" y="353.0" width="7.9" height="8.0" fill="#d9a46a"/>
<line x1="96.4" y1="357.0" x2="104.3" y2="357.0" stroke="#fff" stroke-opacity="0.35" stroke-width="0.5"/>
<path d="M22.4,310.8L22.4,308.8L53.3,308.8L53.3,310.8" stroke="#888" stroke-width="0.6" fill="none"/>
<text x="39.8" y="307.7" font-family="Liberation Serif" font-size="4.9" text-anchor="middle" fill="#333">0.0009 **</text>
<path d="M22.4,317.2L22.4,315.2L41.6,315.2L41.6,317.2" stroke="#888" stroke-width="0.6" fill="none"/>
<text x="34.0" y="314.1" font-family="Liberation Serif" font-size="4.9" text-anchor="middle" fill="#333">0.0004 **</text>
<path d="M22.4,323.3L22.4,321.3L31.8,321.3L31.8,323.3" stroke="#888" stroke-width="0.6" fill="none"/>
<text x="29.1" y="320.2" font-family="Liberation Serif" font-size="4.9" text-anchor="middle" fill="#333">0.007 **</text>
<path d="M70.8,310.2L70.8,308.2L102.0,308.2L102.0,310.2" stroke="#888" stroke-width="0.6" fill="none"/>
<text x="88.4" y="307.1" font-family="Liberation Serif" font-size="4.9" text-anchor="middle" fill="#333">0.017 *</text>
<path d="M70.8,316.0L70.8,314.0L90.1,314.0L90.1,316.0" stroke="#888" stroke-width="0.6" fill="none"/>
<text x="82.4" y="312.9" font-family="Liberation Serif" font-size="4.9" text-anchor="middle" fill="#333">0.113 ns</text>
<path d="M70.8,322.6L70.8,320.6L80.9,320.6L80.9,322.6" stroke="#888" stroke-width="0.6" fill="none"/>
<text x="77.8" y="319.5" font-family="Liberation Serif" font-size="4.9" text-anchor="middle" fill="#333">0.546 ns</text>
<text x="38.2" y="398.3" font-family="Liberation Serif" font-weight="bold" font-size="5.4" text-anchor="middle" fill="#222">NH<tspan font-size="3.35" dy="1.2">4</tspan><tspan font-size="3.35" dx="-1.7" dy="-3">+</tspan><tspan dy="1.8">-N</tspan></text>
<text x="88.3" y="398.3" font-family="Liberation Serif" font-weight="bold" font-size="5.4" text-anchor="middle" fill="#222">NO<tspan font-size="3.35" dy="1.2">3</tspan><tspan font-size="3.35" dx="-1.7" dy="-3">-</tspan><tspan dy="1.8">-N</tspan></text>
<line x1="141.3" y1="305.8" x2="141.3" y2="393" stroke="#707070" stroke-width="1.1"/>
<line x1="140.75" y1="393" x2="249.5" y2="393" stroke="#707070" stroke-width="1.1"/>
<line x1="141.3" y1="306.4" x2="140.10000000000002" y2="306.4" stroke="#777" stroke-width="0.5"/>
<text x="138.8" y="308.2" font-family="Liberation Serif" font-weight="bold" font-size="5.2" text-anchor="end" fill="#222">30</text>
<line x1="141.3" y1="333.4" x2="140.10000000000002" y2="333.4" stroke="#777" stroke-width="0.5"/>
<text x="138.8" y="335.2" font-family="Liberation Serif" font-weight="bold" font-size="5.2" text-anchor="end" fill="#222">25</text>
<line x1="141.3" y1="360.4" x2="140.10000000000002" y2="360.4" stroke="#777" stroke-width="0.5"/>
<text x="138.8" y="362.2" font-family="Liberation Serif" font-weight="bold" font-size="5.2" text-anchor="end" fill="#222">20</text>
<line x1="141.3" y1="387.4" x2="140.10000000000002" y2="387.4" stroke="#777" stroke-width="0.5"/>
<text x="138.8" y="389.2" font-family="Liberation Serif" font-weight="bold" font-size="5.2" text-anchor="end" fill="#222">15</text>
<text transform="translate(130.6,338.7) rotate(-90)" font-family="Liberation Serif" font-weight="bold" font-size="6.2" text-anchor="middle" textLength="44" lengthAdjust="spacingAndGlyphs" fill="#111">Dry weight / mg</text>
<line x1="149.4" y1="358.5" x2="149.4" y2="369.0" stroke="#bbb" stroke-width="0.5"/>
<line x1="147.9" y1="358.5" x2="150.9" y2="358.5" stroke="#bbb" stroke-width="0.5"/>
<line x1="147.9" y1="369.0" x2="150.9" y2="369.0" stroke="#bbb" stroke-width="0.5"/>
<rect x="145.0" y="361.4" width="8.8" height="5.6" fill="#d2312e"/>
<line x1="145.0" y1="364.2" x2="153.8" y2="364.2" stroke="#fff" stroke-opacity="0.35" stroke-width="0.5"/>
<line x1="161.1" y1="345.0" x2="161.1" y2="351.5" stroke="#bbb" stroke-width="0.5"/>
<line x1="159.6" y1="345.0" x2="162.6" y2="345.0" stroke="#bbb" stroke-width="0.5"/>
<line x1="159.6" y1="351.5" x2="162.6" y2="351.5" stroke="#bbb" stroke-width="0.5"/>
<rect x="156.5" y="346.7" width="9.2" height="3.6" fill="#4a89cf"/>
<line x1="156.5" y1="348.5" x2="165.7" y2="348.5" stroke="#fff" stroke-opacity="0.35" stroke-width="0.5"/>
<line x1="170.2" y1="325.0" x2="170.2" y2="334.5" stroke="#bbb" stroke-width="0.5"/>
<line x1="168.8" y1="325.0" x2="171.8" y2="325.0" stroke="#bbb" stroke-width="0.5"/>
<line x1="168.8" y1="334.5" x2="171.8" y2="334.5" stroke="#bbb" stroke-width="0.5"/>
<rect x="165.7" y="327.4" width="9.1" height="5.5" fill="#7b9a48"/>
<line x1="165.7" y1="330.1" x2="174.8" y2="330.1" stroke="#fff" stroke-opacity="0.35" stroke-width="0.5"/>
<line x1="183.9" y1="334.0" x2="183.9" y2="344.5" stroke="#bbb" stroke-width="0.5"/>
<line x1="182.4" y1="334.0" x2="185.4" y2="334.0" stroke="#bbb" stroke-width="0.5"/>
<line x1="182.4" y1="344.5" x2="185.4" y2="344.5" stroke="#bbb" stroke-width="0.5"/>
<rect x="179.5" y="336.5" width="8.9" height="6.7" fill="#d9a46a"/>
<line x1="179.5" y1="339.9" x2="188.4" y2="339.9" stroke="#fff" stroke-opacity="0.35" stroke-width="0.5"/>
<line x1="205.1" y1="349.0" x2="205.1" y2="362.0" stroke="#bbb" stroke-width="0.5"/>
<line x1="203.6" y1="349.0" x2="206.6" y2="349.0" stroke="#bbb" stroke-width="0.5"/>
<line x1="203.6" y1="362.0" x2="206.6" y2="362.0" stroke="#bbb" stroke-width="0.5"/>
<rect x="200.8" y="351.0" width="8.6" height="7.7" fill="#d2312e"/>
<line x1="200.8" y1="354.9" x2="209.4" y2="354.9" stroke="#fff" stroke-opacity="0.35" stroke-width="0.5"/>
<line x1="216.6" y1="345.0" x2="216.6" y2="347.5" stroke="#bbb" stroke-width="0.5"/>
<line x1="215.1" y1="345.0" x2="218.1" y2="345.0" stroke="#bbb" stroke-width="0.5"/>
<line x1="215.1" y1="347.5" x2="218.1" y2="347.5" stroke="#bbb" stroke-width="0.5"/>
<rect x="212.1" y="345.4" width="8.9" height="1.9" fill="#4a89cf"/>
<line x1="212.1" y1="346.4" x2="221.0" y2="346.4" stroke="#fff" stroke-opacity="0.35" stroke-width="0.5"/>
<line x1="228.2" y1="343.5" x2="228.2" y2="354.0" stroke="#bbb" stroke-width="0.5"/>
<line x1="226.7" y1="343.5" x2="229.7" y2="343.5" stroke="#bbb" stroke-width="0.5"/>
<line x1="226.7" y1="354.0" x2="229.7" y2="354.0" stroke="#bbb" stroke-width="0.5"/>
<rect x="223.8" y="344.8" width="8.8" height="6.7" fill="#7b9a48"/>
<line x1="223.8" y1="348.1" x2="232.6" y2="348.1" stroke="#fff" stroke-opacity="0.35" stroke-width="0.5"/>
<line x1="239.7" y1="355.5" x2="239.7" y2="358.0" stroke="#bbb" stroke-width="0.5"/>
<line x1="238.2" y1="355.5" x2="241.2" y2="355.5" stroke="#bbb" stroke-width="0.5"/>
<line x1="238.2" y1="358.0" x2="241.2" y2="358.0" stroke="#bbb" stroke-width="0.5"/>
<rect x="234.8" y="355.9" width="9.7" height="1.9" fill="#d9a46a"/>
<line x1="234.8" y1="356.9" x2="244.5" y2="356.9" stroke="#fff" stroke-opacity="0.35" stroke-width="0.5"/>
<path d="M148.8,311.5L148.8,309.5L184.2,309.5L184.2,311.5" stroke="#888" stroke-width="0.6" fill="none"/>
<text x="168.5" y="308.4" font-family="Liberation Serif" font-size="4.9" text-anchor="middle" fill="#333">0.012 *</text>
<path d="M148.8,316.2L148.8,314.2L174.8,314.2L174.8,316.2" stroke="#888" stroke-width="0.6" fill="none"/>
<text x="163.8" y="313.1" font-family="Liberation Serif" font-size="4.9" text-anchor="middle" fill="#333">0.003 **</text>
<path d="M148.8,321.4L148.8,319.4L158.8,319.4L158.8,321.4" stroke="#888" stroke-width="0.6" fill="none"/>
<text x="155.8" y="318.3" font-family="Liberation Serif" font-size="4.9" text-anchor="middle" fill="#333">0.021 *</text>
<path d="M203.8,311.4L203.8,309.4L238.4,309.4L238.4,311.4" stroke="#888" stroke-width="0.6" fill="none"/>
<text x="223.1" y="308.3" font-family="Liberation Serif" font-size="4.9" text-anchor="middle" fill="#333">0.746 ns</text>
<path d="M203.8,315.5L203.8,313.5L227.9,313.5L227.9,315.5" stroke="#888" stroke-width="0.6" fill="none"/>
<text x="217.9" y="312.4" font-family="Liberation Serif" font-size="4.9" text-anchor="middle" fill="#333">0.564 ns</text>
<path d="M203.8,319.0L203.8,317.0L214.9,317.0L214.9,319.0" stroke="#888" stroke-width="0.6" fill="none"/>
<text x="211.4" y="315.9" font-family="Liberation Serif" font-size="4.9" text-anchor="middle" fill="#333">0.116 ns</text>
<text x="168" y="398.6" font-family="Liberation Serif" font-weight="bold" font-size="5.4" text-anchor="middle" fill="#222">NH<tspan font-size="3.35" dy="1.2">4</tspan><tspan font-size="3.35" dx="-1.7" dy="-3">+</tspan><tspan dy="1.8">-N</tspan></text>
<text x="227.8" y="398.6" font-family="Liberation Serif" font-weight="bold" font-size="5.4" text-anchor="middle" fill="#222">NO<tspan font-size="3.35" dy="1.2">3</tspan><tspan font-size="3.35" dx="-1.7" dy="-3">-</tspan><tspan dy="1.8">-N</tspan></text>
<line x1="278.2" y1="300.5" x2="278.2" y2="392.2" stroke="#707070" stroke-width="1.1"/>
<line x1="277.65" y1="392.2" x2="390.8" y2="392.2" stroke="#707070" stroke-width="1.1"/>
<line x1="278.2" y1="300.8" x2="277.0" y2="300.8" stroke="#777" stroke-width="0.5"/>
<text x="275.8" y="302.6" font-family="Liberation Serif" font-weight="bold" font-size="5.6" text-anchor="end" fill="#222">200</text>
<line x1="278.2" y1="319.2" x2="277.0" y2="319.2" stroke="#777" stroke-width="0.5"/>
<text x="275.8" y="321.0" font-family="Liberation Serif" font-weight="bold" font-size="5.6" text-anchor="end" fill="#222">175</text>
<line x1="278.2" y1="337.5" x2="277.0" y2="337.5" stroke="#777" stroke-width="0.5"/>
<text x="275.8" y="339.3" font-family="Liberation Serif" font-weight="bold" font-size="5.6" text-anchor="end" fill="#222">150</text>
<line x1="278.2" y1="355.8" x2="277.0" y2="355.8" stroke="#777" stroke-width="0.5"/>
<text x="275.8" y="357.6" font-family="Liberation Serif" font-weight="bold" font-size="5.6" text-anchor="end" fill="#222">125</text>
<line x1="278.2" y1="374.1" x2="277.0" y2="374.1" stroke="#777" stroke-width="0.5"/>
<text x="275.8" y="375.9" font-family="Liberation Serif" font-weight="bold" font-size="5.6" text-anchor="end" fill="#222">100</text>
<line x1="278.2" y1="392.2" x2="277.0" y2="392.2" stroke="#777" stroke-width="0.5"/>
<text x="275.8" y="394.0" font-family="Liberation Serif" font-weight="bold" font-size="5.6" text-anchor="end" fill="#222">75</text>
<text transform="translate(261.6,338) rotate(-90)" font-family="Liberation Serif" font-weight="bold" font-size="5.6" text-anchor="middle" textLength="56" lengthAdjust="spacingAndGlyphs" fill="#111">Chlorophyll content / mg·g<tspan font-size="3.6" dy="-2.2">-1</tspan></text>
<line x1="289.1" y1="363.0" x2="289.1" y2="371.5" stroke="#bbb" stroke-width="0.5"/>
<line x1="287.6" y1="363.0" x2="290.6" y2="363.0" stroke="#bbb" stroke-width="0.5"/>
<line x1="287.6" y1="371.5" x2="290.6" y2="371.5" stroke="#bbb" stroke-width="0.5"/>
<rect x="286.1" y="364.2" width="5.9" height="4.2" fill="#d2312e"/>
<line x1="286.1" y1="366.3" x2="292.0" y2="366.3" stroke="#fff" stroke-opacity="0.35" stroke-width="0.5"/>
<line x1="299.3" y1="349.0" x2="299.3" y2="363.0" stroke="#bbb" stroke-width="0.5"/>
<line x1="297.8" y1="349.0" x2="300.8" y2="349.0" stroke="#bbb" stroke-width="0.5"/>
<line x1="297.8" y1="363.0" x2="300.8" y2="363.0" stroke="#bbb" stroke-width="0.5"/>
<rect x="294.6" y="351.7" width="9.4" height="6.6" fill="#4a89cf"/>
<line x1="294.6" y1="355.0" x2="304.0" y2="355.0" stroke="#fff" stroke-opacity="0.35" stroke-width="0.5"/>
<line x1="311.5" y1="324.5" x2="311.5" y2="356.3" stroke="#bbb" stroke-width="0.5"/>
<line x1="310.0" y1="324.5" x2="313.0" y2="324.5" stroke="#bbb" stroke-width="0.5"/>
<line x1="310.0" y1="356.3" x2="313.0" y2="356.3" stroke="#bbb" stroke-width="0.5"/>
<rect x="306.6" y="335.8" width="9.7" height="16.0" fill="#7b9a48"/>
<line x1="306.6" y1="343.8" x2="316.3" y2="343.8" stroke="#fff" stroke-opacity="0.35" stroke-width="0.5"/>
<line x1="322.2" y1="354.4" x2="322.2" y2="356.0" stroke="#bbb" stroke-width="0.5"/>
<line x1="320.7" y1="354.4" x2="323.7" y2="354.4" stroke="#bbb" stroke-width="0.5"/>
<line x1="320.7" y1="356.0" x2="323.7" y2="356.0" stroke="#bbb" stroke-width="0.5"/>
<rect x="318.4" y="354.6" width="7.6" height="1.3" fill="#d9a46a"/>
<line x1="318.4" y1="355.2" x2="326.0" y2="355.2" stroke="#fff" stroke-opacity="0.35" stroke-width="0.5"/>
<line x1="347.4" y1="375.5" x2="347.4" y2="380.0" stroke="#bbb" stroke-width="0.5"/>
<line x1="345.9" y1="375.5" x2="348.9" y2="375.5" stroke="#bbb" stroke-width="0.5"/>
<line x1="345.9" y1="380.0" x2="348.9" y2="380.0" stroke="#bbb" stroke-width="0.5"/>
<rect x="342.5" y="376.5" width="9.8" height="2.6" fill="#d2312e"/>
<line x1="342.5" y1="377.8" x2="352.3" y2="377.8" stroke="#fff" stroke-opacity="0.35" stroke-width="0.5"/>
<line x1="359.0" y1="368.5" x2="359.0" y2="376.0" stroke="#bbb" stroke-width="0.5"/>
<line x1="357.5" y1="368.5" x2="360.5" y2="368.5" stroke="#bbb" stroke-width="0.5"/>
<line x1="357.5" y1="376.0" x2="360.5" y2="376.0" stroke="#bbb" stroke-width="0.5"/>
<rect x="354.4" y="370.4" width="9.2" height="4.0" fill="#4a89cf"/>
<line x1="354.4" y1="372.4" x2="363.6" y2="372.4" stroke="#fff" stroke-opacity="0.35" stroke-width="0.5"/>
<line x1="371.2" y1="370.0" x2="371.2" y2="385.0" stroke="#bbb" stroke-width="0.5"/>
<line x1="369.7" y1="370.0" x2="372.7" y2="370.0" stroke="#bbb" stroke-width="0.5"/>
<line x1="369.7" y1="385.0" x2="372.7" y2="385.0" stroke="#bbb" stroke-width="0.5"/>
<rect x="366.3" y="371.7" width="9.8" height="8.5" fill="#7b9a48"/>
<line x1="366.3" y1="375.9" x2="376.1" y2="375.9" stroke="#fff" stroke-opacity="0.35" stroke-width="0.5"/>
<line x1="383.8" y1="380.0" x2="383.8" y2="382.0" stroke="#bbb" stroke-width="0.5"/>
<line x1="382.2" y1="380.0" x2="385.2" y2="380.0" stroke="#bbb" stroke-width="0.5"/>
<line x1="382.2" y1="382.0" x2="385.2" y2="382.0" stroke="#bbb" stroke-width="0.5"/>
<rect x="378.7" y="380.2" width="10.1" height="1.6" fill="#d9a46a"/>
<line x1="378.7" y1="381.0" x2="388.8" y2="381.0" stroke="#fff" stroke-opacity="0.35" stroke-width="0.5"/>
<path d="M286.7,306.3L286.7,304.3L324.5,304.3L324.5,306.3" stroke="#888" stroke-width="0.6" fill="none"/>
<text x="307.6" y="303.2" font-family="Liberation Serif" font-size="4.9" text-anchor="middle" fill="#333">0.000 **</text>
<path d="M286.7,313.5L286.7,311.5L312.5,311.5L312.5,313.5" stroke="#888" stroke-width="0.6" fill="none"/>
<text x="301.6" y="310.4" font-family="Liberation Serif" font-size="4.9" text-anchor="middle" fill="#333">0.008 **</text>
<path d="M286.7,320.6L286.7,318.6L299.9,318.6L299.9,320.6" stroke="#888" stroke-width="0.6" fill="none"/>
<text x="295.3" y="317.5" font-family="Liberation Serif" font-size="4.9" text-anchor="middle" fill="#333">0.066 ns</text>
<path d="M345.9,342.0L345.9,340.0L383.5,340.0L383.5,342.0" stroke="#888" stroke-width="0.6" fill="none"/>
<text x="366.7" y="338.9" font-family="Liberation Serif" font-size="4.9" text-anchor="middle" fill="#333">0.895 ns</text>
<path d="M345.9,348.0L345.9,346.0L370.3,346.0L370.3,348.0" stroke="#888" stroke-width="0.6" fill="none"/>
<text x="360.1" y="344.9" font-family="Liberation Serif" font-size="4.9" text-anchor="middle" fill="#333">0.468 ns</text>
<path d="M345.9,355.7L345.9,353.7L359.1,353.7L359.1,355.7" stroke="#888" stroke-width="0.6" fill="none"/>
<text x="354.5" y="352.6" font-family="Liberation Serif" font-size="4.9" text-anchor="middle" fill="#333">0.127 ns</text>
<text x="306.4" y="398.6" font-family="Liberation Serif" font-weight="bold" font-size="5.4" text-anchor="middle" fill="#222">NH<tspan font-size="3.35" dy="1.2">4</tspan><tspan font-size="3.35" dx="-1.7" dy="-3">+</tspan><tspan dy="1.8">-N</tspan></text>
<text x="372" y="398.6" font-family="Liberation Serif" font-weight="bold" font-size="5.4" text-anchor="middle" fill="#222">NO<tspan font-size="3.35" dy="1.2">3</tspan><tspan font-size="3.35" dx="-1.7" dy="-3">-</tspan><tspan dy="1.8">-N</tspan></text>
<rect x="354.2" y="299.5" width="4.7" height="3.3" fill="#d2312e"/>
<text x="360" y="302.8" font-family="Liberation Serif" font-weight="bold" font-size="4.9" textLength="14.5" lengthAdjust="spacingAndGlyphs" fill="#222">BC-0%</text>
<rect x="354.2" y="304.9" width="4.7" height="3.3" fill="#4a89cf"/>
<text x="360" y="308.2" font-family="Liberation Serif" font-weight="bold" font-size="4.9" textLength="14.5" lengthAdjust="spacingAndGlyphs" fill="#222">BC-1%</text>
<rect x="354.2" y="310.3" width="4.7" height="3.3" fill="#7b9a48"/>
<text x="360" y="313.6" font-family="Liberation Serif" font-weight="bold" font-size="4.9" textLength="14.5" lengthAdjust="spacingAndGlyphs" fill="#222">BC-3%</text>
<rect x="354.2" y="315.7" width="4.7" height="3.3" fill="#d9a46a"/>
<text x="360" y="319.0" font-family="Liberation Serif" font-weight="bold" font-size="4.9" textLength="14.5" lengthAdjust="spacingAndGlyphs" fill="#222">BC-5%</text>
</svg>
</body></html>
